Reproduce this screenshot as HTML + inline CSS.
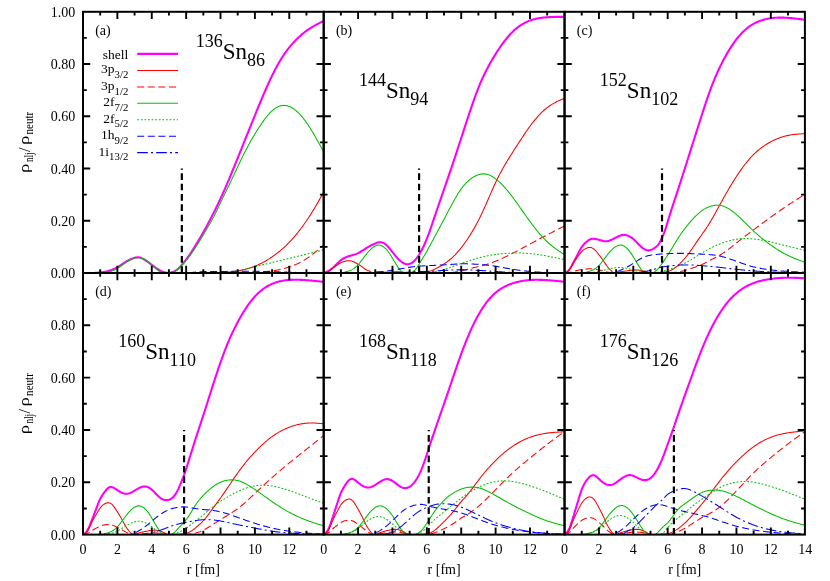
<!DOCTYPE html><html><head><meta charset="utf-8"><title>fig</title><style>html,body{margin:0;padding:0;background:#fff}svg{display:block}text{font-family:"Liberation Serif",serif;fill:#000}</style></head><body>
<svg width="830" height="581" viewBox="0 0 830 581">
<rect width="830" height="581" fill="#fff"/>
<g fill="none" stroke-linejoin="round">
<clipPath id="c0"><rect x="83.00" y="8.80" width="240.70" height="264.20"/></clipPath>
<g clip-path="url(#c0)">
<path d="M83.00 273.00L83.86 273.00L84.72 273.00L85.58 273.00L86.44 273.00L87.30 273.00L88.16 273.00L89.02 273.00L89.88 273.00L90.74 273.00L91.59 273.00L92.45 272.99L93.31 272.98L94.17 272.95L95.03 272.91L95.89 272.87L96.75 272.81L97.61 272.74L98.47 272.66L99.33 272.57L100.19 272.48L101.05 272.37L101.91 272.25L102.77 272.13L103.63 271.99L104.49 271.83L105.35 271.67L106.21 271.48L107.07 271.28L107.93 271.07L108.78 270.83L109.64 270.58L110.50 270.30L111.36 270.01L112.22 269.69L113.08 269.35L113.94 268.98L114.80 268.59L115.66 268.17L116.52 267.73L117.38 267.25L118.24 266.75L119.10 266.23L119.96 265.68L120.82 265.12L121.68 264.56L122.54 263.98L123.40 263.41L124.26 262.85L125.12 262.30L125.97 261.77L126.83 261.26L127.69 260.77L128.55 260.30L129.41 259.87L130.27 259.46L131.13 259.07L131.99 258.72L132.85 258.40L133.71 258.11L134.57 257.85L135.43 257.63L136.29 257.46L137.15 257.35L138.01 257.33L138.87 257.40L139.73 257.55L140.59 257.79L141.45 258.10L142.31 258.47L143.17 258.90L144.02 259.37L144.88 259.89L145.74 260.44L146.60 261.03L147.46 261.64L148.32 262.27L149.18 262.92L150.04 263.58L150.90 264.24L151.76 264.90L152.62 265.56L153.48 266.21L154.34 266.84L155.20 267.46L156.06 268.06L156.92 268.63L157.78 269.18L158.64 269.71L159.50 270.20L160.36 270.65L161.21 271.06L162.07 271.44L162.93 271.77L163.79 272.06L164.65 272.30L165.51 272.50L166.37 272.64L167.23 272.74L168.09 272.78L168.95 272.77L169.81 272.70L170.67 272.57L171.53 272.38L172.39 272.13L173.25 271.81L174.11 271.43L174.97 270.98L175.83 270.47L176.69 269.88L177.55 269.21L178.40 268.47L179.26 267.67L180.12 266.80L180.98 265.87L181.84 264.90L182.70 263.89L183.56 262.85L184.42 261.78L185.28 260.67L186.14 259.55L187.00 258.40L187.86 257.23L188.72 256.03L189.58 254.80L190.44 253.54L191.30 252.23L192.16 250.88L193.02 249.51L193.88 248.11L194.74 246.71L195.59 245.30L196.45 243.90L197.31 242.49L198.17 241.08L199.03 239.65L199.89 238.21L200.75 236.76L201.61 235.28L202.47 233.79L203.33 232.28L204.19 230.75L205.05 229.20L205.91 227.64L206.77 226.06L207.63 224.46L208.49 222.86L209.35 221.23L210.21 219.60L211.07 217.94L211.93 216.27L212.78 214.59L213.64 212.89L214.50 211.17L215.36 209.43L216.22 207.68L217.08 205.91L217.94 204.12L218.80 202.31L219.66 200.48L220.52 198.63L221.38 196.76L222.24 194.87L223.10 192.96L223.96 191.03L224.82 189.08L225.68 187.11L226.54 185.12L227.40 183.11L228.26 181.08L229.12 179.04L229.97 176.99L230.83 174.92L231.69 172.85L232.55 170.76L233.41 168.66L234.27 166.55L235.13 164.44L235.99 162.31L236.85 160.19L237.71 158.06L238.57 155.92L239.43 153.79L240.29 151.65L241.15 149.52L242.01 147.38L242.87 145.24L243.73 143.10L244.59 140.97L245.45 138.83L246.31 136.70L247.16 134.56L248.02 132.43L248.88 130.29L249.74 128.16L250.60 126.03L251.46 123.91L252.32 121.78L253.18 119.66L254.04 117.54L254.90 115.42L255.76 113.31L256.62 111.20L257.48 109.10L258.34 107.01L259.20 104.93L260.06 102.86L260.92 100.80L261.78 98.75L262.64 96.72L263.50 94.70L264.35 92.70L265.21 90.72L266.07 88.76L266.93 86.81L267.79 84.89L268.65 83.00L269.51 81.12L270.37 79.28L271.23 77.46L272.09 75.67L272.95 73.92L273.81 72.20L274.67 70.52L275.53 68.87L276.39 67.26L277.25 65.68L278.11 64.14L278.97 62.64L279.83 61.18L280.69 59.75L281.54 58.37L282.40 57.02L283.26 55.71L284.12 54.43L284.98 53.19L285.84 51.99L286.70 50.81L287.56 49.67L288.42 48.56L289.28 47.47L290.14 46.42L291.00 45.39L291.86 44.38L292.72 43.41L293.58 42.46L294.44 41.53L295.30 40.62L296.16 39.74L297.02 38.88L297.88 38.05L298.73 37.23L299.59 36.44L300.45 35.66L301.31 34.91L302.17 34.17L303.03 33.46L303.89 32.77L304.75 32.09L305.61 31.44L306.47 30.81L307.33 30.19L308.19 29.60L309.05 29.02L309.91 28.46L310.77 27.91L311.63 27.38L312.49 26.87L313.35 26.36L314.21 25.87L315.07 25.39L315.92 24.92L316.78 24.46L317.64 24.00L318.50 23.56L319.36 23.11L320.22 22.68L321.08 22.25L321.94 21.82L322.80 21.39L323.66 20.96" stroke="#ff00ff" stroke-width="2.1"/>
<path d="M83.00 273.00L83.86 273.00L84.72 273.00L85.58 273.00L86.44 273.00L87.30 273.00L88.16 273.00L89.02 273.00L89.88 273.00L90.74 273.00L91.59 273.00L92.45 273.00L93.31 273.00L94.17 273.00L95.03 273.00L95.89 273.00L96.75 273.00L97.61 273.00L98.47 273.00L99.33 273.00L100.19 273.00L101.05 273.00L101.91 273.00L102.77 273.00L103.63 273.00L104.49 273.00L105.35 273.00L106.21 273.00L107.07 273.00L107.93 273.00L108.78 273.00L109.64 273.00L110.50 273.00L111.36 273.00L112.22 273.00L113.08 273.00L113.94 273.00L114.80 273.00L115.66 273.00L116.52 273.00L117.38 273.00L118.24 273.00L119.10 273.00L119.96 273.00L120.82 273.00L121.68 273.00L122.54 273.00L123.40 273.00L124.26 273.00L125.12 273.00L125.97 273.00L126.83 273.00L127.69 273.00L128.55 273.00L129.41 273.00L130.27 273.00L131.13 273.00L131.99 273.00L132.85 273.00L133.71 273.00L134.57 273.00L135.43 273.00L136.29 273.00L137.15 273.00L138.01 273.00L138.87 273.00L139.73 273.00L140.59 273.00L141.45 273.00L142.31 273.00L143.17 273.00L144.02 273.00L144.88 273.00L145.74 273.00L146.60 273.00L147.46 273.00L148.32 273.00L149.18 273.00L150.04 273.00L150.90 273.00L151.76 273.00L152.62 273.00L153.48 273.00L154.34 273.00L155.20 273.00L156.06 273.00L156.92 273.00L157.78 273.00L158.64 273.00L159.50 273.00L160.36 273.00L161.21 273.00L162.07 273.00L162.93 273.00L163.79 273.00L164.65 273.00L165.51 273.00L166.37 273.00L167.23 273.00L168.09 273.00L168.95 273.00L169.81 273.00L170.67 273.00L171.53 273.00L172.39 273.00L173.25 273.00L174.11 273.00L174.97 273.00L175.83 273.00L176.69 273.00L177.55 273.00L178.40 273.00L179.26 273.00L180.12 273.00L180.98 273.00L181.84 273.00L182.70 273.00L183.56 273.00L184.42 273.00L185.28 273.00L186.14 273.00L187.00 273.00L187.86 273.00L188.72 273.00L189.58 273.00L190.44 273.00L191.30 273.00L192.16 273.00L193.02 273.00L193.88 273.00L194.74 273.00L195.59 273.00L196.45 273.00L197.31 273.00L198.17 273.00L199.03 273.00L199.89 273.00L200.75 273.00L201.61 273.00L202.47 273.00L203.33 273.00L204.19 273.00L205.05 273.00L205.91 273.00L206.77 273.00L207.63 273.00L208.49 273.00L209.35 272.99L210.21 272.99L211.07 272.98L211.93 272.98L212.78 272.97L213.64 272.95L214.50 272.94L215.36 272.92L216.22 272.90L217.08 272.88L217.94 272.85L218.80 272.82L219.66 272.78L220.52 272.74L221.38 272.69L222.24 272.65L223.10 272.59L223.96 272.54L224.82 272.47L225.68 272.41L226.54 272.34L227.40 272.26L228.26 272.18L229.12 272.09L229.97 272.00L230.83 271.90L231.69 271.80L232.55 271.69L233.41 271.57L234.27 271.45L235.13 271.32L235.99 271.19L236.85 271.05L237.71 270.90L238.57 270.74L239.43 270.58L240.29 270.41L241.15 270.23L242.01 270.05L242.87 269.86L243.73 269.66L244.59 269.45L245.45 269.23L246.31 269.00L247.16 268.77L248.02 268.52L248.88 268.27L249.74 268.00L250.60 267.72L251.46 267.44L252.32 267.14L253.18 266.83L254.04 266.51L254.90 266.18L255.76 265.83L256.62 265.48L257.48 265.11L258.34 264.73L259.20 264.33L260.06 263.92L260.92 263.50L261.78 263.07L262.64 262.62L263.50 262.16L264.35 261.69L265.21 261.20L266.07 260.71L266.93 260.20L267.79 259.67L268.65 259.14L269.51 258.59L270.37 258.03L271.23 257.46L272.09 256.87L272.95 256.28L273.81 255.67L274.67 255.05L275.53 254.42L276.39 253.78L277.25 253.12L278.11 252.45L278.97 251.77L279.83 251.07L280.69 250.36L281.54 249.63L282.40 248.89L283.26 248.13L284.12 247.36L284.98 246.57L285.84 245.76L286.70 244.94L287.56 244.10L288.42 243.24L289.28 242.36L290.14 241.46L291.00 240.55L291.86 239.61L292.72 238.66L293.58 237.68L294.44 236.69L295.30 235.68L296.16 234.65L297.02 233.59L297.88 232.52L298.73 231.44L299.59 230.33L300.45 229.20L301.31 228.05L302.17 226.89L303.03 225.70L303.89 224.50L304.75 223.28L305.61 222.05L306.47 220.79L307.33 219.52L308.19 218.22L309.05 216.92L309.91 215.59L310.77 214.25L311.63 212.89L312.49 211.51L313.35 210.11L314.21 208.70L315.07 207.27L315.92 205.82L316.78 204.36L317.64 202.88L318.50 201.38L319.36 199.87L320.22 198.34L321.08 196.79L321.94 195.23L322.80 193.65L323.66 192.05" stroke="#ff0000" stroke-width="1.05"/>
<path d="M83.00 273.00L83.86 273.00L84.72 273.00L85.58 273.00L86.44 273.00L87.30 273.00L88.16 273.00L89.02 273.00L89.88 273.00L90.74 273.00L91.59 273.00L92.45 273.00L93.31 273.00L94.17 273.00L95.03 273.00L95.89 273.00L96.75 273.00L97.61 273.00L98.47 273.00L99.33 273.00L100.19 273.00L101.05 273.00L101.91 273.00L102.77 273.00L103.63 273.00L104.49 273.00L105.35 273.00L106.21 273.00L107.07 273.00L107.93 273.00L108.78 273.00L109.64 273.00L110.50 273.00L111.36 273.00L112.22 273.00L113.08 273.00L113.94 273.00L114.80 273.00L115.66 273.00L116.52 273.00L117.38 273.00L118.24 273.00L119.10 273.00L119.96 273.00L120.82 273.00L121.68 273.00L122.54 273.00L123.40 273.00L124.26 273.00L125.12 273.00L125.97 273.00L126.83 273.00L127.69 273.00L128.55 273.00L129.41 273.00L130.27 273.00L131.13 273.00L131.99 273.00L132.85 273.00L133.71 273.00L134.57 273.00L135.43 273.00L136.29 273.00L137.15 273.00L138.01 273.00L138.87 273.00L139.73 273.00L140.59 273.00L141.45 273.00L142.31 273.00L143.17 273.00L144.02 273.00L144.88 273.00L145.74 273.00L146.60 273.00L147.46 273.00L148.32 273.00L149.18 273.00L150.04 273.00L150.90 273.00L151.76 273.00L152.62 273.00L153.48 273.00L154.34 273.00L155.20 273.00L156.06 273.00L156.92 273.00L157.78 273.00L158.64 273.00L159.50 273.00L160.36 273.00L161.21 273.00L162.07 273.00L162.93 273.00L163.79 273.00L164.65 273.00L165.51 273.00L166.37 273.00L167.23 273.00L168.09 273.00L168.95 273.00L169.81 273.00L170.67 273.00L171.53 273.00L172.39 273.00L173.25 273.00L174.11 273.00L174.97 273.00L175.83 273.00L176.69 273.00L177.55 273.00L178.40 273.00L179.26 273.00L180.12 273.00L180.98 273.00L181.84 273.00L182.70 273.00L183.56 273.00L184.42 273.00L185.28 273.00L186.14 273.00L187.00 273.00L187.86 273.00L188.72 273.00L189.58 273.00L190.44 273.00L191.30 273.00L192.16 273.00L193.02 273.00L193.88 273.00L194.74 273.00L195.59 273.00L196.45 273.00L197.31 273.00L198.17 273.00L199.03 273.00L199.89 273.00L200.75 273.00L201.61 273.00L202.47 273.00L203.33 273.00L204.19 273.00L205.05 273.00L205.91 273.00L206.77 273.00L207.63 273.00L208.49 273.00L209.35 273.00L210.21 273.00L211.07 273.00L211.93 273.00L212.78 273.00L213.64 273.00L214.50 273.00L215.36 273.00L216.22 273.00L217.08 273.00L217.94 273.00L218.80 273.00L219.66 273.00L220.52 273.00L221.38 273.00L222.24 273.00L223.10 273.00L223.96 273.00L224.82 273.00L225.68 273.00L226.54 273.00L227.40 272.99L228.26 272.99L229.12 272.99L229.97 272.98L230.83 272.97L231.69 272.96L232.55 272.95L233.41 272.94L234.27 272.93L235.13 272.92L235.99 272.90L236.85 272.88L237.71 272.86L238.57 272.84L239.43 272.82L240.29 272.80L241.15 272.78L242.01 272.75L242.87 272.73L243.73 272.70L244.59 272.67L245.45 272.64L246.31 272.61L247.16 272.58L248.02 272.55L248.88 272.51L249.74 272.48L250.60 272.44L251.46 272.41L252.32 272.37L253.18 272.33L254.04 272.29L254.90 272.24L255.76 272.20L256.62 272.16L257.48 272.11L258.34 272.06L259.20 272.01L260.06 271.96L260.92 271.90L261.78 271.84L262.64 271.78L263.50 271.72L264.35 271.65L265.21 271.58L266.07 271.51L266.93 271.43L267.79 271.35L268.65 271.26L269.51 271.17L270.37 271.08L271.23 270.97L272.09 270.86L272.95 270.75L273.81 270.63L274.67 270.50L275.53 270.36L276.39 270.22L277.25 270.07L278.11 269.91L278.97 269.74L279.83 269.56L280.69 269.38L281.54 269.19L282.40 268.98L283.26 268.77L284.12 268.55L284.98 268.32L285.84 268.08L286.70 267.83L287.56 267.57L288.42 267.30L289.28 267.02L290.14 266.73L291.00 266.43L291.86 266.11L292.72 265.79L293.58 265.45L294.44 265.10L295.30 264.74L296.16 264.37L297.02 263.98L297.88 263.58L298.73 263.16L299.59 262.73L300.45 262.29L301.31 261.83L302.17 261.36L303.03 260.87L303.89 260.36L304.75 259.84L305.61 259.30L306.47 258.75L307.33 258.17L308.19 257.58L309.05 256.97L309.91 256.35L310.77 255.71L311.63 255.06L312.49 254.39L313.35 253.71L314.21 253.02L315.07 252.32L315.92 251.60L316.78 250.88L317.64 250.15L318.50 249.41L319.36 248.66L320.22 247.90L321.08 247.12L321.94 246.34L322.80 245.55L323.66 244.74" stroke="#ff0000" stroke-width="1.05" stroke-dasharray="7 3.6"/>
<path d="M83.00 273.00L83.86 273.00L84.72 273.00L85.58 273.00L86.44 273.00L87.30 273.00L88.16 273.00L89.02 273.00L89.88 273.00L90.74 273.00L91.59 273.00L92.45 273.00L93.31 273.00L94.17 273.00L95.03 273.00L95.89 273.00L96.75 273.00L97.61 273.00L98.47 273.00L99.33 272.98L100.19 272.95L101.05 272.89L101.91 272.81L102.77 272.71L103.63 272.59L104.49 272.47L105.35 272.34L106.21 272.21L107.07 272.06L107.93 271.91L108.78 271.75L109.64 271.56L110.50 271.36L111.36 271.13L112.22 270.87L113.08 270.57L113.94 270.23L114.80 269.84L115.66 269.41L116.52 268.95L117.38 268.44L118.24 267.90L119.10 267.33L119.96 266.74L120.82 266.13L121.68 265.51L122.54 264.88L123.40 264.26L124.26 263.63L125.12 263.02L125.97 262.42L126.83 261.84L127.69 261.29L128.55 260.78L129.41 260.29L130.27 259.83L131.13 259.41L131.99 259.03L132.85 258.68L133.71 258.37L134.57 258.10L135.43 257.89L136.29 257.73L137.15 257.63L138.01 257.59L138.87 257.62L139.73 257.71L140.59 257.87L141.45 258.09L142.31 258.37L143.17 258.70L144.02 259.09L144.88 259.53L145.74 260.03L146.60 260.57L147.46 261.17L148.32 261.81L149.18 262.51L150.04 263.25L150.90 264.02L151.76 264.82L152.62 265.62L153.48 266.42L154.34 267.22L155.20 267.99L156.06 268.74L156.92 269.47L157.78 270.18L158.64 270.87L159.50 271.51L160.36 272.04L161.21 272.42L162.07 272.67L162.93 272.81L163.79 272.90L164.65 272.95L165.51 272.98L166.37 272.99L167.23 273.00L168.09 272.99L168.95 272.95L169.81 272.88L170.67 272.76L171.53 272.59L172.39 272.36L173.25 272.06L174.11 271.68L174.97 271.24L175.83 270.72L176.69 270.13L177.55 269.47L178.40 268.76L179.26 268.00L180.12 267.18L180.98 266.32L181.84 265.43L182.70 264.49L183.56 263.52L184.42 262.53L185.28 261.51L186.14 260.46L187.00 259.40L187.86 258.31L188.72 257.20L189.58 256.06L190.44 254.90L191.30 253.72L192.16 252.50L193.02 251.26L193.88 249.99L194.74 248.71L195.59 247.40L196.45 246.08L197.31 244.74L198.17 243.38L199.03 242.01L199.89 240.61L200.75 239.20L201.61 237.77L202.47 236.32L203.33 234.86L204.19 233.39L205.05 231.91L205.91 230.43L206.77 228.95L207.63 227.48L208.49 226.01L209.35 224.56L210.21 223.10L211.07 221.63L211.93 220.10L212.78 218.52L213.64 216.89L214.50 215.22L215.36 213.50L216.22 211.76L217.08 209.98L217.94 208.19L218.80 206.37L219.66 204.56L220.52 202.74L221.38 200.92L222.24 199.13L223.10 197.35L223.96 195.59L224.82 193.84L225.68 192.10L226.54 190.35L227.40 188.60L228.26 186.82L229.12 185.04L229.97 183.24L230.83 181.43L231.69 179.61L232.55 177.78L233.41 175.95L234.27 174.11L235.13 172.28L235.99 170.44L236.85 168.61L237.71 166.78L238.57 164.96L239.43 163.15L240.29 161.35L241.15 159.56L242.01 157.79L242.87 156.04L243.73 154.32L244.59 152.61L245.45 150.94L246.31 149.28L247.16 147.65L248.02 146.04L248.88 144.46L249.74 142.90L250.60 141.37L251.46 139.85L252.32 138.36L253.18 136.89L254.04 135.45L254.90 134.02L255.76 132.61L256.62 131.23L257.48 129.86L258.34 128.52L259.20 127.19L260.06 125.88L260.92 124.59L261.78 123.32L262.64 122.08L263.50 120.86L264.35 119.67L265.21 118.52L266.07 117.40L266.93 116.32L267.79 115.28L268.65 114.28L269.51 113.33L270.37 112.43L271.23 111.58L272.09 110.78L272.95 110.03L273.81 109.34L274.67 108.71L275.53 108.12L276.39 107.60L277.25 107.13L278.11 106.71L278.97 106.35L279.83 106.05L280.69 105.80L281.54 105.61L282.40 105.48L283.26 105.40L284.12 105.38L284.98 105.42L285.84 105.52L286.70 105.67L287.56 105.87L288.42 106.13L289.28 106.45L290.14 106.81L291.00 107.23L291.86 107.70L292.72 108.21L293.58 108.78L294.44 109.40L295.30 110.06L296.16 110.77L297.02 111.52L297.88 112.32L298.73 113.16L299.59 114.04L300.45 114.97L301.31 115.94L302.17 116.94L303.03 117.99L303.89 119.08L304.75 120.21L305.61 121.37L306.47 122.57L307.33 123.81L308.19 125.08L309.05 126.39L309.91 127.73L310.77 129.10L311.63 130.50L312.49 131.93L313.35 133.39L314.21 134.86L315.07 136.35L315.92 137.86L316.78 139.39L317.64 140.92L318.50 142.46L319.36 144.00L320.22 145.55L321.08 147.09L321.94 148.64L322.80 150.18L323.66 151.71" stroke="#00c000" stroke-width="1.05"/>
<path d="M83.00 273.00L83.86 273.00L84.72 273.00L85.58 273.00L86.44 273.00L87.30 273.00L88.16 273.00L89.02 273.00L89.88 273.00L90.74 273.00L91.59 273.00L92.45 273.00L93.31 273.00L94.17 273.00L95.03 273.00L95.89 273.00L96.75 273.00L97.61 273.00L98.47 273.00L99.33 273.00L100.19 273.00L101.05 273.00L101.91 273.00L102.77 273.00L103.63 273.00L104.49 273.00L105.35 273.00L106.21 273.00L107.07 273.00L107.93 273.00L108.78 273.00L109.64 273.00L110.50 273.00L111.36 273.00L112.22 273.00L113.08 273.00L113.94 273.00L114.80 273.00L115.66 273.00L116.52 273.00L117.38 273.00L118.24 273.00L119.10 273.00L119.96 273.00L120.82 273.00L121.68 273.00L122.54 273.00L123.40 273.00L124.26 273.00L125.12 273.00L125.97 273.00L126.83 273.00L127.69 273.00L128.55 273.00L129.41 273.00L130.27 273.00L131.13 273.00L131.99 273.00L132.85 273.00L133.71 273.00L134.57 273.00L135.43 273.00L136.29 273.00L137.15 273.00L138.01 273.00L138.87 273.00L139.73 273.00L140.59 273.00L141.45 273.00L142.31 273.00L143.17 273.00L144.02 273.00L144.88 273.00L145.74 273.00L146.60 273.00L147.46 273.00L148.32 273.00L149.18 273.00L150.04 273.00L150.90 273.00L151.76 273.00L152.62 273.00L153.48 273.00L154.34 273.00L155.20 273.00L156.06 273.00L156.92 273.00L157.78 273.00L158.64 273.00L159.50 273.00L160.36 273.00L161.21 273.00L162.07 273.00L162.93 273.00L163.79 273.00L164.65 273.00L165.51 273.00L166.37 273.00L167.23 273.00L168.09 273.00L168.95 273.00L169.81 273.00L170.67 273.00L171.53 273.00L172.39 273.00L173.25 273.00L174.11 273.00L174.97 273.00L175.83 273.00L176.69 273.00L177.55 273.00L178.40 273.00L179.26 273.00L180.12 273.00L180.98 273.00L181.84 273.00L182.70 273.00L183.56 273.00L184.42 273.00L185.28 273.00L186.14 273.00L187.00 273.00L187.86 273.00L188.72 273.00L189.58 273.00L190.44 273.00L191.30 273.00L192.16 273.00L193.02 273.00L193.88 273.00L194.74 273.00L195.59 273.00L196.45 273.00L197.31 273.00L198.17 273.00L199.03 273.00L199.89 273.00L200.75 273.00L201.61 273.00L202.47 273.00L203.33 273.00L204.19 273.00L205.05 273.00L205.91 273.00L206.77 273.00L207.63 273.00L208.49 273.00L209.35 272.99L210.21 272.99L211.07 272.98L211.93 272.98L212.78 272.97L213.64 272.96L214.50 272.94L215.36 272.92L216.22 272.90L217.08 272.88L217.94 272.85L218.80 272.82L219.66 272.78L220.52 272.74L221.38 272.69L222.24 272.64L223.10 272.59L223.96 272.53L224.82 272.47L225.68 272.40L226.54 272.33L227.40 272.25L228.26 272.17L229.12 272.08L229.97 271.98L230.83 271.88L231.69 271.78L232.55 271.66L233.41 271.55L234.27 271.42L235.13 271.29L235.99 271.15L236.85 271.01L237.71 270.86L238.57 270.71L239.43 270.54L240.29 270.37L241.15 270.20L242.01 270.02L242.87 269.83L243.73 269.64L244.59 269.45L245.45 269.24L246.31 269.04L247.16 268.83L248.02 268.61L248.88 268.40L249.74 268.18L250.60 267.95L251.46 267.73L252.32 267.50L253.18 267.28L254.04 267.05L254.90 266.82L255.76 266.60L256.62 266.37L257.48 266.15L258.34 265.93L259.20 265.71L260.06 265.49L260.92 265.27L261.78 265.05L262.64 264.84L263.50 264.62L264.35 264.41L265.21 264.19L266.07 263.98L266.93 263.77L267.79 263.56L268.65 263.35L269.51 263.14L270.37 262.93L271.23 262.73L272.09 262.52L272.95 262.31L273.81 262.10L274.67 261.90L275.53 261.69L276.39 261.48L277.25 261.27L278.11 261.07L278.97 260.86L279.83 260.65L280.69 260.44L281.54 260.24L282.40 260.03L283.26 259.82L284.12 259.61L284.98 259.41L285.84 259.20L286.70 258.99L287.56 258.79L288.42 258.58L289.28 258.37L290.14 258.17L291.00 257.96L291.86 257.75L292.72 257.54L293.58 257.34L294.44 257.13L295.30 256.92L296.16 256.71L297.02 256.51L297.88 256.30L298.73 256.09L299.59 255.88L300.45 255.67L301.31 255.46L302.17 255.25L303.03 255.04L303.89 254.83L304.75 254.61L305.61 254.40L306.47 254.19L307.33 253.97L308.19 253.76L309.05 253.54L309.91 253.33L310.77 253.11L311.63 252.89L312.49 252.67L313.35 252.46L314.21 252.24L315.07 252.01L315.92 251.79L316.78 251.57L317.64 251.34L318.50 251.12L319.36 250.89L320.22 250.67L321.08 250.44L321.94 250.21L322.80 249.98L323.66 249.75" stroke="#00c000" stroke-width="1.05" stroke-dasharray="1.8 1.8"/>
<path d="M83.00 273.00L83.86 273.00L84.72 273.00L85.58 273.00L86.44 273.00L87.30 273.00L88.16 273.00L89.02 273.00L89.88 273.00L90.74 273.00L91.59 273.00L92.45 273.00L93.31 273.00L94.17 273.00L95.03 273.00L95.89 273.00L96.75 273.00L97.61 273.00L98.47 273.00L99.33 273.00L100.19 273.00L101.05 273.00L101.91 273.00L102.77 273.00L103.63 273.00L104.49 273.00L105.35 273.00L106.21 273.00L107.07 273.00L107.93 273.00L108.78 273.00L109.64 273.00L110.50 273.00L111.36 273.00L112.22 273.00L113.08 273.00L113.94 273.00L114.80 273.00L115.66 273.00L116.52 273.00L117.38 273.00L118.24 273.00L119.10 273.00L119.96 273.00L120.82 273.00L121.68 273.00L122.54 273.00L123.40 273.00L124.26 273.00L125.12 273.00L125.97 273.00L126.83 273.00L127.69 273.00L128.55 273.00L129.41 273.00L130.27 273.00L131.13 273.00L131.99 273.00L132.85 273.00L133.71 273.00L134.57 273.00L135.43 273.00L136.29 273.00L137.15 273.00L138.01 273.00L138.87 273.00L139.73 273.00L140.59 273.00L141.45 273.00L142.31 273.00L143.17 273.00L144.02 273.00L144.88 273.00L145.74 273.00L146.60 273.00L147.46 273.00L148.32 273.00L149.18 273.00L150.04 273.00L150.90 273.00L151.76 273.00L152.62 273.00L153.48 273.00L154.34 273.00L155.20 273.00L156.06 273.00L156.92 273.00L157.78 273.00L158.64 273.00L159.50 273.00L160.36 273.00L161.21 273.00L162.07 273.00L162.93 273.00L163.79 273.00L164.65 273.00L165.51 273.00L166.37 273.00L167.23 273.00L168.09 273.00L168.95 273.00L169.81 273.00L170.67 273.00L171.53 273.00L172.39 273.00L173.25 273.00L174.11 273.00L174.97 273.00L175.83 273.00L176.69 273.00L177.55 273.00L178.40 273.00L179.26 273.00L180.12 273.00L180.98 273.00L181.84 272.99L182.70 272.98L183.56 272.97L184.42 272.95L185.28 272.93L186.14 272.89L187.00 272.86L187.86 272.81L188.72 272.75L189.58 272.69L190.44 272.62L191.30 272.55L192.16 272.47L193.02 272.39L193.88 272.30L194.74 272.22L195.59 272.13L196.45 272.05L197.31 271.98L198.17 271.91L199.03 271.84L199.89 271.78L200.75 271.72L201.61 271.67L202.47 271.62L203.33 271.58L204.19 271.55L205.05 271.52L205.91 271.49L206.77 271.47L207.63 271.45L208.49 271.43L209.35 271.42L210.21 271.41L211.07 271.41L211.93 271.41L212.78 271.41L213.64 271.41L214.50 271.41L215.36 271.41L216.22 271.42L217.08 271.42L217.94 271.43L218.80 271.43L219.66 271.43L220.52 271.43L221.38 271.43L222.24 271.43L223.10 271.43L223.96 271.42L224.82 271.42L225.68 271.41L226.54 271.40L227.40 271.39L228.26 271.38L229.12 271.37L229.97 271.36L230.83 271.34L231.69 271.33L232.55 271.32L233.41 271.31L234.27 271.29L235.13 271.28L235.99 271.27L236.85 271.25L237.71 271.24L238.57 271.23L239.43 271.22L240.29 271.21L241.15 271.20L242.01 271.19L242.87 271.19L243.73 271.18L244.59 271.18L245.45 271.17L246.31 271.17L247.16 271.17L248.02 271.17L248.88 271.18L249.74 271.19L250.60 271.19L251.46 271.20L252.32 271.21L253.18 271.22L254.04 271.24L254.90 271.25L255.76 271.27L256.62 271.28L257.48 271.30L258.34 271.32L259.20 271.34L260.06 271.36L260.92 271.38L261.78 271.40L262.64 271.42L263.50 271.45L264.35 271.47L265.21 271.50L266.07 271.52L266.93 271.54L267.79 271.57L268.65 271.59L269.51 271.62L270.37 271.64L271.23 271.67L272.09 271.69L272.95 271.72L273.81 271.74L274.67 271.77L275.53 271.79L276.39 271.82L277.25 271.84L278.11 271.87L278.97 271.89L279.83 271.92L280.69 271.94L281.54 271.97L282.40 271.99L283.26 272.02L284.12 272.05L284.98 272.07L285.84 272.10L286.70 272.12L287.56 272.15L288.42 272.18L289.28 272.20L290.14 272.23L291.00 272.26L291.86 272.28L292.72 272.31L293.58 272.34L294.44 272.37L295.30 272.39L296.16 272.42L297.02 272.45L297.88 272.48L298.73 272.51L299.59 272.53L300.45 272.56L301.31 272.59L302.17 272.61L303.03 272.64L303.89 272.67L304.75 272.69L305.61 272.72L306.47 272.74L307.33 272.76L308.19 272.79L309.05 272.81L309.91 272.83L310.77 272.85L311.63 272.87L312.49 272.89L313.35 272.90L314.21 272.92L315.07 272.93L315.92 272.94L316.78 272.96L317.64 272.97L318.50 272.97L319.36 272.98L320.22 272.99L321.08 272.99L321.94 273.00L322.80 273.00L323.66 273.00" stroke="#0000ff" stroke-width="1.05" stroke-dasharray="7 3.6"/>
<path d="M83.00 273.00L83.86 273.00L84.72 273.00L85.58 273.00L86.44 273.00L87.30 273.00L88.16 273.00L89.02 273.00L89.88 273.00L90.74 273.00L91.59 273.00L92.45 273.00L93.31 273.00L94.17 273.00L95.03 273.00L95.89 273.00L96.75 273.00L97.61 273.00L98.47 273.00L99.33 273.00L100.19 273.00L101.05 273.00L101.91 273.00L102.77 273.00L103.63 273.00L104.49 273.00L105.35 273.00L106.21 273.00L107.07 273.00L107.93 273.00L108.78 273.00L109.64 273.00L110.50 273.00L111.36 273.00L112.22 273.00L113.08 273.00L113.94 273.00L114.80 273.00L115.66 273.00L116.52 273.00L117.38 273.00L118.24 273.00L119.10 273.00L119.96 273.00L120.82 273.00L121.68 273.00L122.54 273.00L123.40 273.00L124.26 273.00L125.12 273.00L125.97 273.00L126.83 273.00L127.69 273.00L128.55 273.00L129.41 273.00L130.27 273.00L131.13 273.00L131.99 273.00L132.85 273.00L133.71 273.00L134.57 273.00L135.43 273.00L136.29 273.00L137.15 273.00L138.01 273.00L138.87 273.00L139.73 273.00L140.59 273.00L141.45 273.00L142.31 273.00L143.17 273.00L144.02 273.00L144.88 273.00L145.74 273.00L146.60 273.00L147.46 273.00L148.32 273.00L149.18 273.00L150.04 273.00L150.90 273.00L151.76 273.00L152.62 273.00L153.48 273.00L154.34 273.00L155.20 273.00L156.06 273.00L156.92 273.00L157.78 273.00L158.64 273.00L159.50 273.00L160.36 273.00L161.21 273.00L162.07 273.00L162.93 273.00L163.79 273.00L164.65 273.00L165.51 273.00L166.37 273.00L167.23 273.00L168.09 273.00L168.95 273.00L169.81 273.00L170.67 273.00L171.53 273.00L172.39 273.00L173.25 273.00L174.11 273.00L174.97 273.00L175.83 273.00L176.69 273.00L177.55 273.00L178.40 273.00L179.26 273.00L180.12 273.00L180.98 273.00L181.84 273.00L182.70 273.00L183.56 273.00L184.42 273.00L185.28 273.00L186.14 273.00L187.00 273.00L187.86 273.00L188.72 273.00L189.58 273.00L190.44 273.00L191.30 273.00L192.16 273.00L193.02 273.00L193.88 273.00L194.74 272.99L195.59 272.99L196.45 272.99L197.31 272.98L198.17 272.98L199.03 272.97L199.89 272.96L200.75 272.95L201.61 272.94L202.47 272.93L203.33 272.92L204.19 272.90L205.05 272.89L205.91 272.87L206.77 272.85L207.63 272.83L208.49 272.81L209.35 272.79L210.21 272.77L211.07 272.75L211.93 272.72L212.78 272.70L213.64 272.67L214.50 272.65L215.36 272.62L216.22 272.60L217.08 272.57L217.94 272.55L218.80 272.52L219.66 272.50L220.52 272.48L221.38 272.46L222.24 272.44L223.10 272.42L223.96 272.40L224.82 272.39L225.68 272.37L226.54 272.36L227.40 272.35L228.26 272.34L229.12 272.33L229.97 272.33L230.83 272.32L231.69 272.32L232.55 272.31L233.41 272.31L234.27 272.31L235.13 272.31L235.99 272.31L236.85 272.32L237.71 272.32L238.57 272.32L239.43 272.33L240.29 272.33L241.15 272.34L242.01 272.35L242.87 272.35L243.73 272.36L244.59 272.37L245.45 272.38L246.31 272.39L247.16 272.40L248.02 272.41L248.88 272.42L249.74 272.42L250.60 272.43L251.46 272.44L252.32 272.45L253.18 272.46L254.04 272.47L254.90 272.48L255.76 272.49L256.62 272.49L257.48 272.50L258.34 272.51L259.20 272.51L260.06 272.52L260.92 272.53L261.78 272.53L262.64 272.54L263.50 272.55L264.35 272.55L265.21 272.56L266.07 272.56L266.93 272.57L267.79 272.57L268.65 272.58L269.51 272.59L270.37 272.59L271.23 272.60L272.09 272.60L272.95 272.61L273.81 272.61L274.67 272.62L275.53 272.62L276.39 272.63L277.25 272.64L278.11 272.64L278.97 272.65L279.83 272.66L280.69 272.66L281.54 272.67L282.40 272.68L283.26 272.68L284.12 272.69L284.98 272.70L285.84 272.71L286.70 272.71L287.56 272.72L288.42 272.73L289.28 272.74L290.14 272.75L291.00 272.76L291.86 272.77L292.72 272.77L293.58 272.78L294.44 272.79L295.30 272.80L296.16 272.81L297.02 272.82L297.88 272.83L298.73 272.84L299.59 272.85L300.45 272.86L301.31 272.87L302.17 272.88L303.03 272.88L303.89 272.89L304.75 272.90L305.61 272.91L306.47 272.92L307.33 272.92L308.19 272.93L309.05 272.94L309.91 272.95L310.77 272.95L311.63 272.96L312.49 272.96L313.35 272.97L314.21 272.97L315.07 272.98L315.92 272.98L316.78 272.99L317.64 272.99L318.50 272.99L319.36 272.99L320.22 273.00L321.08 273.00L321.94 273.00L322.80 273.00L323.66 273.00" stroke="#0000ff" stroke-width="1.05" stroke-dasharray="10.6 3.2 2 3.2"/>
<path d="M181.84 273.00V168.52" stroke="#000" stroke-width="2.2" stroke-dasharray="6.7 3.63"/>
</g></g>
<g fill="none" stroke-linejoin="round">
<clipPath id="c1"><rect x="323.70" y="8.80" width="240.85" height="264.20"/></clipPath>
<g clip-path="url(#c1)">
<path d="M323.70 273.00L324.56 272.64L325.42 272.28L326.28 271.90L327.14 271.51L328.00 271.08L328.86 270.62L329.72 270.12L330.58 269.57L331.44 268.97L332.30 268.30L333.15 267.57L334.01 266.78L334.87 265.95L335.73 265.09L336.59 264.23L337.45 263.36L338.31 262.51L339.17 261.69L340.03 260.92L340.89 260.20L341.75 259.56L342.61 258.98L343.47 258.46L344.33 257.99L345.19 257.58L346.05 257.21L346.91 256.87L347.77 256.57L348.63 256.29L349.49 256.02L350.34 255.77L351.20 255.53L352.06 255.28L352.92 255.04L353.78 254.78L354.64 254.50L355.50 254.21L356.36 253.89L357.22 253.54L358.08 253.15L358.94 252.72L359.80 252.25L360.66 251.75L361.52 251.23L362.38 250.69L363.24 250.14L364.10 249.58L364.96 249.02L365.82 248.47L366.68 247.92L367.53 247.40L368.39 246.90L369.25 246.41L370.11 245.94L370.97 245.49L371.83 245.05L372.69 244.64L373.55 244.24L374.41 243.85L375.27 243.48L376.13 243.14L376.99 242.82L377.85 242.55L378.71 242.34L379.57 242.21L380.43 242.18L381.29 242.25L382.15 242.43L383.01 242.72L383.87 243.12L384.72 243.64L385.58 244.27L386.44 245.01L387.30 245.85L388.16 246.78L389.02 247.77L389.88 248.82L390.74 249.90L391.60 251.00L392.46 252.10L393.32 253.20L394.18 254.27L395.04 255.32L395.90 256.34L396.76 257.33L397.62 258.27L398.48 259.16L399.34 260.01L400.20 260.79L401.06 261.51L401.91 262.16L402.77 262.73L403.63 263.21L404.49 263.61L405.35 263.92L406.21 264.12L407.07 264.21L407.93 264.20L408.79 264.08L409.65 263.86L410.51 263.53L411.37 263.09L412.23 262.55L413.09 261.92L413.95 261.18L414.81 260.34L415.67 259.40L416.53 258.37L417.39 257.24L418.25 256.02L419.10 254.71L419.96 253.30L420.82 251.81L421.68 250.22L422.54 248.54L423.40 246.77L424.26 244.91L425.12 242.96L425.98 240.91L426.84 238.78L427.70 236.56L428.56 234.26L429.42 231.90L430.28 229.47L431.14 227.00L432.00 224.49L432.86 221.96L433.72 219.41L434.58 216.86L435.44 214.31L436.29 211.78L437.15 209.27L438.01 206.77L438.87 204.28L439.73 201.79L440.59 199.32L441.45 196.84L442.31 194.37L443.17 191.90L444.03 189.42L444.89 186.93L445.75 184.44L446.61 181.94L447.47 179.44L448.33 176.92L449.19 174.40L450.05 171.87L450.91 169.33L451.77 166.79L452.62 164.23L453.48 161.66L454.34 159.08L455.20 156.50L456.06 153.90L456.92 151.29L457.78 148.67L458.64 146.04L459.50 143.40L460.36 140.77L461.22 138.12L462.08 135.48L462.94 132.83L463.80 130.19L464.66 127.55L465.52 124.92L466.38 122.29L467.24 119.67L468.10 117.07L468.96 114.47L469.81 111.89L470.67 109.33L471.53 106.80L472.39 104.30L473.25 101.82L474.11 99.39L474.97 97.00L475.83 94.65L476.69 92.35L477.55 90.10L478.41 87.91L479.27 85.78L480.13 83.71L480.99 81.71L481.85 79.76L482.71 77.87L483.57 76.03L484.43 74.24L485.29 72.49L486.15 70.78L487.00 69.11L487.86 67.47L488.72 65.87L489.58 64.30L490.44 62.75L491.30 61.24L492.16 59.75L493.02 58.29L493.88 56.86L494.74 55.45L495.60 54.06L496.46 52.70L497.32 51.36L498.18 50.04L499.04 48.74L499.90 47.47L500.76 46.22L501.62 45.00L502.48 43.81L503.34 42.64L504.19 41.50L505.05 40.38L505.91 39.29L506.77 38.24L507.63 37.21L508.49 36.20L509.35 35.23L510.21 34.29L511.07 33.38L511.93 32.50L512.79 31.66L513.65 30.84L514.51 30.05L515.37 29.30L516.23 28.58L517.09 27.88L517.95 27.22L518.81 26.58L519.67 25.97L520.53 25.38L521.38 24.83L522.24 24.30L523.10 23.79L523.96 23.31L524.82 22.85L525.68 22.41L526.54 22.00L527.40 21.61L528.26 21.24L529.12 20.89L529.98 20.57L530.84 20.26L531.70 19.97L532.56 19.71L533.42 19.46L534.28 19.22L535.14 19.01L536.00 18.81L536.86 18.62L537.72 18.45L538.58 18.29L539.43 18.14L540.29 18.00L541.15 17.88L542.01 17.76L542.87 17.66L543.73 17.56L544.59 17.48L545.45 17.40L546.31 17.33L547.17 17.26L548.03 17.20L548.89 17.15L549.75 17.10L550.61 17.06L551.47 17.02L552.33 16.99L553.19 16.96L554.05 16.93L554.91 16.91L555.76 16.89L556.62 16.88L557.48 16.86L558.34 16.85L559.20 16.84L560.06 16.84L560.92 16.83L561.78 16.83L562.64 16.83L563.50 16.82L564.36 16.82" stroke="#ff00ff" stroke-width="2.1"/>
<path d="M323.70 273.00L324.56 272.95L325.42 272.80L326.28 272.56L327.14 272.22L328.00 271.77L328.86 271.23L329.72 270.60L330.58 269.90L331.44 269.18L332.30 268.46L333.15 267.78L334.01 267.15L334.87 266.56L335.73 266.00L336.59 265.44L337.45 264.87L338.31 264.29L339.17 263.73L340.03 263.20L340.89 262.72L341.75 262.31L342.61 261.96L343.47 261.67L344.33 261.43L345.19 261.21L346.05 261.03L346.91 260.88L347.77 260.78L348.63 260.72L349.49 260.73L350.34 260.81L351.20 260.95L352.06 261.17L352.92 261.46L353.78 261.82L354.64 262.24L355.50 262.71L356.36 263.21L357.22 263.72L358.08 264.23L358.94 264.74L359.80 265.25L360.66 265.78L361.52 266.35L362.38 266.95L363.24 267.61L364.10 268.31L364.96 268.98L365.82 269.58L366.68 270.06L367.53 270.40L368.39 270.69L369.25 271.04L370.11 271.54L370.97 272.19L371.83 272.79L372.69 273.00L373.55 272.85L374.41 272.55L375.27 272.23L376.13 271.98L376.99 271.82L377.85 271.77L378.71 271.80L379.57 271.88L380.43 272.00L381.29 272.12L382.15 272.22L383.01 272.28L383.87 272.32L384.72 272.34L385.58 272.33L386.44 272.31L387.30 272.27L388.16 272.22L389.02 272.16L389.88 272.09L390.74 272.01L391.60 271.93L392.46 271.85L393.32 271.78L394.18 271.72L395.04 271.67L395.90 271.65L396.76 271.64L397.62 271.65L398.48 271.67L399.34 271.72L400.20 271.78L401.06 271.86L401.91 271.95L402.77 272.05L403.63 272.17L404.49 272.28L405.35 272.40L406.21 272.52L407.07 272.63L407.93 272.73L408.79 272.81L409.65 272.88L410.51 272.94L411.37 272.97L412.23 272.99L413.09 273.00L413.95 272.99L414.81 272.98L415.67 272.96L416.53 272.93L417.39 272.89L418.25 272.85L419.10 272.80L419.96 272.75L420.82 272.69L421.68 272.63L422.54 272.55L423.40 272.46L424.26 272.36L425.12 272.25L425.98 272.11L426.84 271.96L427.70 271.77L428.56 271.55L429.42 271.31L430.28 271.03L431.14 270.73L432.00 270.40L432.86 270.04L433.72 269.65L434.58 269.24L435.44 268.82L436.29 268.38L437.15 267.94L438.01 267.48L438.87 267.01L439.73 266.53L440.59 266.03L441.45 265.52L442.31 265.00L443.17 264.47L444.03 263.92L444.89 263.35L445.75 262.76L446.61 262.16L447.47 261.53L448.33 260.89L449.19 260.22L450.05 259.53L450.91 258.81L451.77 258.06L452.62 257.29L453.48 256.48L454.34 255.64L455.20 254.77L456.06 253.86L456.92 252.93L457.78 251.96L458.64 250.96L459.50 249.93L460.36 248.88L461.22 247.79L462.08 246.68L462.94 245.54L463.80 244.38L464.66 243.19L465.52 241.98L466.38 240.74L467.24 239.48L468.10 238.19L468.96 236.87L469.81 235.52L470.67 234.15L471.53 232.75L472.39 231.33L473.25 229.87L474.11 228.39L474.97 226.87L475.83 225.32L476.69 223.74L477.55 222.12L478.41 220.46L479.27 218.77L480.13 217.03L480.99 215.26L481.85 213.45L482.71 211.60L483.57 209.73L484.43 207.83L485.29 205.91L486.15 203.96L487.00 202.01L487.86 200.04L488.72 198.06L489.58 196.09L490.44 194.11L491.30 192.14L492.16 190.18L493.02 188.24L493.88 186.33L494.74 184.44L495.60 182.58L496.46 180.76L497.32 178.99L498.18 177.24L499.04 175.54L499.90 173.87L500.76 172.24L501.62 170.64L502.48 169.08L503.34 167.54L504.19 166.04L505.05 164.56L505.91 163.11L506.77 161.68L507.63 160.27L508.49 158.88L509.35 157.51L510.21 156.14L511.07 154.79L511.93 153.44L512.79 152.09L513.65 150.74L514.51 149.40L515.37 148.06L516.23 146.72L517.09 145.39L517.95 144.06L518.81 142.73L519.67 141.41L520.53 140.09L521.38 138.78L522.24 137.47L523.10 136.17L523.96 134.87L524.82 133.59L525.68 132.32L526.54 131.06L527.40 129.81L528.26 128.59L529.12 127.38L529.98 126.19L530.84 125.03L531.70 123.89L532.56 122.77L533.42 121.67L534.28 120.60L535.14 119.56L536.00 118.54L536.86 117.54L537.72 116.57L538.58 115.62L539.43 114.70L540.29 113.81L541.15 112.95L542.01 112.11L542.87 111.29L543.73 110.51L544.59 109.75L545.45 109.02L546.31 108.32L547.17 107.64L548.03 107.00L548.89 106.38L549.75 105.78L550.61 105.21L551.47 104.67L552.33 104.14L553.19 103.64L554.05 103.16L554.91 102.69L555.76 102.24L556.62 101.80L557.48 101.37L558.34 100.96L559.20 100.56L560.06 100.17L560.92 99.78L561.78 99.40L562.64 99.02L563.50 98.65L564.36 98.27" stroke="#ff0000" stroke-width="1.05"/>
<path d="M323.70 273.00L324.56 273.00L325.42 273.00L326.28 273.00L327.14 273.00L328.00 273.00L328.86 273.00L329.72 273.00L330.58 273.00L331.44 273.00L332.30 273.00L333.15 273.00L334.01 273.00L334.87 273.00L335.73 273.00L336.59 273.00L337.45 273.00L338.31 273.00L339.17 273.00L340.03 273.00L340.89 273.00L341.75 273.00L342.61 273.00L343.47 273.00L344.33 273.00L345.19 273.00L346.05 273.00L346.91 273.00L347.77 273.00L348.63 273.00L349.49 273.00L350.34 273.00L351.20 273.00L352.06 273.00L352.92 273.00L353.78 273.00L354.64 273.00L355.50 273.00L356.36 273.00L357.22 273.00L358.08 273.00L358.94 273.00L359.80 273.00L360.66 273.00L361.52 273.00L362.38 273.00L363.24 273.00L364.10 273.00L364.96 273.00L365.82 273.00L366.68 273.00L367.53 273.00L368.39 273.00L369.25 273.00L370.11 273.00L370.97 273.00L371.83 273.00L372.69 273.00L373.55 273.00L374.41 273.00L375.27 273.00L376.13 273.00L376.99 273.00L377.85 273.00L378.71 273.00L379.57 273.00L380.43 273.00L381.29 273.00L382.15 273.00L383.01 273.00L383.87 273.00L384.72 273.00L385.58 273.00L386.44 273.00L387.30 273.00L388.16 273.00L389.02 273.00L389.88 273.00L390.74 273.00L391.60 273.00L392.46 273.00L393.32 273.00L394.18 273.00L395.04 273.00L395.90 273.00L396.76 273.00L397.62 273.00L398.48 273.00L399.34 273.00L400.20 273.00L401.06 273.00L401.91 273.00L402.77 273.00L403.63 273.00L404.49 273.00L405.35 273.00L406.21 273.00L407.07 273.00L407.93 273.00L408.79 273.00L409.65 273.00L410.51 273.00L411.37 273.00L412.23 273.00L413.09 273.00L413.95 273.00L414.81 273.00L415.67 273.00L416.53 273.00L417.39 273.00L418.25 273.00L419.10 273.00L419.96 273.00L420.82 273.00L421.68 273.00L422.54 273.00L423.40 273.00L424.26 273.00L425.12 273.00L425.98 273.00L426.84 273.00L427.70 273.00L428.56 273.00L429.42 273.00L430.28 273.00L431.14 273.00L432.00 273.00L432.86 273.00L433.72 273.00L434.58 273.00L435.44 273.00L436.29 273.00L437.15 273.00L438.01 273.00L438.87 273.00L439.73 273.00L440.59 273.00L441.45 273.00L442.31 273.00L443.17 273.00L444.03 273.00L444.89 273.00L445.75 273.00L446.61 272.99L447.47 272.97L448.33 272.94L449.19 272.89L450.05 272.82L450.91 272.73L451.77 272.61L452.62 272.48L453.48 272.33L454.34 272.17L455.20 272.00L456.06 271.82L456.92 271.64L457.78 271.45L458.64 271.25L459.50 271.06L460.36 270.85L461.22 270.65L462.08 270.44L462.94 270.23L463.80 270.02L464.66 269.81L465.52 269.60L466.38 269.39L467.24 269.18L468.10 268.98L468.96 268.77L469.81 268.58L470.67 268.38L471.53 268.18L472.39 267.99L473.25 267.79L474.11 267.60L474.97 267.41L475.83 267.21L476.69 267.01L477.55 266.81L478.41 266.60L479.27 266.39L480.13 266.18L480.99 265.95L481.85 265.72L482.71 265.49L483.57 265.25L484.43 265.00L485.29 264.75L486.15 264.49L487.00 264.23L487.86 263.95L488.72 263.68L489.58 263.39L490.44 263.10L491.30 262.80L492.16 262.50L493.02 262.18L493.88 261.86L494.74 261.54L495.60 261.20L496.46 260.86L497.32 260.51L498.18 260.15L499.04 259.79L499.90 259.42L500.76 259.04L501.62 258.66L502.48 258.27L503.34 257.87L504.19 257.47L505.05 257.06L505.91 256.65L506.77 256.23L507.63 255.81L508.49 255.38L509.35 254.95L510.21 254.52L511.07 254.08L511.93 253.64L512.79 253.20L513.65 252.75L514.51 252.30L515.37 251.85L516.23 251.40L517.09 250.95L517.95 250.49L518.81 250.03L519.67 249.57L520.53 249.12L521.38 248.65L522.24 248.19L523.10 247.73L523.96 247.27L524.82 246.80L525.68 246.34L526.54 245.88L527.40 245.41L528.26 244.95L529.12 244.48L529.98 244.02L530.84 243.56L531.70 243.09L532.56 242.63L533.42 242.17L534.28 241.71L535.14 241.25L536.00 240.79L536.86 240.33L537.72 239.87L538.58 239.41L539.43 238.96L540.29 238.50L541.15 238.04L542.01 237.59L542.87 237.14L543.73 236.68L544.59 236.23L545.45 235.78L546.31 235.33L547.17 234.89L548.03 234.44L548.89 233.99L549.75 233.55L550.61 233.10L551.47 232.66L552.33 232.21L553.19 231.77L554.05 231.33L554.91 230.88L555.76 230.44L556.62 230.00L557.48 229.55L558.34 229.10L559.20 228.66L560.06 228.21L560.92 227.76L561.78 227.31L562.64 226.86L563.50 226.41L564.36 225.95" stroke="#ff0000" stroke-width="1.05" stroke-dasharray="7 3.6"/>
<path d="M323.70 273.00L324.56 273.00L325.42 273.00L326.28 273.00L327.14 273.00L328.00 273.00L328.86 273.00L329.72 273.00L330.58 273.00L331.44 273.00L332.30 273.00L333.15 273.00L334.01 273.00L334.87 273.00L335.73 273.00L336.59 273.00L337.45 273.00L338.31 273.00L339.17 272.99L340.03 272.96L340.89 272.90L341.75 272.80L342.61 272.65L343.47 272.47L344.33 272.26L345.19 272.04L346.05 271.81L346.91 271.56L347.77 271.30L348.63 271.02L349.49 270.72L350.34 270.40L351.20 270.03L352.06 269.62L352.92 269.14L353.78 268.60L354.64 267.97L355.50 267.27L356.36 266.50L357.22 265.65L358.08 264.73L358.94 263.75L359.80 262.72L360.66 261.65L361.52 260.54L362.38 259.42L363.24 258.28L364.10 257.14L364.96 256.01L365.82 254.90L366.68 253.81L367.53 252.77L368.39 251.77L369.25 250.83L370.11 249.95L370.97 249.12L371.83 248.36L372.69 247.66L373.55 247.02L374.41 246.46L375.27 245.98L376.13 245.59L376.99 245.30L377.85 245.12L378.71 245.05L379.57 245.10L380.43 245.27L381.29 245.56L382.15 245.96L383.01 246.46L383.87 247.07L384.72 247.78L385.58 248.58L386.44 249.47L387.30 250.46L388.16 251.54L389.02 252.71L389.88 253.97L390.74 255.32L391.60 256.72L392.46 258.16L393.32 259.62L394.18 261.08L395.04 262.51L395.90 263.91L396.76 265.27L397.62 266.60L398.48 267.89L399.34 269.14L400.20 270.30L401.06 271.26L401.91 271.96L402.77 272.40L403.63 272.65L404.49 272.80L405.35 272.89L406.21 272.95L407.07 272.99L407.93 273.00L408.79 272.98L409.65 272.90L410.51 272.73L411.37 272.46L412.23 272.06L413.09 271.54L413.95 270.88L414.81 270.10L415.67 269.18L416.53 268.11L417.39 266.90L418.25 265.57L419.10 264.17L419.96 262.74L420.82 261.32L421.68 259.91L422.54 258.50L423.40 257.09L424.26 255.66L425.12 254.19L425.98 252.70L426.84 251.18L427.70 249.64L428.56 248.08L429.42 246.51L430.28 244.93L431.14 243.34L432.00 241.75L432.86 240.15L433.72 238.55L434.58 236.94L435.44 235.34L436.29 233.74L437.15 232.13L438.01 230.53L438.87 228.93L439.73 227.33L440.59 225.72L441.45 224.12L442.31 222.51L443.17 220.89L444.03 219.26L444.89 217.63L445.75 215.99L446.61 214.35L447.47 212.71L448.33 211.07L449.19 209.43L450.05 207.81L450.91 206.20L451.77 204.60L452.62 203.02L453.48 201.46L454.34 199.92L455.20 198.41L456.06 196.93L456.92 195.49L457.78 194.08L458.64 192.72L459.50 191.39L460.36 190.12L461.22 188.89L462.08 187.72L462.94 186.61L463.80 185.54L464.66 184.53L465.52 183.57L466.38 182.66L467.24 181.81L468.10 181.00L468.96 180.24L469.81 179.53L470.67 178.87L471.53 178.25L472.39 177.68L473.25 177.15L474.11 176.66L474.97 176.21L475.83 175.80L476.69 175.43L477.55 175.09L478.41 174.79L479.27 174.52L480.13 174.29L480.99 174.11L481.85 173.97L482.71 173.89L483.57 173.86L484.43 173.89L485.29 173.98L486.15 174.13L487.00 174.33L487.86 174.57L488.72 174.87L489.58 175.22L490.44 175.61L491.30 176.05L492.16 176.53L493.02 177.05L493.88 177.61L494.74 178.21L495.60 178.84L496.46 179.50L497.32 180.20L498.18 180.93L499.04 181.69L499.90 182.48L500.76 183.30L501.62 184.14L502.48 185.02L503.34 185.92L504.19 186.85L505.05 187.80L505.91 188.78L506.77 189.78L507.63 190.80L508.49 191.85L509.35 192.92L510.21 194.00L511.07 195.11L511.93 196.23L512.79 197.37L513.65 198.53L514.51 199.70L515.37 200.89L516.23 202.08L517.09 203.29L517.95 204.50L518.81 205.72L519.67 206.95L520.53 208.18L521.38 209.41L522.24 210.64L523.10 211.87L523.96 213.10L524.82 214.32L525.68 215.55L526.54 216.76L527.40 217.97L528.26 219.17L529.12 220.36L529.98 221.54L530.84 222.70L531.70 223.86L532.56 225.00L533.42 226.13L534.28 227.24L535.14 228.34L536.00 229.42L536.86 230.48L537.72 231.53L538.58 232.55L539.43 233.56L540.29 234.55L541.15 235.52L542.01 236.47L542.87 237.40L543.73 238.30L544.59 239.19L545.45 240.05L546.31 240.89L547.17 241.71L548.03 242.50L548.89 243.28L549.75 244.03L550.61 244.77L551.47 245.48L552.33 246.18L553.19 246.86L554.05 247.53L554.91 248.17L555.76 248.81L556.62 249.43L557.48 250.04L558.34 250.64L559.20 251.22L560.06 251.80L560.92 252.36L561.78 252.92L562.64 253.46L563.50 254.00L564.36 254.53" stroke="#00c000" stroke-width="1.05"/>
<path d="M323.70 273.00L324.56 273.00L325.42 273.00L326.28 273.00L327.14 273.00L328.00 273.00L328.86 273.00L329.72 273.00L330.58 273.00L331.44 273.00L332.30 273.00L333.15 273.00L334.01 273.00L334.87 273.00L335.73 273.00L336.59 273.00L337.45 273.00L338.31 273.00L339.17 273.00L340.03 273.00L340.89 273.00L341.75 272.99L342.61 272.99L343.47 272.99L344.33 272.98L345.19 272.97L346.05 272.97L346.91 272.96L347.77 272.95L348.63 272.94L349.49 272.94L350.34 272.93L351.20 272.92L352.06 272.91L352.92 272.89L353.78 272.88L354.64 272.86L355.50 272.84L356.36 272.82L357.22 272.79L358.08 272.77L358.94 272.74L359.80 272.71L360.66 272.68L361.52 272.65L362.38 272.62L363.24 272.59L364.10 272.56L364.96 272.52L365.82 272.49L366.68 272.46L367.53 272.43L368.39 272.40L369.25 272.38L370.11 272.35L370.97 272.33L371.83 272.31L372.69 272.29L373.55 272.27L374.41 272.26L375.27 272.24L376.13 272.23L376.99 272.22L377.85 272.22L378.71 272.22L379.57 272.22L380.43 272.22L381.29 272.23L382.15 272.24L383.01 272.26L383.87 272.27L384.72 272.29L385.58 272.32L386.44 272.34L387.30 272.37L388.16 272.40L389.02 272.43L389.88 272.47L390.74 272.50L391.60 272.54L392.46 272.58L393.32 272.62L394.18 272.67L395.04 272.71L395.90 272.75L396.76 272.78L397.62 272.82L398.48 272.86L399.34 272.89L400.20 272.92L401.06 272.95L401.91 272.97L402.77 272.98L403.63 272.99L404.49 273.00L405.35 273.00L406.21 273.00L407.07 273.00L407.93 273.00L408.79 273.00L409.65 273.00L410.51 273.00L411.37 272.99L412.23 272.99L413.09 272.98L413.95 272.98L414.81 272.97L415.67 272.95L416.53 272.94L417.39 272.92L418.25 272.90L419.10 272.88L419.96 272.85L420.82 272.82L421.68 272.79L422.54 272.75L423.40 272.70L424.26 272.66L425.12 272.60L425.98 272.54L426.84 272.48L427.70 272.41L428.56 272.33L429.42 272.25L430.28 272.16L431.14 272.06L432.00 271.96L432.86 271.85L433.72 271.73L434.58 271.60L435.44 271.47L436.29 271.32L437.15 271.17L438.01 271.01L438.87 270.84L439.73 270.66L440.59 270.47L441.45 270.27L442.31 270.06L443.17 269.84L444.03 269.60L444.89 269.36L445.75 269.09L446.61 268.82L447.47 268.53L448.33 268.24L449.19 267.94L450.05 267.62L450.91 267.31L451.77 266.99L452.62 266.66L453.48 266.34L454.34 266.02L455.20 265.70L456.06 265.38L456.92 265.07L457.78 264.75L458.64 264.44L459.50 264.13L460.36 263.83L461.22 263.52L462.08 263.22L462.94 262.92L463.80 262.62L464.66 262.33L465.52 262.04L466.38 261.75L467.24 261.46L468.10 261.17L468.96 260.89L469.81 260.61L470.67 260.34L471.53 260.07L472.39 259.80L473.25 259.53L474.11 259.27L474.97 259.01L475.83 258.75L476.69 258.50L477.55 258.25L478.41 258.01L479.27 257.77L480.13 257.54L480.99 257.31L481.85 257.09L482.71 256.88L483.57 256.67L484.43 256.47L485.29 256.27L486.15 256.09L487.00 255.90L487.86 255.73L488.72 255.56L489.58 255.40L490.44 255.25L491.30 255.10L492.16 254.96L493.02 254.82L493.88 254.69L494.74 254.56L495.60 254.44L496.46 254.33L497.32 254.22L498.18 254.12L499.04 254.02L499.90 253.93L500.76 253.84L501.62 253.75L502.48 253.68L503.34 253.60L504.19 253.53L505.05 253.47L505.91 253.41L506.77 253.36L507.63 253.30L508.49 253.26L509.35 253.22L510.21 253.18L511.07 253.15L511.93 253.12L512.79 253.09L513.65 253.07L514.51 253.05L515.37 253.04L516.23 253.03L517.09 253.03L517.95 253.03L518.81 253.03L519.67 253.05L520.53 253.06L521.38 253.09L522.24 253.12L523.10 253.15L523.96 253.20L524.82 253.24L525.68 253.30L526.54 253.36L527.40 253.42L528.26 253.49L529.12 253.56L529.98 253.64L530.84 253.72L531.70 253.81L532.56 253.90L533.42 253.99L534.28 254.09L535.14 254.19L536.00 254.30L536.86 254.41L537.72 254.53L538.58 254.65L539.43 254.77L540.29 254.90L541.15 255.03L542.01 255.17L542.87 255.31L543.73 255.45L544.59 255.60L545.45 255.75L546.31 255.90L547.17 256.06L548.03 256.22L548.89 256.39L549.75 256.56L550.61 256.73L551.47 256.90L552.33 257.08L553.19 257.26L554.05 257.44L554.91 257.62L555.76 257.80L556.62 257.99L557.48 258.17L558.34 258.36L559.20 258.54L560.06 258.73L560.92 258.91L561.78 259.10L562.64 259.28L563.50 259.46L564.36 259.65" stroke="#00c000" stroke-width="1.05" stroke-dasharray="1.8 1.8"/>
<path d="M323.70 273.00L324.56 273.00L325.42 273.00L326.28 273.00L327.14 273.00L328.00 273.00L328.86 273.00L329.72 273.00L330.58 273.00L331.44 273.00L332.30 273.00L333.15 273.00L334.01 273.00L334.87 273.00L335.73 273.00L336.59 273.00L337.45 273.00L338.31 273.00L339.17 273.00L340.03 273.00L340.89 273.00L341.75 273.00L342.61 273.00L343.47 273.00L344.33 273.00L345.19 273.00L346.05 273.00L346.91 273.00L347.77 273.00L348.63 273.00L349.49 273.00L350.34 273.00L351.20 273.00L352.06 273.00L352.92 273.00L353.78 273.00L354.64 273.00L355.50 273.00L356.36 273.00L357.22 273.00L358.08 273.00L358.94 273.00L359.80 273.00L360.66 273.00L361.52 273.00L362.38 273.00L363.24 273.00L364.10 273.00L364.96 273.00L365.82 273.00L366.68 273.00L367.53 273.00L368.39 273.00L369.25 272.99L370.11 272.97L370.97 272.93L371.83 272.88L372.69 272.80L373.55 272.71L374.41 272.60L375.27 272.48L376.13 272.36L376.99 272.24L377.85 272.13L378.71 272.02L379.57 271.92L380.43 271.82L381.29 271.72L382.15 271.63L383.01 271.53L383.87 271.43L384.72 271.33L385.58 271.21L386.44 271.09L387.30 270.96L388.16 270.83L389.02 270.69L389.88 270.56L390.74 270.41L391.60 270.27L392.46 270.13L393.32 269.98L394.18 269.84L395.04 269.70L395.90 269.56L396.76 269.43L397.62 269.29L398.48 269.15L399.34 269.01L400.20 268.87L401.06 268.73L401.91 268.59L402.77 268.45L403.63 268.30L404.49 268.15L405.35 268.00L406.21 267.84L407.07 267.69L407.93 267.54L408.79 267.39L409.65 267.25L410.51 267.12L411.37 266.99L412.23 266.87L413.09 266.76L413.95 266.65L414.81 266.55L415.67 266.45L416.53 266.37L417.39 266.28L418.25 266.21L419.10 266.14L419.96 266.07L420.82 266.01L421.68 265.96L422.54 265.90L423.40 265.86L424.26 265.81L425.12 265.77L425.98 265.73L426.84 265.69L427.70 265.65L428.56 265.61L429.42 265.58L430.28 265.54L431.14 265.50L432.00 265.47L432.86 265.43L433.72 265.40L434.58 265.36L435.44 265.33L436.29 265.29L437.15 265.26L438.01 265.22L438.87 265.18L439.73 265.14L440.59 265.09L441.45 265.05L442.31 265.00L443.17 264.95L444.03 264.90L444.89 264.85L445.75 264.79L446.61 264.73L447.47 264.67L448.33 264.61L449.19 264.55L450.05 264.49L450.91 264.43L451.77 264.37L452.62 264.31L453.48 264.25L454.34 264.19L455.20 264.13L456.06 264.08L456.92 264.03L457.78 263.99L458.64 263.95L459.50 263.91L460.36 263.88L461.22 263.86L462.08 263.84L462.94 263.83L463.80 263.82L464.66 263.82L465.52 263.82L466.38 263.83L467.24 263.84L468.10 263.86L468.96 263.89L469.81 263.91L470.67 263.95L471.53 263.98L472.39 264.02L473.25 264.06L474.11 264.11L474.97 264.16L475.83 264.21L476.69 264.27L477.55 264.33L478.41 264.39L479.27 264.45L480.13 264.52L480.99 264.59L481.85 264.66L482.71 264.73L483.57 264.81L484.43 264.88L485.29 264.97L486.15 265.05L487.00 265.14L487.86 265.24L488.72 265.34L489.58 265.44L490.44 265.55L491.30 265.66L492.16 265.77L493.02 265.89L493.88 266.02L494.74 266.15L495.60 266.28L496.46 266.42L497.32 266.56L498.18 266.71L499.04 266.86L499.90 267.01L500.76 267.17L501.62 267.32L502.48 267.48L503.34 267.64L504.19 267.80L505.05 267.95L505.91 268.11L506.77 268.27L507.63 268.42L508.49 268.58L509.35 268.73L510.21 268.88L511.07 269.02L511.93 269.17L512.79 269.31L513.65 269.44L514.51 269.58L515.37 269.71L516.23 269.84L517.09 269.96L517.95 270.08L518.81 270.20L519.67 270.31L520.53 270.42L521.38 270.53L522.24 270.63L523.10 270.74L523.96 270.83L524.82 270.93L525.68 271.02L526.54 271.11L527.40 271.20L528.26 271.28L529.12 271.36L529.98 271.44L530.84 271.52L531.70 271.59L532.56 271.66L533.42 271.73L534.28 271.80L535.14 271.86L536.00 271.92L536.86 271.97L537.72 272.03L538.58 272.08L539.43 272.13L540.29 272.17L541.15 272.22L542.01 272.26L542.87 272.30L543.73 272.33L544.59 272.37L545.45 272.40L546.31 272.43L547.17 272.46L548.03 272.48L548.89 272.51L549.75 272.53L550.61 272.55L551.47 272.57L552.33 272.59L553.19 272.60L554.05 272.62L554.91 272.63L555.76 272.65L556.62 272.66L557.48 272.67L558.34 272.68L559.20 272.69L560.06 272.70L560.92 272.71L561.78 272.72L562.64 272.73L563.50 272.74L564.36 272.75" stroke="#0000ff" stroke-width="1.05" stroke-dasharray="7 3.6"/>
<path d="M323.70 273.00L324.56 273.00L325.42 273.00L326.28 273.00L327.14 273.00L328.00 273.00L328.86 273.00L329.72 273.00L330.58 273.00L331.44 273.00L332.30 273.00L333.15 273.00L334.01 273.00L334.87 273.00L335.73 273.00L336.59 273.00L337.45 273.00L338.31 273.00L339.17 273.00L340.03 273.00L340.89 273.00L341.75 273.00L342.61 273.00L343.47 273.00L344.33 273.00L345.19 273.00L346.05 273.00L346.91 273.00L347.77 273.00L348.63 273.00L349.49 273.00L350.34 273.00L351.20 273.00L352.06 273.00L352.92 273.00L353.78 273.00L354.64 273.00L355.50 273.00L356.36 273.00L357.22 273.00L358.08 273.00L358.94 273.00L359.80 273.00L360.66 273.00L361.52 273.00L362.38 273.00L363.24 273.00L364.10 273.00L364.96 273.00L365.82 273.00L366.68 273.00L367.53 273.00L368.39 273.00L369.25 273.00L370.11 273.00L370.97 273.00L371.83 273.00L372.69 273.00L373.55 273.00L374.41 273.00L375.27 273.00L376.13 273.00L376.99 273.00L377.85 273.00L378.71 273.00L379.57 273.00L380.43 273.00L381.29 273.00L382.15 273.00L383.01 273.00L383.87 273.00L384.72 273.00L385.58 273.00L386.44 273.00L387.30 273.00L388.16 273.00L389.02 273.00L389.88 273.00L390.74 273.00L391.60 273.00L392.46 273.00L393.32 273.00L394.18 273.00L395.04 273.00L395.90 272.99L396.76 272.99L397.62 272.97L398.48 272.95L399.34 272.93L400.20 272.89L401.06 272.84L401.91 272.78L402.77 272.72L403.63 272.64L404.49 272.55L405.35 272.46L406.21 272.36L407.07 272.26L407.93 272.15L408.79 272.05L409.65 271.96L410.51 271.87L411.37 271.79L412.23 271.72L413.09 271.66L413.95 271.61L414.81 271.57L415.67 271.53L416.53 271.51L417.39 271.49L418.25 271.48L419.10 271.47L419.96 271.46L420.82 271.46L421.68 271.46L422.54 271.46L423.40 271.46L424.26 271.46L425.12 271.45L425.98 271.45L426.84 271.43L427.70 271.41L428.56 271.39L429.42 271.36L430.28 271.32L431.14 271.28L432.00 271.24L432.86 271.19L433.72 271.14L434.58 271.09L435.44 271.03L436.29 270.97L437.15 270.90L438.01 270.84L438.87 270.77L439.73 270.71L440.59 270.64L441.45 270.58L442.31 270.51L443.17 270.45L444.03 270.39L444.89 270.33L445.75 270.28L446.61 270.23L447.47 270.18L448.33 270.13L449.19 270.09L450.05 270.06L450.91 270.02L451.77 269.99L452.62 269.96L453.48 269.94L454.34 269.92L455.20 269.90L456.06 269.89L456.92 269.88L457.78 269.87L458.64 269.86L459.50 269.86L460.36 269.86L461.22 269.87L462.08 269.87L462.94 269.88L463.80 269.89L464.66 269.91L465.52 269.92L466.38 269.94L467.24 269.96L468.10 269.99L468.96 270.01L469.81 270.04L470.67 270.07L471.53 270.10L472.39 270.13L473.25 270.17L474.11 270.20L474.97 270.24L475.83 270.28L476.69 270.32L477.55 270.36L478.41 270.41L479.27 270.45L480.13 270.50L480.99 270.54L481.85 270.59L482.71 270.64L483.57 270.69L484.43 270.74L485.29 270.79L486.15 270.84L487.00 270.89L487.86 270.95L488.72 271.00L489.58 271.06L490.44 271.11L491.30 271.17L492.16 271.23L493.02 271.29L493.88 271.35L494.74 271.41L495.60 271.47L496.46 271.53L497.32 271.59L498.18 271.65L499.04 271.70L499.90 271.76L500.76 271.82L501.62 271.88L502.48 271.93L503.34 271.99L504.19 272.04L505.05 272.09L505.91 272.14L506.77 272.18L507.63 272.23L508.49 272.27L509.35 272.31L510.21 272.35L511.07 272.38L511.93 272.41L512.79 272.44L513.65 272.47L514.51 272.50L515.37 272.52L516.23 272.54L517.09 272.56L517.95 272.58L518.81 272.60L519.67 272.61L520.53 272.63L521.38 272.64L522.24 272.65L523.10 272.67L523.96 272.68L524.82 272.69L525.68 272.70L526.54 272.71L527.40 272.72L528.26 272.73L529.12 272.74L529.98 272.75L530.84 272.76L531.70 272.77L532.56 272.78L533.42 272.79L534.28 272.80L535.14 272.81L536.00 272.82L536.86 272.83L537.72 272.84L538.58 272.85L539.43 272.86L540.29 272.86L541.15 272.87L542.01 272.88L542.87 272.89L543.73 272.90L544.59 272.91L545.45 272.91L546.31 272.92L547.17 272.93L548.03 272.93L548.89 272.94L549.75 272.95L550.61 272.95L551.47 272.96L552.33 272.96L553.19 272.97L554.05 272.97L554.91 272.98L555.76 272.98L556.62 272.98L557.48 272.99L558.34 272.99L559.20 272.99L560.06 273.00L560.92 273.00L561.78 273.00L562.64 273.00L563.50 273.00L564.36 273.00" stroke="#0000ff" stroke-width="1.05" stroke-dasharray="10.6 3.2 2 3.2"/>
<path d="M419.10 273.00V168.52" stroke="#000" stroke-width="2.2" stroke-dasharray="6.7 3.63"/>
</g></g>
<g fill="none" stroke-linejoin="round">
<clipPath id="c2"><rect x="564.55" y="8.80" width="240.35" height="264.20"/></clipPath>
<g clip-path="url(#c2)">
<path d="M564.55 273.00L565.41 272.62L566.27 272.20L567.13 271.67L567.99 271.00L568.85 270.13L569.71 269.02L570.57 267.71L571.43 266.25L572.29 264.69L573.14 263.08L574.00 261.45L574.86 259.82L575.72 258.18L576.58 256.53L577.44 254.86L578.30 253.19L579.16 251.53L580.02 249.94L580.88 248.43L581.74 247.06L582.60 245.85L583.46 244.79L584.32 243.84L585.18 242.99L586.04 242.20L586.90 241.47L587.76 240.80L588.62 240.20L589.48 239.70L590.33 239.31L591.19 239.03L592.05 238.86L592.91 238.79L593.77 238.79L594.63 238.86L595.49 238.98L596.35 239.15L597.21 239.35L598.07 239.58L598.93 239.83L599.79 240.08L600.65 240.33L601.51 240.56L602.37 240.77L603.23 240.96L604.09 241.10L604.95 241.19L605.81 241.22L606.67 241.19L607.52 241.07L608.38 240.89L609.24 240.65L610.10 240.36L610.96 240.02L611.82 239.64L612.68 239.23L613.54 238.80L614.40 238.36L615.26 237.92L616.12 237.48L616.98 237.05L617.84 236.64L618.70 236.25L619.56 235.90L620.42 235.59L621.28 235.33L622.14 235.13L623.00 234.99L623.86 234.92L624.71 234.93L625.57 235.02L626.43 235.18L627.29 235.42L628.15 235.73L629.01 236.11L629.87 236.57L630.73 237.09L631.59 237.68L632.45 238.33L633.31 239.04L634.17 239.82L635.03 240.64L635.89 241.50L636.75 242.38L637.61 243.27L638.47 244.15L639.33 245.02L640.19 245.86L641.05 246.66L641.90 247.40L642.76 248.08L643.62 248.68L644.48 249.20L645.34 249.63L646.20 249.97L647.06 250.20L647.92 250.33L648.78 250.35L649.64 250.25L650.50 250.04L651.36 249.74L652.22 249.36L653.08 248.90L653.94 248.37L654.80 247.78L655.66 247.14L656.52 246.45L657.38 245.66L658.24 244.69L659.09 243.48L659.95 242.00L660.81 240.30L661.67 238.48L662.53 236.62L663.39 234.69L664.25 232.58L665.11 230.18L665.97 227.46L666.83 224.58L667.69 221.70L668.55 218.88L669.41 216.11L670.27 213.38L671.13 210.69L671.99 208.02L672.85 205.39L673.71 202.77L674.57 200.16L675.43 197.56L676.28 194.96L677.14 192.36L678.00 189.74L678.86 187.12L679.72 184.47L680.58 181.82L681.44 179.15L682.30 176.48L683.16 173.79L684.02 171.10L684.88 168.40L685.74 165.69L686.60 162.98L687.46 160.27L688.32 157.55L689.18 154.83L690.04 152.11L690.90 149.40L691.76 146.68L692.62 143.96L693.47 141.25L694.33 138.54L695.19 135.83L696.05 133.12L696.91 130.41L697.77 127.71L698.63 125.02L699.49 122.32L700.35 119.63L701.21 116.95L702.07 114.27L702.93 111.61L703.79 108.96L704.65 106.34L705.51 103.74L706.37 101.17L707.23 98.63L708.09 96.13L708.95 93.68L709.81 91.27L710.66 88.91L711.52 86.62L712.38 84.38L713.24 82.20L714.10 80.08L714.96 78.02L715.82 76.01L716.68 74.05L717.54 72.13L718.40 70.26L719.26 68.43L720.12 66.64L720.98 64.88L721.84 63.16L722.70 61.48L723.56 59.84L724.42 58.23L725.28 56.66L726.14 55.12L727.00 53.61L727.86 52.14L728.71 50.71L729.57 49.30L730.43 47.94L731.29 46.60L732.15 45.30L733.01 44.04L733.87 42.80L734.73 41.61L735.59 40.45L736.45 39.32L737.31 38.23L738.17 37.17L739.03 36.15L739.89 35.17L740.75 34.21L741.61 33.30L742.47 32.41L743.33 31.56L744.19 30.74L745.04 29.96L745.90 29.21L746.76 28.49L747.62 27.80L748.48 27.14L749.34 26.52L750.20 25.92L751.06 25.35L751.92 24.80L752.78 24.29L753.64 23.79L754.50 23.33L755.36 22.89L756.22 22.47L757.08 22.07L757.94 21.69L758.80 21.34L759.66 21.01L760.52 20.70L761.38 20.40L762.23 20.13L763.09 19.87L763.95 19.63L764.81 19.40L765.67 19.19L766.53 19.00L767.39 18.82L768.25 18.66L769.11 18.51L769.97 18.37L770.83 18.24L771.69 18.13L772.55 18.03L773.41 17.93L774.27 17.85L775.13 17.79L775.99 17.73L776.85 17.68L777.71 17.64L778.57 17.61L779.42 17.60L780.28 17.59L781.14 17.59L782.00 17.60L782.86 17.62L783.72 17.64L784.58 17.68L785.44 17.72L786.30 17.76L787.16 17.82L788.02 17.88L788.88 17.94L789.74 18.01L790.60 18.08L791.46 18.16L792.32 18.25L793.18 18.33L794.04 18.43L794.90 18.52L795.76 18.62L796.62 18.72L797.47 18.82L798.33 18.93L799.19 19.04L800.05 19.15L800.91 19.26L801.77 19.37L802.63 19.49L803.49 19.60L804.35 19.72L805.21 19.83" stroke="#ff00ff" stroke-width="2.1"/>
<path d="M564.55 273.00L565.41 272.90L566.27 272.59L567.13 272.08L567.99 271.37L568.85 270.44L569.71 269.31L570.57 267.99L571.43 266.54L572.29 265.03L573.14 263.53L574.00 262.12L574.86 260.80L575.72 259.57L576.58 258.40L577.44 257.23L578.30 256.04L579.16 254.85L580.02 253.68L580.88 252.57L581.74 251.57L582.60 250.72L583.46 249.99L584.32 249.38L585.18 248.87L586.04 248.43L586.90 248.04L587.76 247.73L588.62 247.51L589.48 247.40L590.33 247.42L591.19 247.58L592.05 247.89L592.91 248.35L593.77 248.95L594.63 249.68L595.49 250.54L596.35 251.50L597.21 252.54L598.07 253.62L598.93 254.72L599.79 255.83L600.65 256.95L601.51 258.09L602.37 259.27L603.23 260.49L604.09 261.76L604.95 263.07L605.81 264.36L606.67 265.60L607.52 266.76L608.38 267.80L609.24 268.75L610.10 269.64L610.96 270.50L611.82 271.31L612.68 272.04L613.54 272.58L614.40 272.90L615.26 273.00L616.12 272.93L616.98 272.76L617.84 272.53L618.70 272.30L619.56 272.08L620.42 271.87L621.28 271.70L622.14 271.55L623.00 271.42L623.86 271.31L624.71 271.20L625.57 271.09L626.43 270.97L627.29 270.85L628.15 270.73L629.01 270.61L629.87 270.49L630.73 270.38L631.59 270.28L632.45 270.19L633.31 270.11L634.17 270.05L635.03 270.01L635.89 270.00L636.75 270.00L637.61 270.04L638.47 270.10L639.33 270.19L640.19 270.31L641.05 270.47L641.90 270.65L642.76 270.86L643.62 271.09L644.48 271.35L645.34 271.62L646.20 271.88L647.06 272.14L647.92 272.37L648.78 272.57L649.64 272.73L650.50 272.86L651.36 272.94L652.22 272.99L653.08 273.00L653.94 272.99L654.80 272.96L655.66 272.91L656.52 272.86L657.38 272.80L658.24 272.73L659.09 272.66L659.95 272.59L660.81 272.51L661.67 272.42L662.53 272.33L663.39 272.23L664.25 272.11L665.11 271.98L665.97 271.82L666.83 271.64L667.69 271.43L668.55 271.18L669.41 270.89L670.27 270.56L671.13 270.18L671.99 269.75L672.85 269.27L673.71 268.75L674.57 268.17L675.43 267.55L676.28 266.88L677.14 266.18L678.00 265.43L678.86 264.65L679.72 263.84L680.58 262.99L681.44 262.11L682.30 261.20L683.16 260.26L684.02 259.29L684.88 258.28L685.74 257.24L686.60 256.18L687.46 255.08L688.32 253.96L689.18 252.81L690.04 251.63L690.90 250.43L691.76 249.20L692.62 247.96L693.47 246.70L694.33 245.43L695.19 244.17L696.05 242.90L696.91 241.64L697.77 240.39L698.63 239.15L699.49 237.92L700.35 236.70L701.21 235.49L702.07 234.27L702.93 233.05L703.79 231.83L704.65 230.59L705.51 229.33L706.37 228.05L707.23 226.75L708.09 225.41L708.95 224.03L709.81 222.63L710.66 221.20L711.52 219.74L712.38 218.25L713.24 216.75L714.10 215.22L714.96 213.68L715.82 212.13L716.68 210.57L717.54 209.00L718.40 207.42L719.26 205.85L720.12 204.28L720.98 202.72L721.84 201.16L722.70 199.62L723.56 198.07L724.42 196.54L725.28 195.02L726.14 193.51L727.00 192.00L727.86 190.52L728.71 189.04L729.57 187.58L730.43 186.13L731.29 184.69L732.15 183.27L733.01 181.87L733.87 180.49L734.73 179.12L735.59 177.77L736.45 176.44L737.31 175.13L738.17 173.84L739.03 172.57L739.89 171.33L740.75 170.10L741.61 168.89L742.47 167.71L743.33 166.55L744.19 165.42L745.04 164.30L745.90 163.21L746.76 162.14L747.62 161.10L748.48 160.08L749.34 159.09L750.20 158.12L751.06 157.17L751.92 156.25L752.78 155.36L753.64 154.49L754.50 153.65L755.36 152.83L756.22 152.03L757.08 151.26L757.94 150.52L758.80 149.79L759.66 149.09L760.52 148.41L761.38 147.76L762.23 147.12L763.09 146.50L763.95 145.91L764.81 145.33L765.67 144.77L766.53 144.23L767.39 143.71L768.25 143.20L769.11 142.71L769.97 142.23L770.83 141.77L771.69 141.32L772.55 140.89L773.41 140.47L774.27 140.06L775.13 139.67L775.99 139.29L776.85 138.93L777.71 138.58L778.57 138.24L779.42 137.92L780.28 137.61L781.14 137.31L782.00 137.03L782.86 136.76L783.72 136.51L784.58 136.27L785.44 136.04L786.30 135.83L787.16 135.63L788.02 135.44L788.88 135.27L789.74 135.11L790.60 134.96L791.46 134.83L792.32 134.70L793.18 134.59L794.04 134.48L794.90 134.39L795.76 134.30L796.62 134.22L797.47 134.14L798.33 134.08L799.19 134.01L800.05 133.96L800.91 133.90L801.77 133.85L802.63 133.80L803.49 133.76L804.35 133.71L805.21 133.67" stroke="#ff0000" stroke-width="1.05"/>
<path d="M564.55 273.00L565.41 272.98L566.27 272.93L567.13 272.85L567.99 272.73L568.85 272.58L569.71 272.40L570.57 272.18L571.43 271.95L572.29 271.70L573.14 271.45L574.00 271.22L574.86 271.01L575.72 270.81L576.58 270.62L577.44 270.43L578.30 270.23L579.16 270.04L580.02 269.85L580.88 269.66L581.74 269.50L582.60 269.36L583.46 269.24L584.32 269.14L585.18 269.06L586.04 268.99L586.90 268.93L587.76 268.87L588.62 268.84L589.48 268.82L590.33 268.82L591.19 268.85L592.05 268.90L592.91 268.98L593.77 269.07L594.63 269.19L595.49 269.33L596.35 269.49L597.21 269.66L598.07 269.84L598.93 270.02L599.79 270.20L600.65 270.38L601.51 270.57L602.37 270.76L603.23 270.96L604.09 271.17L604.95 271.38L605.81 271.59L606.67 271.79L607.52 271.98L608.38 272.15L609.24 272.31L610.10 272.45L610.96 272.59L611.82 272.72L612.68 272.84L613.54 272.93L614.40 272.98L615.26 273.00L616.12 272.99L616.98 272.96L617.84 272.92L618.70 272.88L619.56 272.84L620.42 272.81L621.28 272.78L622.14 272.75L623.00 272.73L623.86 272.71L624.71 272.69L625.57 272.67L626.43 272.64L627.29 272.62L628.15 272.60L629.01 272.58L629.87 272.56L630.73 272.54L631.59 272.52L632.45 272.51L633.31 272.50L634.17 272.49L635.03 272.48L635.89 272.48L636.75 272.48L637.61 272.49L638.47 272.50L639.33 272.51L640.19 272.53L641.05 272.56L641.90 272.59L642.76 272.63L643.62 272.67L644.48 272.71L645.34 272.76L646.20 272.80L647.06 272.85L647.92 272.89L648.78 272.92L649.64 272.95L650.50 272.97L651.36 272.99L652.22 273.00L653.08 273.00L653.94 273.00L654.80 272.99L655.66 272.98L656.52 272.97L657.38 272.96L658.24 272.95L659.09 272.93L659.95 272.92L660.81 272.90L661.67 272.89L662.53 272.87L663.39 272.85L664.25 272.83L665.11 272.81L665.97 272.79L666.83 272.77L667.69 272.74L668.55 272.71L669.41 272.67L670.27 272.64L671.13 272.59L671.99 272.54L672.85 272.49L673.71 272.42L674.57 272.35L675.43 272.27L676.28 272.18L677.14 272.07L678.00 271.96L678.86 271.82L679.72 271.67L680.58 271.51L681.44 271.33L682.30 271.13L683.16 270.92L684.02 270.69L684.88 270.45L685.74 270.20L686.60 269.94L687.46 269.67L688.32 269.40L689.18 269.12L690.04 268.84L690.90 268.56L691.76 268.28L692.62 268.01L693.47 267.73L694.33 267.44L695.19 267.16L696.05 266.87L696.91 266.56L697.77 266.25L698.63 265.93L699.49 265.59L700.35 265.24L701.21 264.86L702.07 264.47L702.93 264.06L703.79 263.63L704.65 263.19L705.51 262.74L706.37 262.28L707.23 261.82L708.09 261.36L708.95 260.90L709.81 260.44L710.66 260.00L711.52 259.55L712.38 259.11L713.24 258.68L714.10 258.24L714.96 257.80L715.82 257.35L716.68 256.90L717.54 256.44L718.40 255.97L719.26 255.48L720.12 254.98L720.98 254.46L721.84 253.92L722.70 253.37L723.56 252.80L724.42 252.21L725.28 251.61L726.14 251.00L727.00 250.37L727.86 249.73L728.71 249.08L729.57 248.42L730.43 247.75L731.29 247.08L732.15 246.39L733.01 245.71L733.87 245.02L734.73 244.33L735.59 243.64L736.45 242.96L737.31 242.27L738.17 241.59L739.03 240.91L739.89 240.24L740.75 239.57L741.61 238.91L742.47 238.24L743.33 237.58L744.19 236.93L745.04 236.27L745.90 235.62L746.76 234.97L747.62 234.32L748.48 233.68L749.34 233.04L750.20 232.39L751.06 231.75L751.92 231.11L752.78 230.47L753.64 229.83L754.50 229.19L755.36 228.55L756.22 227.91L757.08 227.27L757.94 226.63L758.80 225.99L759.66 225.35L760.52 224.71L761.38 224.07L762.23 223.43L763.09 222.79L763.95 222.15L764.81 221.52L765.67 220.88L766.53 220.25L767.39 219.62L768.25 218.99L769.11 218.36L769.97 217.73L770.83 217.11L771.69 216.49L772.55 215.86L773.41 215.25L774.27 214.63L775.13 214.02L775.99 213.40L776.85 212.80L777.71 212.19L778.57 211.59L779.42 210.98L780.28 210.39L781.14 209.79L782.00 209.20L782.86 208.61L783.72 208.02L784.58 207.44L785.44 206.85L786.30 206.28L787.16 205.70L788.02 205.13L788.88 204.56L789.74 204.00L790.60 203.43L791.46 202.87L792.32 202.32L793.18 201.76L794.04 201.21L794.90 200.66L795.76 200.11L796.62 199.56L797.47 199.01L798.33 198.46L799.19 197.91L800.05 197.37L800.91 196.82L801.77 196.27L802.63 195.72L803.49 195.17L804.35 194.62L805.21 194.07" stroke="#ff0000" stroke-width="1.05" stroke-dasharray="7 3.6"/>
<path d="M564.55 273.00L565.41 273.00L566.27 273.00L567.13 273.00L567.99 273.00L568.85 273.00L569.71 273.00L570.57 273.00L571.43 273.00L572.29 273.00L573.14 273.00L574.00 273.00L574.86 273.00L575.72 273.00L576.58 273.00L577.44 273.00L578.30 273.00L579.16 273.00L580.02 273.00L580.88 272.99L581.74 272.96L582.60 272.89L583.46 272.78L584.32 272.62L585.18 272.43L586.04 272.22L586.90 271.99L587.76 271.76L588.62 271.51L589.48 271.25L590.33 270.97L591.19 270.66L592.05 270.33L592.91 269.95L593.77 269.53L594.63 269.04L595.49 268.48L596.35 267.84L597.21 267.12L598.07 266.33L598.93 265.47L599.79 264.54L600.65 263.55L601.51 262.51L602.37 261.43L603.23 260.32L604.09 259.19L604.95 258.05L605.81 256.91L606.67 255.79L607.52 254.68L608.38 253.60L609.24 252.56L610.10 251.58L610.96 250.65L611.82 249.78L612.68 248.96L613.54 248.21L614.40 247.52L615.26 246.90L616.12 246.36L616.98 245.90L617.84 245.53L618.70 245.26L619.56 245.10L620.42 245.05L621.28 245.12L622.14 245.32L623.00 245.62L623.86 246.03L624.71 246.56L625.57 247.18L626.43 247.90L627.29 248.71L628.15 249.61L629.01 250.60L629.87 251.69L630.73 252.87L631.59 254.14L632.45 255.48L633.31 256.88L634.17 258.31L635.03 259.76L635.89 261.21L636.75 262.64L637.61 264.02L638.47 265.37L639.33 266.69L640.19 267.97L641.05 269.21L641.90 270.36L642.76 271.30L643.62 271.98L644.48 272.41L645.34 272.66L646.20 272.81L647.06 272.89L647.92 272.95L648.78 272.99L649.64 273.00L650.50 272.98L651.36 272.90L652.22 272.74L653.08 272.48L653.94 272.11L654.80 271.62L655.66 271.00L656.52 270.26L657.38 269.42L658.24 268.48L659.09 267.48L659.95 266.40L660.81 265.27L661.67 264.10L662.53 262.89L663.39 261.65L664.25 260.39L665.11 259.10L665.97 257.80L666.83 256.47L667.69 255.13L668.55 253.78L669.41 252.40L670.27 251.01L671.13 249.60L671.99 248.19L672.85 246.77L673.71 245.35L674.57 243.93L675.43 242.52L676.28 241.12L677.14 239.74L678.00 238.37L678.86 237.02L679.72 235.71L680.58 234.43L681.44 233.18L682.30 231.97L683.16 230.80L684.02 229.65L684.88 228.52L685.74 227.42L686.60 226.34L687.46 225.27L688.32 224.21L689.18 223.18L690.04 222.16L690.90 221.16L691.76 220.19L692.62 219.24L693.47 218.31L694.33 217.40L695.19 216.53L696.05 215.68L696.91 214.85L697.77 214.06L698.63 213.30L699.49 212.57L700.35 211.87L701.21 211.20L702.07 210.57L702.93 209.98L703.79 209.42L704.65 208.89L705.51 208.40L706.37 207.95L707.23 207.53L708.09 207.15L708.95 206.80L709.81 206.49L710.66 206.21L711.52 205.96L712.38 205.75L713.24 205.57L714.10 205.43L714.96 205.31L715.82 205.23L716.68 205.19L717.54 205.18L718.40 205.20L719.26 205.27L720.12 205.39L720.98 205.55L721.84 205.75L722.70 206.00L723.56 206.28L724.42 206.61L725.28 206.97L726.14 207.37L727.00 207.81L727.86 208.28L728.71 208.78L729.57 209.32L730.43 209.89L731.29 210.48L732.15 211.10L733.01 211.75L733.87 212.42L734.73 213.11L735.59 213.83L736.45 214.57L737.31 215.32L738.17 216.09L739.03 216.88L739.89 217.68L740.75 218.49L741.61 219.31L742.47 220.14L743.33 220.98L744.19 221.82L745.04 222.67L745.90 223.52L746.76 224.36L747.62 225.21L748.48 226.06L749.34 226.90L750.20 227.74L751.06 228.57L751.92 229.40L752.78 230.21L753.64 231.02L754.50 231.82L755.36 232.60L756.22 233.38L757.08 234.15L757.94 234.90L758.80 235.65L759.66 236.38L760.52 237.11L761.38 237.83L762.23 238.53L763.09 239.23L763.95 239.92L764.81 240.60L765.67 241.26L766.53 241.92L767.39 242.57L768.25 243.22L769.11 243.85L769.97 244.47L770.83 245.09L771.69 245.69L772.55 246.29L773.41 246.88L774.27 247.46L775.13 248.03L775.99 248.59L776.85 249.14L777.71 249.69L778.57 250.22L779.42 250.74L780.28 251.26L781.14 251.76L782.00 252.25L782.86 252.74L783.72 253.21L784.58 253.68L785.44 254.13L786.30 254.57L787.16 255.01L788.02 255.43L788.88 255.85L789.74 256.25L790.60 256.65L791.46 257.04L792.32 257.42L793.18 257.79L794.04 258.15L794.90 258.51L795.76 258.86L796.62 259.20L797.47 259.54L798.33 259.87L799.19 260.19L800.05 260.51L800.91 260.82L801.77 261.13L802.63 261.44L803.49 261.74L804.35 262.03L805.21 262.32" stroke="#00c000" stroke-width="1.05"/>
<path d="M564.55 273.00L565.41 273.00L566.27 273.00L567.13 273.00L567.99 273.00L568.85 273.00L569.71 273.00L570.57 273.00L571.43 273.00L572.29 273.00L573.14 273.00L574.00 273.00L574.86 273.00L575.72 273.00L576.58 273.00L577.44 273.00L578.30 273.00L579.16 273.00L580.02 273.00L580.88 272.99L581.74 272.98L582.60 272.96L583.46 272.93L584.32 272.90L585.18 272.86L586.04 272.81L586.90 272.77L587.76 272.72L588.62 272.67L589.48 272.61L590.33 272.55L591.19 272.49L592.05 272.42L592.91 272.34L593.77 272.24L594.63 272.14L595.49 272.01L596.35 271.88L597.21 271.72L598.07 271.56L598.93 271.38L599.79 271.19L600.65 270.98L601.51 270.77L602.37 270.56L603.23 270.33L604.09 270.11L604.95 269.89L605.81 269.67L606.67 269.45L607.52 269.23L608.38 269.03L609.24 268.83L610.10 268.65L610.96 268.48L611.82 268.31L612.68 268.16L613.54 268.03L614.40 267.90L615.26 267.79L616.12 267.70L616.98 267.62L617.84 267.57L618.70 267.53L619.56 267.51L620.42 267.52L621.28 267.55L622.14 267.61L623.00 267.68L623.86 267.77L624.71 267.89L625.57 268.02L626.43 268.17L627.29 268.34L628.15 268.52L629.01 268.72L629.87 268.94L630.73 269.17L631.59 269.42L632.45 269.69L633.31 269.96L634.17 270.23L635.03 270.51L635.89 270.79L636.75 271.06L637.61 271.32L638.47 271.58L639.33 271.83L640.19 272.08L641.05 272.31L641.90 272.52L642.76 272.69L643.62 272.82L644.48 272.89L645.34 272.94L646.20 272.96L647.06 272.98L647.92 272.99L648.78 273.00L649.64 273.00L650.50 273.00L651.36 272.98L652.22 272.95L653.08 272.90L653.94 272.83L654.80 272.74L655.66 272.62L656.52 272.48L657.38 272.32L658.24 272.14L659.09 271.96L659.95 271.76L660.81 271.57L661.67 271.37L662.53 271.17L663.39 270.97L664.25 270.77L665.11 270.55L665.97 270.34L666.83 270.11L667.69 269.87L668.55 269.61L669.41 269.33L670.27 269.05L671.13 268.74L671.99 268.43L672.85 268.10L673.71 267.77L674.57 267.43L675.43 267.08L676.28 266.73L677.14 266.38L678.00 266.03L678.86 265.68L679.72 265.33L680.58 264.97L681.44 264.61L682.30 264.24L683.16 263.87L684.02 263.48L684.88 263.07L685.74 262.66L686.60 262.23L687.46 261.78L688.32 261.32L689.18 260.84L690.04 260.36L690.90 259.86L691.76 259.35L692.62 258.84L693.47 258.31L694.33 257.78L695.19 257.24L696.05 256.70L696.91 256.15L697.77 255.60L698.63 255.05L699.49 254.50L700.35 253.96L701.21 253.42L702.07 252.89L702.93 252.36L703.79 251.85L704.65 251.34L705.51 250.84L706.37 250.35L707.23 249.87L708.09 249.41L708.95 248.95L709.81 248.50L710.66 248.05L711.52 247.62L712.38 247.20L713.24 246.79L714.10 246.39L714.96 245.99L715.82 245.61L716.68 245.23L717.54 244.87L718.40 244.51L719.26 244.16L720.12 243.82L720.98 243.49L721.84 243.17L722.70 242.85L723.56 242.55L724.42 242.25L725.28 241.97L726.14 241.69L727.00 241.43L727.86 241.17L728.71 240.93L729.57 240.70L730.43 240.48L731.29 240.27L732.15 240.07L733.01 239.88L733.87 239.71L734.73 239.55L735.59 239.40L736.45 239.27L737.31 239.14L738.17 239.03L739.03 238.93L739.89 238.85L740.75 238.78L741.61 238.72L742.47 238.67L743.33 238.63L744.19 238.60L745.04 238.59L745.90 238.59L746.76 238.59L747.62 238.61L748.48 238.64L749.34 238.68L750.20 238.72L751.06 238.78L751.92 238.85L752.78 238.92L753.64 239.00L754.50 239.09L755.36 239.18L756.22 239.28L757.08 239.39L757.94 239.51L758.80 239.63L759.66 239.76L760.52 239.90L761.38 240.04L762.23 240.18L763.09 240.34L763.95 240.50L764.81 240.66L765.67 240.83L766.53 241.00L767.39 241.18L768.25 241.37L769.11 241.56L769.97 241.75L770.83 241.95L771.69 242.15L772.55 242.35L773.41 242.56L774.27 242.77L775.13 242.99L775.99 243.20L776.85 243.42L777.71 243.64L778.57 243.86L779.42 244.09L780.28 244.31L781.14 244.53L782.00 244.76L782.86 244.98L783.72 245.20L784.58 245.43L785.44 245.65L786.30 245.87L787.16 246.09L788.02 246.30L788.88 246.52L789.74 246.73L790.60 246.94L791.46 247.15L792.32 247.36L793.18 247.56L794.04 247.76L794.90 247.97L795.76 248.17L796.62 248.36L797.47 248.56L798.33 248.76L799.19 248.95L800.05 249.15L800.91 249.34L801.77 249.53L802.63 249.72L803.49 249.91L804.35 250.10L805.21 250.28" stroke="#00c000" stroke-width="1.05" stroke-dasharray="1.8 1.8"/>
<path d="M564.55 273.00L565.41 273.00L566.27 273.00L567.13 273.00L567.99 273.00L568.85 273.00L569.71 273.00L570.57 273.00L571.43 273.00L572.29 273.00L573.14 273.00L574.00 273.00L574.86 273.00L575.72 273.00L576.58 273.00L577.44 273.00L578.30 273.00L579.16 273.00L580.02 273.00L580.88 273.00L581.74 273.00L582.60 273.00L583.46 273.00L584.32 273.00L585.18 273.00L586.04 273.00L586.90 273.00L587.76 273.00L588.62 273.00L589.48 273.00L590.33 273.00L591.19 273.00L592.05 273.00L592.91 273.00L593.77 273.00L594.63 273.00L595.49 273.00L596.35 273.00L597.21 273.00L598.07 273.00L598.93 273.00L599.79 273.00L600.65 273.00L601.51 273.00L602.37 273.00L603.23 273.00L604.09 273.00L604.95 273.00L605.81 273.00L606.67 273.00L607.52 273.00L608.38 273.00L609.24 273.00L610.10 272.98L610.96 272.95L611.82 272.89L612.68 272.78L613.54 272.64L614.40 272.45L615.26 272.22L616.12 271.96L616.98 271.66L617.84 271.35L618.70 271.02L619.56 270.67L620.42 270.30L621.28 269.93L622.14 269.54L623.00 269.14L623.86 268.73L624.71 268.30L625.57 267.86L626.43 267.40L627.29 266.93L628.15 266.45L629.01 265.96L629.87 265.45L630.73 264.94L631.59 264.41L632.45 263.88L633.31 263.34L634.17 262.79L635.03 262.23L635.89 261.68L636.75 261.13L637.61 260.59L638.47 260.05L639.33 259.53L640.19 259.04L641.05 258.56L641.90 258.11L642.76 257.70L643.62 257.31L644.48 256.96L645.34 256.64L646.20 256.34L647.06 256.07L647.92 255.83L648.78 255.61L649.64 255.42L650.50 255.24L651.36 255.08L652.22 254.93L653.08 254.81L653.94 254.69L654.80 254.59L655.66 254.49L656.52 254.41L657.38 254.33L658.24 254.26L659.09 254.19L659.95 254.13L660.81 254.07L661.67 254.01L662.53 253.95L663.39 253.90L664.25 253.85L665.11 253.80L665.97 253.76L666.83 253.71L667.69 253.67L668.55 253.63L669.41 253.60L670.27 253.56L671.13 253.53L671.99 253.50L672.85 253.47L673.71 253.45L674.57 253.43L675.43 253.41L676.28 253.39L677.14 253.38L678.00 253.37L678.86 253.36L679.72 253.36L680.58 253.36L681.44 253.36L682.30 253.37L683.16 253.38L684.02 253.39L684.88 253.41L685.74 253.43L686.60 253.45L687.46 253.48L688.32 253.51L689.18 253.54L690.04 253.58L690.90 253.61L691.76 253.65L692.62 253.69L693.47 253.74L694.33 253.78L695.19 253.83L696.05 253.87L696.91 253.92L697.77 253.96L698.63 254.01L699.49 254.06L700.35 254.10L701.21 254.15L702.07 254.19L702.93 254.24L703.79 254.28L704.65 254.33L705.51 254.37L706.37 254.42L707.23 254.47L708.09 254.53L708.95 254.59L709.81 254.65L710.66 254.72L711.52 254.80L712.38 254.89L713.24 254.98L714.10 255.09L714.96 255.20L715.82 255.32L716.68 255.46L717.54 255.60L718.40 255.76L719.26 255.93L720.12 256.12L720.98 256.31L721.84 256.52L722.70 256.74L723.56 256.97L724.42 257.22L725.28 257.47L726.14 257.73L727.00 257.99L727.86 258.27L728.71 258.55L729.57 258.84L730.43 259.13L731.29 259.43L732.15 259.74L733.01 260.04L733.87 260.35L734.73 260.66L735.59 260.98L736.45 261.29L737.31 261.61L738.17 261.92L739.03 262.24L739.89 262.55L740.75 262.86L741.61 263.17L742.47 263.48L743.33 263.78L744.19 264.07L745.04 264.36L745.90 264.65L746.76 264.93L747.62 265.20L748.48 265.47L749.34 265.72L750.20 265.98L751.06 266.22L751.92 266.45L752.78 266.68L753.64 266.90L754.50 267.11L755.36 267.31L756.22 267.50L757.08 267.69L757.94 267.87L758.80 268.04L759.66 268.20L760.52 268.36L761.38 268.51L762.23 268.66L763.09 268.80L763.95 268.94L764.81 269.07L765.67 269.20L766.53 269.32L767.39 269.44L768.25 269.56L769.11 269.67L769.97 269.78L770.83 269.88L771.69 269.99L772.55 270.09L773.41 270.18L774.27 270.28L775.13 270.37L775.99 270.45L776.85 270.54L777.71 270.62L778.57 270.70L779.42 270.78L780.28 270.85L781.14 270.93L782.00 271.00L782.86 271.06L783.72 271.13L784.58 271.19L785.44 271.25L786.30 271.31L787.16 271.37L788.02 271.42L788.88 271.48L789.74 271.53L790.60 271.58L791.46 271.62L792.32 271.67L793.18 271.72L794.04 271.76L794.90 271.80L795.76 271.84L796.62 271.88L797.47 271.92L798.33 271.96L799.19 271.99L800.05 272.03L800.91 272.06L801.77 272.10L802.63 272.13L803.49 272.16L804.35 272.19L805.21 272.22" stroke="#0000ff" stroke-width="1.05" stroke-dasharray="7 3.6"/>
<path d="M564.55 273.00L565.41 273.00L566.27 273.00L567.13 273.00L567.99 273.00L568.85 273.00L569.71 273.00L570.57 273.00L571.43 273.00L572.29 273.00L573.14 273.00L574.00 273.00L574.86 273.00L575.72 273.00L576.58 273.00L577.44 273.00L578.30 273.00L579.16 273.00L580.02 273.00L580.88 273.00L581.74 273.00L582.60 273.00L583.46 273.00L584.32 273.00L585.18 273.00L586.04 273.00L586.90 273.00L587.76 273.00L588.62 273.00L589.48 273.00L590.33 273.00L591.19 273.00L592.05 273.00L592.91 273.00L593.77 273.00L594.63 273.00L595.49 273.00L596.35 273.00L597.21 273.00L598.07 273.00L598.93 273.00L599.79 273.00L600.65 273.00L601.51 273.00L602.37 273.00L603.23 273.00L604.09 273.00L604.95 273.00L605.81 273.00L606.67 273.00L607.52 273.00L608.38 273.00L609.24 273.00L610.10 273.00L610.96 273.00L611.82 273.00L612.68 273.00L613.54 273.00L614.40 273.00L615.26 273.00L616.12 273.00L616.98 273.00L617.84 273.00L618.70 273.00L619.56 273.00L620.42 273.00L621.28 273.00L622.14 273.00L623.00 273.00L623.86 273.00L624.71 273.00L625.57 273.00L626.43 273.00L627.29 273.00L628.15 272.99L629.01 272.97L629.87 272.95L630.73 272.91L631.59 272.86L632.45 272.80L633.31 272.74L634.17 272.67L635.03 272.59L635.89 272.51L636.75 272.43L637.61 272.34L638.47 272.25L639.33 272.16L640.19 272.06L641.05 271.96L641.90 271.86L642.76 271.75L643.62 271.64L644.48 271.52L645.34 271.39L646.20 271.25L647.06 271.11L647.92 270.95L648.78 270.78L649.64 270.59L650.50 270.39L651.36 270.17L652.22 269.93L653.08 269.67L653.94 269.41L654.80 269.13L655.66 268.85L656.52 268.57L657.38 268.29L658.24 268.03L659.09 267.78L659.95 267.55L660.81 267.34L661.67 267.14L662.53 266.97L663.39 266.82L664.25 266.68L665.11 266.55L665.97 266.43L666.83 266.32L667.69 266.21L668.55 266.11L669.41 266.00L670.27 265.91L671.13 265.81L671.99 265.72L672.85 265.63L673.71 265.55L674.57 265.47L675.43 265.39L676.28 265.32L677.14 265.25L678.00 265.19L678.86 265.13L679.72 265.08L680.58 265.04L681.44 265.00L682.30 264.96L683.16 264.94L684.02 264.92L684.88 264.90L685.74 264.90L686.60 264.90L687.46 264.90L688.32 264.91L689.18 264.93L690.04 264.96L690.90 264.98L691.76 265.02L692.62 265.06L693.47 265.10L694.33 265.14L695.19 265.19L696.05 265.25L696.91 265.30L697.77 265.36L698.63 265.42L699.49 265.49L700.35 265.55L701.21 265.62L702.07 265.69L702.93 265.75L703.79 265.82L704.65 265.90L705.51 265.97L706.37 266.04L707.23 266.11L708.09 266.19L708.95 266.27L709.81 266.34L710.66 266.42L711.52 266.50L712.38 266.59L713.24 266.67L714.10 266.75L714.96 266.84L715.82 266.93L716.68 267.02L717.54 267.11L718.40 267.21L719.26 267.30L720.12 267.40L720.98 267.50L721.84 267.60L722.70 267.70L723.56 267.80L724.42 267.90L725.28 268.01L726.14 268.11L727.00 268.21L727.86 268.32L728.71 268.42L729.57 268.53L730.43 268.63L731.29 268.73L732.15 268.83L733.01 268.93L733.87 269.03L734.73 269.13L735.59 269.23L736.45 269.32L737.31 269.42L738.17 269.51L739.03 269.60L739.89 269.69L740.75 269.78L741.61 269.86L742.47 269.95L743.33 270.03L744.19 270.11L745.04 270.19L745.90 270.27L746.76 270.35L747.62 270.42L748.48 270.50L749.34 270.57L750.20 270.64L751.06 270.71L751.92 270.78L752.78 270.85L753.64 270.92L754.50 270.98L755.36 271.05L756.22 271.11L757.08 271.17L757.94 271.23L758.80 271.29L759.66 271.34L760.52 271.40L761.38 271.45L762.23 271.50L763.09 271.56L763.95 271.60L764.81 271.65L765.67 271.70L766.53 271.74L767.39 271.79L768.25 271.83L769.11 271.87L769.97 271.91L770.83 271.95L771.69 271.99L772.55 272.02L773.41 272.06L774.27 272.09L775.13 272.12L775.99 272.15L776.85 272.18L777.71 272.21L778.57 272.23L779.42 272.26L780.28 272.29L781.14 272.31L782.00 272.33L782.86 272.36L783.72 272.38L784.58 272.40L785.44 272.42L786.30 272.44L787.16 272.46L788.02 272.48L788.88 272.49L789.74 272.51L790.60 272.53L791.46 272.54L792.32 272.56L793.18 272.57L794.04 272.59L794.90 272.60L795.76 272.61L796.62 272.63L797.47 272.64L798.33 272.65L799.19 272.66L800.05 272.68L800.91 272.69L801.77 272.70L802.63 272.71L803.49 272.72L804.35 272.73L805.21 272.74" stroke="#0000ff" stroke-width="1.05" stroke-dasharray="10.6 3.2 2 3.2"/>
<path d="M662.02 273.00V168.52" stroke="#000" stroke-width="2.2" stroke-dasharray="6.7 3.63"/>
</g></g>
<g fill="none" stroke-linejoin="round">
<clipPath id="c3"><rect x="83.00" y="270.00" width="240.70" height="264.60"/></clipPath>
<g clip-path="url(#c3)">
<path d="M83.00 534.60L83.86 534.08L84.72 533.50L85.58 532.78L86.44 531.85L87.30 530.64L88.16 529.12L89.02 527.32L89.88 525.31L90.74 523.16L91.59 520.94L92.45 518.71L93.31 516.47L94.17 514.21L95.03 511.94L95.89 509.64L96.75 507.33L97.61 505.04L98.47 502.84L99.33 500.77L100.19 498.91L101.05 497.27L101.91 495.84L102.77 494.56L103.63 493.37L104.49 492.22L105.35 491.08L106.21 489.99L107.07 488.99L107.93 488.15L108.78 487.51L109.64 487.12L110.50 486.96L111.36 486.99L112.22 487.17L113.08 487.49L113.94 487.91L114.80 488.40L115.66 488.96L116.52 489.54L117.38 490.13L118.24 490.70L119.10 491.24L119.96 491.75L120.82 492.22L121.68 492.64L122.54 493.01L123.40 493.31L124.26 493.55L125.12 493.71L125.97 493.80L126.83 493.79L127.69 493.69L128.55 493.51L129.41 493.25L130.27 492.92L131.13 492.54L131.99 492.11L132.85 491.65L133.71 491.16L134.57 490.65L135.43 490.14L136.29 489.62L137.15 489.12L138.01 488.63L138.87 488.17L139.73 487.75L140.59 487.37L141.45 487.05L142.31 486.79L143.17 486.60L144.02 486.49L144.88 486.47L145.74 486.54L146.60 486.71L147.46 486.97L148.32 487.32L149.18 487.77L150.04 488.30L150.90 488.91L151.76 489.60L152.62 490.38L153.48 491.22L154.34 492.10L155.20 493.00L156.06 493.92L156.92 494.82L157.78 495.70L158.64 496.53L159.50 497.29L160.36 497.98L161.21 498.56L162.07 499.05L162.93 499.44L163.79 499.74L164.65 499.95L165.51 500.07L166.37 500.11L167.23 500.07L168.09 499.94L168.95 499.73L169.81 499.42L170.67 499.00L171.53 498.47L172.39 497.81L173.25 497.01L174.11 496.07L174.97 494.97L175.83 493.71L176.69 492.27L177.55 490.65L178.40 488.85L179.26 486.91L180.12 484.90L180.98 482.85L181.84 480.75L182.70 478.59L183.56 476.35L184.42 474.00L185.28 471.54L186.14 468.98L187.00 466.34L187.86 463.63L188.72 460.88L189.58 458.09L190.44 455.29L191.30 452.49L192.16 449.71L193.02 446.96L193.88 444.24L194.74 441.55L195.59 438.88L196.45 436.23L197.31 433.59L198.17 430.96L199.03 428.35L199.89 425.73L200.75 423.12L201.61 420.50L202.47 417.87L203.33 415.23L204.19 412.58L205.05 409.91L205.91 407.22L206.77 404.53L207.63 401.83L208.49 399.13L209.35 396.43L210.21 393.72L211.07 391.03L211.93 388.34L212.78 385.66L213.64 382.99L214.50 380.34L215.36 377.70L216.22 375.09L217.08 372.50L217.94 369.94L218.80 367.41L219.66 364.90L220.52 362.43L221.38 360.00L222.24 357.60L223.10 355.25L223.96 352.93L224.82 350.66L225.68 348.44L226.54 346.27L227.40 344.15L228.26 342.08L229.12 340.05L229.97 338.08L230.83 336.15L231.69 334.27L232.55 332.43L233.41 330.62L234.27 328.86L235.13 327.13L235.99 325.44L236.85 323.79L237.71 322.16L238.57 320.57L239.43 319.00L240.29 317.47L241.15 315.97L242.01 314.50L242.87 313.06L243.73 311.66L244.59 310.29L245.45 308.95L246.31 307.64L247.16 306.38L248.02 305.14L248.88 303.94L249.74 302.78L250.60 301.65L251.46 300.55L252.32 299.49L253.18 298.47L254.04 297.47L254.90 296.52L255.76 295.60L256.62 294.71L257.48 293.85L258.34 293.03L259.20 292.24L260.06 291.49L260.92 290.76L261.78 290.07L262.64 289.40L263.50 288.77L264.35 288.17L265.21 287.59L266.07 287.04L266.93 286.52L267.79 286.02L268.65 285.55L269.51 285.10L270.37 284.68L271.23 284.28L272.09 283.90L272.95 283.54L273.81 283.20L274.67 282.88L275.53 282.58L276.39 282.30L277.25 282.04L278.11 281.79L278.97 281.56L279.83 281.35L280.69 281.16L281.54 280.98L282.40 280.82L283.26 280.67L284.12 280.53L284.98 280.41L285.84 280.30L286.70 280.21L287.56 280.12L288.42 280.05L289.28 279.98L290.14 279.92L291.00 279.88L291.86 279.84L292.72 279.81L293.58 279.79L294.44 279.77L295.30 279.76L296.16 279.76L297.02 279.77L297.88 279.78L298.73 279.80L299.59 279.82L300.45 279.85L301.31 279.88L302.17 279.92L303.03 279.96L303.89 280.01L304.75 280.06L305.61 280.12L306.47 280.18L307.33 280.24L308.19 280.31L309.05 280.37L309.91 280.45L310.77 280.52L311.63 280.60L312.49 280.68L313.35 280.76L314.21 280.84L315.07 280.93L315.92 281.02L316.78 281.11L317.64 281.20L318.50 281.29L319.36 281.38L320.22 281.47L321.08 281.57L321.94 281.66L322.80 281.76L323.66 281.85" stroke="#ff00ff" stroke-width="2.1"/>
<path d="M83.00 534.60L83.86 534.47L84.72 534.09L85.58 533.46L86.44 532.57L87.30 531.41L88.16 530.00L89.02 528.37L89.88 526.56L90.74 524.68L91.59 522.81L92.45 521.05L93.31 519.42L94.17 517.89L95.03 516.42L95.89 514.97L96.75 513.49L97.61 512.00L98.47 510.55L99.33 509.17L100.19 507.93L101.05 506.86L101.91 505.96L102.77 505.20L103.63 504.56L104.49 504.01L105.35 503.53L106.21 503.15L107.07 502.87L107.93 502.73L108.78 502.76L109.64 502.96L110.50 503.35L111.36 503.92L112.22 504.66L113.08 505.57L113.94 506.64L114.80 507.84L115.66 509.13L116.52 510.48L117.38 511.85L118.24 513.23L119.10 514.62L119.96 516.04L120.82 517.51L121.68 519.03L122.54 520.61L123.40 522.23L124.26 523.85L125.12 525.39L125.97 526.83L126.83 528.13L127.69 529.31L128.55 530.43L129.41 531.49L130.27 532.50L131.13 533.40L131.99 534.08L132.85 534.48L133.71 534.60L134.57 534.51L135.43 534.28L136.29 533.98L137.15 533.66L138.01 533.34L138.87 533.04L139.73 532.77L140.59 532.53L141.45 532.31L142.31 532.12L143.17 531.93L144.02 531.74L144.88 531.56L145.74 531.37L146.60 531.18L147.46 531.00L148.32 530.83L149.18 530.67L150.04 530.53L150.90 530.41L151.76 530.30L152.62 530.22L153.48 530.17L154.34 530.15L155.20 530.17L156.06 530.22L156.92 530.31L157.78 530.44L158.64 530.62L159.50 530.84L160.36 531.11L161.21 531.42L162.07 531.77L162.93 532.15L163.79 532.56L164.65 532.96L165.51 533.34L166.37 533.69L167.23 533.99L168.09 534.22L168.95 534.40L169.81 534.52L170.67 534.58L171.53 534.60L172.39 534.59L173.25 534.55L174.11 534.50L174.97 534.45L175.83 534.39L176.69 534.33L177.55 534.27L178.40 534.21L179.26 534.16L180.12 534.09L180.98 534.03L181.84 533.95L182.70 533.87L183.56 533.76L184.42 533.64L185.28 533.48L186.14 533.29L187.00 533.05L187.86 532.76L188.72 532.42L189.58 532.02L190.44 531.56L191.30 531.06L192.16 530.50L193.02 529.89L193.88 529.25L194.74 528.58L195.59 527.90L196.45 527.19L197.31 526.47L198.17 525.73L199.03 524.97L199.89 524.18L200.75 523.37L201.61 522.53L202.47 521.65L203.33 520.74L204.19 519.77L205.05 518.77L205.91 517.73L206.77 516.64L207.63 515.53L208.49 514.39L209.35 513.23L210.21 512.05L211.07 510.87L211.93 509.68L212.78 508.49L213.64 507.31L214.50 506.14L215.36 504.98L216.22 503.82L217.08 502.66L217.94 501.50L218.80 500.33L219.66 499.16L220.52 497.98L221.38 496.78L222.24 495.57L223.10 494.34L223.96 493.10L224.82 491.86L225.68 490.60L226.54 489.34L227.40 488.07L228.26 486.80L229.12 485.52L229.97 484.24L230.83 482.96L231.69 481.69L232.55 480.41L233.41 479.15L234.27 477.89L235.13 476.64L235.99 475.40L236.85 474.17L237.71 472.96L238.57 471.76L239.43 470.58L240.29 469.42L241.15 468.27L242.01 467.14L242.87 466.03L243.73 464.93L244.59 463.85L245.45 462.78L246.31 461.74L247.16 460.70L248.02 459.68L248.88 458.68L249.74 457.69L250.60 456.72L251.46 455.76L252.32 454.81L253.18 453.87L254.04 452.95L254.90 452.04L255.76 451.14L256.62 450.25L257.48 449.38L258.34 448.51L259.20 447.66L260.06 446.82L260.92 445.99L261.78 445.18L262.64 444.38L263.50 443.59L264.35 442.82L265.21 442.07L266.07 441.33L266.93 440.60L267.79 439.89L268.65 439.19L269.51 438.51L270.37 437.85L271.23 437.20L272.09 436.57L272.95 435.96L273.81 435.37L274.67 434.79L275.53 434.23L276.39 433.68L277.25 433.15L278.11 432.64L278.97 432.14L279.83 431.66L280.69 431.19L281.54 430.73L282.40 430.30L283.26 429.87L284.12 429.46L284.98 429.06L285.84 428.68L286.70 428.31L287.56 427.95L288.42 427.61L289.28 427.27L290.14 426.95L291.00 426.64L291.86 426.35L292.72 426.06L293.58 425.79L294.44 425.53L295.30 425.28L296.16 425.04L297.02 424.82L297.88 424.61L298.73 424.41L299.59 424.22L300.45 424.05L301.31 423.89L302.17 423.74L303.03 423.61L303.89 423.49L304.75 423.38L305.61 423.29L306.47 423.21L307.33 423.14L308.19 423.08L309.05 423.04L309.91 423.01L310.77 423.00L311.63 422.99L312.49 423.00L313.35 423.02L314.21 423.05L315.07 423.09L315.92 423.14L316.78 423.19L317.64 423.25L318.50 423.32L319.36 423.40L320.22 423.47L321.08 423.55L321.94 423.64L322.80 423.72L323.66 423.81" stroke="#ff0000" stroke-width="1.05"/>
<path d="M83.00 534.60L83.86 534.56L84.72 534.44L85.58 534.24L86.44 533.95L87.30 533.59L88.16 533.14L89.02 532.62L89.88 532.05L90.74 531.45L91.59 530.85L92.45 530.30L93.31 529.78L94.17 529.29L95.03 528.82L95.89 528.36L96.75 527.89L97.61 527.42L98.47 526.96L99.33 526.52L100.19 526.13L101.05 525.79L101.91 525.50L102.77 525.26L103.63 525.06L104.49 524.88L105.35 524.73L106.21 524.61L107.07 524.52L107.93 524.47L108.78 524.48L109.64 524.55L110.50 524.67L111.36 524.85L112.22 525.09L113.08 525.38L113.94 525.72L114.80 526.10L115.66 526.51L116.52 526.94L117.38 527.37L118.24 527.81L119.10 528.25L119.96 528.70L120.82 529.17L121.68 529.65L122.54 530.16L123.40 530.67L124.26 531.18L125.12 531.67L125.97 532.13L126.83 532.54L127.69 532.92L128.55 533.27L129.41 533.61L130.27 533.93L131.13 534.22L131.99 534.43L132.85 534.56L133.71 534.60L134.57 534.57L135.43 534.50L136.29 534.40L137.15 534.29L138.01 534.18L138.87 534.07L139.73 533.97L140.59 533.88L141.45 533.80L142.31 533.73L143.17 533.66L144.02 533.59L144.88 533.52L145.74 533.45L146.60 533.38L147.46 533.32L148.32 533.26L149.18 533.20L150.04 533.16L150.90 533.11L151.76 533.08L152.62 533.05L153.48 533.04L154.34 533.03L155.20 533.04L156.06 533.05L156.92 533.09L157.78 533.13L158.64 533.19L159.50 533.27L160.36 533.37L161.21 533.48L162.07 533.60L162.93 533.74L163.79 533.88L164.65 534.02L165.51 534.16L166.37 534.28L167.23 534.39L168.09 534.47L168.95 534.53L169.81 534.57L170.67 534.59L171.53 534.60L172.39 534.60L173.25 534.58L174.11 534.57L174.97 534.55L175.83 534.54L176.69 534.52L177.55 534.51L178.40 534.49L179.26 534.48L180.12 534.47L180.98 534.46L181.84 534.45L182.70 534.43L183.56 534.42L184.42 534.40L185.28 534.37L186.14 534.34L187.00 534.30L187.86 534.25L188.72 534.18L189.58 534.10L190.44 534.01L191.30 533.91L192.16 533.78L193.02 533.64L193.88 533.48L194.74 533.29L195.59 533.09L196.45 532.86L197.31 532.60L198.17 532.33L199.03 532.02L199.89 531.70L200.75 531.35L201.61 530.98L202.47 530.58L203.33 530.17L204.19 529.73L205.05 529.28L205.91 528.81L206.77 528.32L207.63 527.83L208.49 527.32L209.35 526.80L210.21 526.26L211.07 525.72L211.93 525.17L212.78 524.62L213.64 524.06L214.50 523.50L215.36 522.93L216.22 522.37L217.08 521.80L217.94 521.24L218.80 520.68L219.66 520.13L220.52 519.59L221.38 519.06L222.24 518.53L223.10 518.00L223.96 517.48L224.82 516.97L225.68 516.45L226.54 515.93L227.40 515.41L228.26 514.89L229.12 514.36L229.97 513.83L230.83 513.29L231.69 512.74L232.55 512.18L233.41 511.62L234.27 511.04L235.13 510.46L235.99 509.86L236.85 509.24L237.71 508.61L238.57 507.97L239.43 507.31L240.29 506.63L241.15 505.94L242.01 505.23L242.87 504.51L243.73 503.78L244.59 503.03L245.45 502.27L246.31 501.51L247.16 500.73L248.02 499.94L248.88 499.15L249.74 498.35L250.60 497.54L251.46 496.73L252.32 495.92L253.18 495.10L254.04 494.28L254.90 493.46L255.76 492.64L256.62 491.83L257.48 491.02L258.34 490.20L259.20 489.39L260.06 488.59L260.92 487.78L261.78 486.98L262.64 486.18L263.50 485.38L264.35 484.59L265.21 483.79L266.07 483.01L266.93 482.22L267.79 481.44L268.65 480.66L269.51 479.88L270.37 479.11L271.23 478.34L272.09 477.57L272.95 476.81L273.81 476.05L274.67 475.29L275.53 474.53L276.39 473.78L277.25 473.04L278.11 472.30L278.97 471.56L279.83 470.82L280.69 470.09L281.54 469.36L282.40 468.63L283.26 467.91L284.12 467.19L284.98 466.47L285.84 465.76L286.70 465.05L287.56 464.34L288.42 463.64L289.28 462.93L290.14 462.24L291.00 461.54L291.86 460.85L292.72 460.16L293.58 459.47L294.44 458.78L295.30 458.10L296.16 457.42L297.02 456.74L297.88 456.06L298.73 455.38L299.59 454.70L300.45 454.02L301.31 453.35L302.17 452.67L303.03 452.00L303.89 451.32L304.75 450.64L305.61 449.97L306.47 449.29L307.33 448.61L308.19 447.93L309.05 447.25L309.91 446.57L310.77 445.89L311.63 445.20L312.49 444.52L313.35 443.83L314.21 443.14L315.07 442.45L315.92 441.76L316.78 441.06L317.64 440.37L318.50 439.67L319.36 438.97L320.22 438.27L321.08 437.57L321.94 436.86L322.80 436.15L323.66 435.44" stroke="#ff0000" stroke-width="1.05" stroke-dasharray="7 3.6"/>
<path d="M83.00 534.60L83.86 534.60L84.72 534.60L85.58 534.60L86.44 534.60L87.30 534.60L88.16 534.60L89.02 534.60L89.88 534.60L90.74 534.60L91.59 534.60L92.45 534.60L93.31 534.60L94.17 534.60L95.03 534.60L95.89 534.60L96.75 534.60L97.61 534.60L98.47 534.60L99.33 534.59L100.19 534.55L101.05 534.48L101.91 534.37L102.77 534.21L103.63 534.01L104.49 533.80L105.35 533.56L106.21 533.32L107.07 533.07L107.93 532.79L108.78 532.51L109.64 532.19L110.50 531.85L111.36 531.46L112.22 531.02L113.08 530.52L113.94 529.94L114.80 529.29L115.66 528.55L116.52 527.74L117.38 526.85L118.24 525.89L119.10 524.87L119.96 523.80L120.82 522.69L121.68 521.54L122.54 520.38L123.40 519.21L124.26 518.04L125.12 516.88L125.97 515.73L126.83 514.62L127.69 513.56L128.55 512.54L129.41 511.59L130.27 510.69L131.13 509.85L131.99 509.08L132.85 508.37L133.71 507.73L134.57 507.17L135.43 506.69L136.29 506.31L137.15 506.04L138.01 505.87L138.87 505.82L139.73 505.90L140.59 506.10L141.45 506.41L142.31 506.84L143.17 507.37L144.02 508.01L144.88 508.75L145.74 509.59L146.60 510.52L147.46 511.54L148.32 512.66L149.18 513.87L150.04 515.18L150.90 516.56L151.76 518.00L152.62 519.48L153.48 520.97L154.34 522.46L155.20 523.93L156.06 525.36L156.92 526.75L157.78 528.10L158.64 529.43L159.50 530.70L160.36 531.88L161.21 532.85L162.07 533.55L162.93 533.99L163.79 534.25L164.65 534.40L165.51 534.49L166.37 534.55L167.23 534.59L168.09 534.60L168.95 534.58L169.81 534.50L170.67 534.33L171.53 534.06L172.39 533.68L173.25 533.17L174.11 532.54L174.97 531.80L175.83 530.96L176.69 530.05L177.55 529.11L178.40 528.16L179.26 527.22L180.12 526.30L180.98 525.39L181.84 524.48L182.70 523.58L183.56 522.66L184.42 521.72L185.28 520.74L186.14 519.69L187.00 518.56L187.86 517.36L188.72 516.09L189.58 514.77L190.44 513.39L191.30 511.98L192.16 510.56L193.02 509.13L193.88 507.72L194.74 506.35L195.59 505.03L196.45 503.76L197.31 502.55L198.17 501.39L199.03 500.28L199.89 499.22L200.75 498.21L201.61 497.23L202.47 496.28L203.33 495.36L204.19 494.46L205.05 493.59L205.91 492.74L206.77 491.91L207.63 491.11L208.49 490.33L209.35 489.58L210.21 488.85L211.07 488.15L211.93 487.48L212.78 486.83L213.64 486.21L214.50 485.62L215.36 485.06L216.22 484.52L217.08 484.02L217.94 483.54L218.80 483.09L219.66 482.67L220.52 482.28L221.38 481.92L222.24 481.58L223.10 481.28L223.96 481.01L224.82 480.76L225.68 480.54L226.54 480.36L227.40 480.20L228.26 480.07L229.12 479.97L229.97 479.90L230.83 479.86L231.69 479.85L232.55 479.86L233.41 479.91L234.27 479.99L235.13 480.09L235.99 480.23L236.85 480.40L237.71 480.60L238.57 480.83L239.43 481.10L240.29 481.39L241.15 481.71L242.01 482.06L242.87 482.43L243.73 482.82L244.59 483.24L245.45 483.68L246.31 484.14L247.16 484.61L248.02 485.11L248.88 485.62L249.74 486.14L250.60 486.68L251.46 487.23L252.32 487.79L253.18 488.36L254.04 488.93L254.90 489.51L255.76 490.10L256.62 490.70L257.48 491.29L258.34 491.90L259.20 492.50L260.06 493.11L260.92 493.72L261.78 494.33L262.64 494.94L263.50 495.56L264.35 496.17L265.21 496.78L266.07 497.39L266.93 498.01L267.79 498.62L268.65 499.22L269.51 499.83L270.37 500.43L271.23 501.03L272.09 501.62L272.95 502.21L273.81 502.80L274.67 503.38L275.53 503.96L276.39 504.53L277.25 505.09L278.11 505.65L278.97 506.21L279.83 506.75L280.69 507.30L281.54 507.83L282.40 508.36L283.26 508.88L284.12 509.40L284.98 509.91L285.84 510.41L286.70 510.90L287.56 511.38L288.42 511.86L289.28 512.33L290.14 512.79L291.00 513.25L291.86 513.70L292.72 514.13L293.58 514.57L294.44 514.99L295.30 515.41L296.16 515.82L297.02 516.22L297.88 516.61L298.73 517.00L299.59 517.38L300.45 517.76L301.31 518.12L302.17 518.48L303.03 518.84L303.89 519.19L304.75 519.53L305.61 519.86L306.47 520.19L307.33 520.52L308.19 520.83L309.05 521.14L309.91 521.45L310.77 521.75L311.63 522.05L312.49 522.34L313.35 522.62L314.21 522.90L315.07 523.18L315.92 523.45L316.78 523.72L317.64 523.98L318.50 524.24L319.36 524.50L320.22 524.75L321.08 525.00L321.94 525.24L322.80 525.48L323.66 525.72" stroke="#00c000" stroke-width="1.05"/>
<path d="M83.00 534.60L83.86 534.60L84.72 534.60L85.58 534.60L86.44 534.60L87.30 534.60L88.16 534.60L89.02 534.60L89.88 534.60L90.74 534.60L91.59 534.60L92.45 534.60L93.31 534.60L94.17 534.60L95.03 534.60L95.89 534.60L96.75 534.60L97.61 534.60L98.47 534.60L99.33 534.59L100.19 534.58L101.05 534.55L101.91 534.49L102.77 534.42L103.63 534.33L104.49 534.23L105.35 534.12L106.21 534.01L107.07 533.89L107.93 533.76L108.78 533.63L109.64 533.48L110.50 533.32L111.36 533.15L112.22 532.94L113.08 532.71L113.94 532.44L114.80 532.14L115.66 531.80L116.52 531.42L117.38 531.01L118.24 530.56L119.10 530.09L119.96 529.59L120.82 529.08L121.68 528.55L122.54 528.01L123.40 527.47L124.26 526.92L125.12 526.38L125.97 525.85L126.83 525.34L127.69 524.84L128.55 524.37L129.41 523.93L130.27 523.51L131.13 523.13L131.99 522.77L132.85 522.44L133.71 522.14L134.57 521.88L135.43 521.66L136.29 521.49L137.15 521.36L138.01 521.28L138.87 521.26L139.73 521.29L140.59 521.38L141.45 521.53L142.31 521.73L143.17 521.98L144.02 522.27L144.88 522.62L145.74 523.00L146.60 523.43L147.46 523.91L148.32 524.43L149.18 524.99L150.04 525.59L150.90 526.24L151.76 526.90L152.62 527.59L153.48 528.28L154.34 528.97L155.20 529.65L156.06 530.32L156.92 530.96L157.78 531.59L158.64 532.20L159.50 532.79L160.36 533.34L161.21 533.79L162.07 534.11L162.93 534.32L163.79 534.44L164.65 534.51L165.51 534.55L166.37 534.58L167.23 534.59L168.09 534.60L168.95 534.59L169.81 534.57L170.67 534.51L171.53 534.43L172.39 534.30L173.25 534.14L174.11 533.94L174.97 533.70L175.83 533.42L176.69 533.11L177.55 532.77L178.40 532.41L179.26 532.04L180.12 531.64L180.98 531.24L181.84 530.81L182.70 530.37L183.56 529.90L184.42 529.40L185.28 528.88L186.14 528.32L187.00 527.72L187.86 527.09L188.72 526.42L189.58 525.73L190.44 525.02L191.30 524.31L192.16 523.60L193.02 522.90L193.88 522.22L194.74 521.56L195.59 520.92L196.45 520.28L197.31 519.65L198.17 519.02L199.03 518.38L199.89 517.73L200.75 517.05L201.61 516.35L202.47 515.64L203.33 514.90L204.19 514.16L205.05 513.41L205.91 512.65L206.77 511.90L207.63 511.15L208.49 510.41L209.35 509.69L210.21 508.97L211.07 508.26L211.93 507.57L212.78 506.89L213.64 506.22L214.50 505.56L215.36 504.91L216.22 504.28L217.08 503.66L217.94 503.05L218.80 502.45L219.66 501.87L220.52 501.30L221.38 500.74L222.24 500.19L223.10 499.65L223.96 499.13L224.82 498.61L225.68 498.10L226.54 497.60L227.40 497.10L228.26 496.61L229.12 496.12L229.97 495.63L230.83 495.15L231.69 494.67L232.55 494.19L233.41 493.72L234.27 493.25L235.13 492.80L235.99 492.35L236.85 491.92L237.71 491.50L238.57 491.09L239.43 490.69L240.29 490.31L241.15 489.94L242.01 489.59L242.87 489.25L243.73 488.92L244.59 488.60L245.45 488.30L246.31 488.02L247.16 487.75L248.02 487.49L248.88 487.24L249.74 487.01L250.60 486.80L251.46 486.59L252.32 486.41L253.18 486.23L254.04 486.07L254.90 485.92L255.76 485.79L256.62 485.66L257.48 485.56L258.34 485.47L259.20 485.39L260.06 485.32L260.92 485.27L261.78 485.24L262.64 485.22L263.50 485.22L264.35 485.23L265.21 485.25L266.07 485.29L266.93 485.35L267.79 485.42L268.65 485.50L269.51 485.60L270.37 485.71L271.23 485.83L272.09 485.96L272.95 486.11L273.81 486.27L274.67 486.44L275.53 486.62L276.39 486.81L277.25 487.01L278.11 487.22L278.97 487.44L279.83 487.67L280.69 487.91L281.54 488.15L282.40 488.40L283.26 488.66L284.12 488.92L284.98 489.19L285.84 489.47L286.70 489.75L287.56 490.03L288.42 490.32L289.28 490.62L290.14 490.91L291.00 491.21L291.86 491.52L292.72 491.82L293.58 492.13L294.44 492.44L295.30 492.75L296.16 493.06L297.02 493.38L297.88 493.70L298.73 494.02L299.59 494.34L300.45 494.66L301.31 494.98L302.17 495.30L303.03 495.62L303.89 495.95L304.75 496.27L305.61 496.59L306.47 496.91L307.33 497.24L308.19 497.56L309.05 497.88L309.91 498.20L310.77 498.52L311.63 498.84L312.49 499.16L313.35 499.47L314.21 499.79L315.07 500.11L315.92 500.42L316.78 500.73L317.64 501.05L318.50 501.36L319.36 501.67L320.22 501.98L321.08 502.29L321.94 502.59L322.80 502.90L323.66 503.20" stroke="#00c000" stroke-width="1.05" stroke-dasharray="1.8 1.8"/>
<path d="M83.00 534.60L83.86 534.60L84.72 534.60L85.58 534.60L86.44 534.60L87.30 534.60L88.16 534.60L89.02 534.60L89.88 534.60L90.74 534.60L91.59 534.60L92.45 534.60L93.31 534.60L94.17 534.60L95.03 534.60L95.89 534.60L96.75 534.60L97.61 534.60L98.47 534.60L99.33 534.60L100.19 534.60L101.05 534.60L101.91 534.60L102.77 534.60L103.63 534.60L104.49 534.60L105.35 534.60L106.21 534.60L107.07 534.60L107.93 534.60L108.78 534.60L109.64 534.60L110.50 534.60L111.36 534.60L112.22 534.60L113.08 534.60L113.94 534.60L114.80 534.60L115.66 534.60L116.52 534.60L117.38 534.60L118.24 534.60L119.10 534.60L119.96 534.60L120.82 534.60L121.68 534.60L122.54 534.60L123.40 534.60L124.26 534.60L125.12 534.60L125.97 534.60L126.83 534.60L127.69 534.59L128.55 534.57L129.41 534.52L130.27 534.42L131.13 534.27L131.99 534.05L132.85 533.77L133.71 533.42L134.57 533.03L135.43 532.61L136.29 532.16L137.15 531.70L138.01 531.22L138.87 530.73L139.73 530.23L140.59 529.71L141.45 529.18L142.31 528.63L143.17 528.06L144.02 527.46L144.88 526.84L145.74 526.20L146.60 525.53L147.46 524.85L148.32 524.15L149.18 523.43L150.04 522.71L150.90 521.99L151.76 521.26L152.62 520.53L153.48 519.81L154.34 519.09L155.20 518.39L156.06 517.69L156.92 517.01L157.78 516.34L158.64 515.69L159.50 515.06L160.36 514.46L161.21 513.87L162.07 513.31L162.93 512.78L163.79 512.27L164.65 511.79L165.51 511.33L166.37 510.89L167.23 510.49L168.09 510.10L168.95 509.75L169.81 509.42L170.67 509.11L171.53 508.82L172.39 508.56L173.25 508.32L174.11 508.10L174.97 507.90L175.83 507.71L176.69 507.55L177.55 507.39L178.40 507.26L179.26 507.14L180.12 507.03L180.98 506.95L181.84 506.89L182.70 506.86L183.56 506.85L184.42 506.87L185.28 506.92L186.14 506.99L187.00 507.09L187.86 507.21L188.72 507.35L189.58 507.49L190.44 507.65L191.30 507.81L192.16 507.97L193.02 508.13L193.88 508.29L194.74 508.44L195.59 508.58L196.45 508.71L197.31 508.83L198.17 508.94L199.03 509.04L199.89 509.14L200.75 509.23L201.61 509.32L202.47 509.40L203.33 509.49L204.19 509.57L205.05 509.65L205.91 509.73L206.77 509.81L207.63 509.89L208.49 509.98L209.35 510.07L210.21 510.16L211.07 510.26L211.93 510.36L212.78 510.47L213.64 510.59L214.50 510.71L215.36 510.84L216.22 510.98L217.08 511.13L217.94 511.29L218.80 511.46L219.66 511.65L220.52 511.84L221.38 512.05L222.24 512.27L223.10 512.50L223.96 512.74L224.82 512.99L225.68 513.25L226.54 513.51L227.40 513.79L228.26 514.07L229.12 514.36L229.97 514.65L230.83 514.95L231.69 515.25L232.55 515.55L233.41 515.86L234.27 516.17L235.13 516.48L235.99 516.79L236.85 517.11L237.71 517.42L238.57 517.73L239.43 518.04L240.29 518.35L241.15 518.66L242.01 518.96L242.87 519.27L243.73 519.57L244.59 519.87L245.45 520.17L246.31 520.47L247.16 520.77L248.02 521.06L248.88 521.35L249.74 521.64L250.60 521.93L251.46 522.22L252.32 522.50L253.18 522.78L254.04 523.05L254.90 523.33L255.76 523.60L256.62 523.86L257.48 524.13L258.34 524.39L259.20 524.65L260.06 524.90L260.92 525.15L261.78 525.40L262.64 525.64L263.50 525.88L264.35 526.12L265.21 526.35L266.07 526.58L266.93 526.80L267.79 527.02L268.65 527.24L269.51 527.45L270.37 527.66L271.23 527.86L272.09 528.06L272.95 528.25L273.81 528.44L274.67 528.63L275.53 528.81L276.39 528.99L277.25 529.16L278.11 529.33L278.97 529.50L279.83 529.66L280.69 529.82L281.54 529.97L282.40 530.12L283.26 530.27L284.12 530.41L284.98 530.55L285.84 530.68L286.70 530.82L287.56 530.94L288.42 531.07L289.28 531.19L290.14 531.31L291.00 531.42L291.86 531.54L292.72 531.64L293.58 531.75L294.44 531.85L295.30 531.95L296.16 532.05L297.02 532.14L297.88 532.24L298.73 532.33L299.59 532.41L300.45 532.50L301.31 532.58L302.17 532.66L303.03 532.74L303.89 532.82L304.75 532.89L305.61 532.96L306.47 533.03L307.33 533.10L308.19 533.17L309.05 533.23L309.91 533.29L310.77 533.35L311.63 533.41L312.49 533.47L313.35 533.53L314.21 533.58L315.07 533.63L315.92 533.68L316.78 533.73L317.64 533.78L318.50 533.83L319.36 533.87L320.22 533.92L321.08 533.96L321.94 534.00L322.80 534.04L323.66 534.08" stroke="#0000ff" stroke-width="1.05" stroke-dasharray="7 3.6"/>
<path d="M83.00 534.60L83.86 534.60L84.72 534.60L85.58 534.60L86.44 534.60L87.30 534.60L88.16 534.60L89.02 534.60L89.88 534.60L90.74 534.60L91.59 534.60L92.45 534.60L93.31 534.60L94.17 534.60L95.03 534.60L95.89 534.60L96.75 534.60L97.61 534.60L98.47 534.60L99.33 534.60L100.19 534.60L101.05 534.60L101.91 534.60L102.77 534.60L103.63 534.60L104.49 534.60L105.35 534.60L106.21 534.60L107.07 534.60L107.93 534.60L108.78 534.60L109.64 534.60L110.50 534.60L111.36 534.60L112.22 534.60L113.08 534.60L113.94 534.60L114.80 534.60L115.66 534.60L116.52 534.60L117.38 534.60L118.24 534.60L119.10 534.60L119.96 534.60L120.82 534.60L121.68 534.60L122.54 534.60L123.40 534.60L124.26 534.60L125.12 534.60L125.97 534.60L126.83 534.60L127.69 534.60L128.55 534.60L129.41 534.60L130.27 534.60L131.13 534.60L131.99 534.60L132.85 534.60L133.71 534.60L134.57 534.60L135.43 534.60L136.29 534.60L137.15 534.60L138.01 534.60L138.87 534.60L139.73 534.60L140.59 534.60L141.45 534.60L142.31 534.60L143.17 534.60L144.02 534.60L144.88 534.59L145.74 534.57L146.60 534.51L147.46 534.40L148.32 534.23L149.18 534.00L150.04 533.72L150.90 533.39L151.76 533.03L152.62 532.68L153.48 532.34L154.34 532.01L155.20 531.71L156.06 531.43L156.92 531.16L157.78 530.90L158.64 530.66L159.50 530.41L160.36 530.15L161.21 529.88L162.07 529.60L162.93 529.30L163.79 528.99L164.65 528.68L165.51 528.35L166.37 528.02L167.23 527.68L168.09 527.35L168.95 527.01L169.81 526.69L170.67 526.36L171.53 526.05L172.39 525.75L173.25 525.45L174.11 525.16L174.97 524.89L175.83 524.62L176.69 524.37L177.55 524.14L178.40 523.91L179.26 523.70L180.12 523.50L180.98 523.31L181.84 523.13L182.70 522.96L183.56 522.79L184.42 522.63L185.28 522.47L186.14 522.30L187.00 522.14L187.86 521.98L188.72 521.82L189.58 521.66L190.44 521.50L191.30 521.34L192.16 521.18L193.02 521.03L193.88 520.88L194.74 520.74L195.59 520.59L196.45 520.46L197.31 520.33L198.17 520.21L199.03 520.10L199.89 519.99L200.75 519.90L201.61 519.82L202.47 519.75L203.33 519.69L204.19 519.65L205.05 519.62L205.91 519.60L206.77 519.60L207.63 519.61L208.49 519.63L209.35 519.66L210.21 519.71L211.07 519.76L211.93 519.83L212.78 519.91L213.64 519.99L214.50 520.09L215.36 520.20L216.22 520.31L217.08 520.43L217.94 520.56L218.80 520.70L219.66 520.85L220.52 521.00L221.38 521.15L222.24 521.32L223.10 521.48L223.96 521.65L224.82 521.83L225.68 522.01L226.54 522.19L227.40 522.38L228.26 522.56L229.12 522.75L229.97 522.94L230.83 523.14L231.69 523.33L232.55 523.52L233.41 523.71L234.27 523.90L235.13 524.09L235.99 524.28L236.85 524.47L237.71 524.65L238.57 524.84L239.43 525.02L240.29 525.20L241.15 525.38L242.01 525.55L242.87 525.73L243.73 525.90L244.59 526.07L245.45 526.24L246.31 526.41L247.16 526.58L248.02 526.75L248.88 526.92L249.74 527.09L250.60 527.26L251.46 527.43L252.32 527.60L253.18 527.76L254.04 527.93L254.90 528.10L255.76 528.27L256.62 528.44L257.48 528.61L258.34 528.78L259.20 528.94L260.06 529.11L260.92 529.27L261.78 529.44L262.64 529.60L263.50 529.76L264.35 529.91L265.21 530.07L266.07 530.22L266.93 530.37L267.79 530.51L268.65 530.65L269.51 530.79L270.37 530.93L271.23 531.06L272.09 531.19L272.95 531.31L273.81 531.43L274.67 531.55L275.53 531.66L276.39 531.77L277.25 531.88L278.11 531.98L278.97 532.08L279.83 532.17L280.69 532.27L281.54 532.35L282.40 532.44L283.26 532.52L284.12 532.60L284.98 532.68L285.84 532.75L286.70 532.82L287.56 532.88L288.42 532.95L289.28 533.01L290.14 533.07L291.00 533.12L291.86 533.17L292.72 533.22L293.58 533.27L294.44 533.32L295.30 533.36L296.16 533.40L297.02 533.45L297.88 533.49L298.73 533.52L299.59 533.56L300.45 533.60L301.31 533.63L302.17 533.67L303.03 533.70L303.89 533.73L304.75 533.77L305.61 533.80L306.47 533.83L307.33 533.86L308.19 533.89L309.05 533.92L309.91 533.95L310.77 533.98L311.63 534.01L312.49 534.03L313.35 534.06L314.21 534.09L315.07 534.11L315.92 534.14L316.78 534.16L317.64 534.19L318.50 534.21L319.36 534.23L320.22 534.26L321.08 534.28L321.94 534.30L322.80 534.32L323.66 534.34" stroke="#0000ff" stroke-width="1.05" stroke-dasharray="10.6 3.2 2 3.2"/>
<path d="M184.08 534.60V429.96" stroke="#000" stroke-width="2.2" stroke-dasharray="6.7 3.63"/>
</g></g>
<g fill="none" stroke-linejoin="round">
<clipPath id="c4"><rect x="323.70" y="270.00" width="240.85" height="264.60"/></clipPath>
<g clip-path="url(#c4)">
<path d="M323.70 534.60L324.56 534.00L325.42 533.32L326.28 532.47L327.14 531.39L328.00 529.99L328.86 528.21L329.72 526.11L330.58 523.76L331.44 521.26L332.30 518.67L333.15 516.06L334.01 513.45L334.87 510.82L335.73 508.16L336.59 505.48L337.45 502.78L338.31 500.12L339.17 497.55L340.03 495.14L340.89 492.96L341.75 491.05L342.61 489.38L343.47 487.87L344.33 486.49L345.19 485.16L346.05 483.84L346.91 482.58L347.77 481.42L348.63 480.43L349.49 479.66L350.34 479.16L351.20 478.91L352.06 478.88L352.92 479.05L353.78 479.40L354.64 479.88L355.50 480.47L356.36 481.13L357.22 481.83L358.08 482.54L358.94 483.23L359.80 483.90L360.66 484.52L361.52 485.11L362.38 485.64L363.24 486.12L364.10 486.54L364.96 486.90L365.82 487.18L366.68 487.38L367.53 487.49L368.39 487.51L369.25 487.44L370.11 487.27L370.97 487.03L371.83 486.71L372.69 486.33L373.55 485.89L374.41 485.41L375.27 484.90L376.13 484.35L376.99 483.79L377.85 483.21L378.71 482.64L379.57 482.08L380.43 481.54L381.29 481.04L382.15 480.57L383.01 480.15L383.87 479.79L384.72 479.50L385.58 479.29L386.44 479.16L387.30 479.14L388.16 479.22L389.02 479.40L389.88 479.68L390.74 480.04L391.60 480.47L392.46 480.97L393.32 481.53L394.18 482.14L395.04 482.78L395.90 483.44L396.76 484.10L397.62 484.75L398.48 485.38L399.34 485.97L400.20 486.51L401.06 486.99L401.91 487.38L402.77 487.70L403.63 487.92L404.49 488.06L405.35 488.10L406.21 488.04L407.07 487.87L407.93 487.61L408.79 487.24L409.65 486.76L410.51 486.19L411.37 485.50L412.23 484.72L413.09 483.83L413.95 482.83L414.81 481.73L415.67 480.52L416.53 479.21L417.39 477.79L418.25 476.26L419.10 474.63L419.96 472.87L420.82 470.98L421.68 468.95L422.54 466.76L423.40 464.46L424.26 462.04L425.12 459.54L425.98 456.97L426.84 454.36L427.70 451.72L428.56 449.07L429.42 446.44L430.28 443.82L431.14 441.23L432.00 438.67L432.86 436.12L433.72 433.58L434.58 431.06L435.44 428.56L436.29 426.06L437.15 423.58L438.01 421.10L438.87 418.63L439.73 416.17L440.59 413.70L441.45 411.24L442.31 408.77L443.17 406.31L444.03 403.83L444.89 401.35L445.75 398.87L446.61 396.37L447.47 393.86L448.33 391.34L449.19 388.80L450.05 386.27L450.91 383.73L451.77 381.19L452.62 378.65L453.48 376.12L454.34 373.59L455.20 371.07L456.06 368.57L456.92 366.08L457.78 363.61L458.64 361.16L459.50 358.74L460.36 356.34L461.22 353.97L462.08 351.63L462.94 349.32L463.80 347.05L464.66 344.82L465.52 342.63L466.38 340.49L467.24 338.38L468.10 336.32L468.96 334.30L469.81 332.32L470.67 330.39L471.53 328.50L472.39 326.65L473.25 324.85L474.11 323.08L474.97 321.37L475.83 319.69L476.69 318.06L477.55 316.48L478.41 314.93L479.27 313.43L480.13 311.98L480.99 310.57L481.85 309.20L482.71 307.87L483.57 306.58L484.43 305.34L485.29 304.14L486.15 302.98L487.00 301.85L487.86 300.77L488.72 299.73L489.58 298.73L490.44 297.77L491.30 296.84L492.16 295.95L493.02 295.10L493.88 294.28L494.74 293.50L495.60 292.75L496.46 292.03L497.32 291.35L498.18 290.70L499.04 290.08L499.90 289.48L500.76 288.92L501.62 288.38L502.48 287.87L503.34 287.38L504.19 286.91L505.05 286.47L505.91 286.05L506.77 285.64L507.63 285.26L508.49 284.89L509.35 284.54L510.21 284.21L511.07 283.90L511.93 283.60L512.79 283.31L513.65 283.03L514.51 282.77L515.37 282.53L516.23 282.29L517.09 282.07L517.95 281.86L518.81 281.66L519.67 281.47L520.53 281.29L521.38 281.13L522.24 280.98L523.10 280.83L523.96 280.70L524.82 280.58L525.68 280.47L526.54 280.37L527.40 280.27L528.26 280.19L529.12 280.12L529.98 280.05L530.84 279.99L531.70 279.94L532.56 279.90L533.42 279.87L534.28 279.84L535.14 279.82L536.00 279.81L536.86 279.80L537.72 279.81L538.58 279.81L539.43 279.83L540.29 279.84L541.15 279.87L542.01 279.90L542.87 279.93L543.73 279.97L544.59 280.01L545.45 280.06L546.31 280.11L547.17 280.17L548.03 280.22L548.89 280.29L549.75 280.35L550.61 280.42L551.47 280.49L552.33 280.56L553.19 280.63L554.05 280.71L554.91 280.78L555.76 280.86L556.62 280.95L557.48 281.03L558.34 281.11L559.20 281.20L560.06 281.28L560.92 281.37L561.78 281.46L562.64 281.55L563.50 281.64L564.36 281.72" stroke="#ff00ff" stroke-width="2.1"/>
<path d="M323.70 534.60L324.56 534.46L325.42 534.03L326.28 533.33L327.14 532.33L328.00 531.04L328.86 529.47L329.72 527.64L330.58 525.63L331.44 523.52L332.30 521.44L333.15 519.47L334.01 517.65L334.87 515.94L335.73 514.30L336.59 512.68L337.45 511.03L338.31 509.37L339.17 507.74L340.03 506.21L340.89 504.82L341.75 503.63L342.61 502.62L343.47 501.77L344.33 501.06L345.19 500.45L346.05 499.91L346.91 499.48L347.77 499.17L348.63 499.02L349.49 499.04L350.34 499.27L351.20 499.71L352.06 500.34L352.92 501.17L353.78 502.19L354.64 503.38L355.50 504.72L356.36 506.16L357.22 507.67L358.08 509.20L358.94 510.73L359.80 512.29L360.66 513.88L361.52 515.52L362.38 517.22L363.24 518.98L364.10 520.79L364.96 522.59L365.82 524.32L366.68 525.92L367.53 527.38L368.39 528.70L369.25 529.94L370.11 531.13L370.97 532.25L371.83 533.26L372.69 534.02L373.55 534.46L374.41 534.60L375.27 534.50L376.13 534.24L376.99 533.90L377.85 533.52L378.71 533.15L379.57 532.80L380.43 532.47L381.29 532.18L382.15 531.92L383.01 531.69L383.87 531.46L384.72 531.23L385.58 531.01L386.44 530.78L387.30 530.56L388.16 530.35L389.02 530.15L389.88 529.97L390.74 529.80L391.60 529.66L392.46 529.54L393.32 529.45L394.18 529.39L395.04 529.37L395.90 529.38L396.76 529.44L397.62 529.54L398.48 529.69L399.34 529.90L400.20 530.16L401.06 530.48L401.91 530.85L402.77 531.27L403.63 531.72L404.49 532.21L405.35 532.69L406.21 533.14L407.07 533.55L407.93 533.90L408.79 534.18L409.65 534.38L410.51 534.51L411.37 534.58L412.23 534.60L413.09 534.59L413.95 534.55L414.81 534.51L415.67 534.47L416.53 534.42L417.39 534.38L418.25 534.35L419.10 534.32L419.96 534.29L420.82 534.27L421.68 534.24L422.54 534.21L423.40 534.17L424.26 534.11L425.12 534.04L425.98 533.94L426.84 533.82L427.70 533.64L428.56 533.42L429.42 533.15L430.28 532.82L431.14 532.44L432.00 531.99L432.86 531.49L433.72 530.94L434.58 530.34L435.44 529.69L436.29 529.00L437.15 528.27L438.01 527.51L438.87 526.72L439.73 525.91L440.59 525.07L441.45 524.22L442.31 523.36L443.17 522.50L444.03 521.63L444.89 520.76L445.75 519.88L446.61 518.99L447.47 518.09L448.33 517.18L449.19 516.25L450.05 515.31L450.91 514.35L451.77 513.36L452.62 512.34L453.48 511.29L454.34 510.22L455.20 509.13L456.06 508.03L456.92 506.93L457.78 505.83L458.64 504.74L459.50 503.68L460.36 502.65L461.22 501.64L462.08 500.66L462.94 499.70L463.80 498.75L464.66 497.80L465.52 496.84L466.38 495.87L467.24 494.87L468.10 493.84L468.96 492.79L469.81 491.72L470.67 490.62L471.53 489.50L472.39 488.37L473.25 487.23L474.11 486.08L474.97 484.92L475.83 483.76L476.69 482.60L477.55 481.45L478.41 480.31L479.27 479.18L480.13 478.07L480.99 476.97L481.85 475.88L482.71 474.81L483.57 473.76L484.43 472.72L485.29 471.70L486.15 470.69L487.00 469.69L487.86 468.71L488.72 467.75L489.58 466.80L490.44 465.86L491.30 464.94L492.16 464.03L493.02 463.14L493.88 462.26L494.74 461.39L495.60 460.53L496.46 459.69L497.32 458.86L498.18 458.04L499.04 457.23L499.90 456.44L500.76 455.66L501.62 454.90L502.48 454.14L503.34 453.40L504.19 452.68L505.05 451.96L505.91 451.27L506.77 450.58L507.63 449.91L508.49 449.25L509.35 448.61L510.21 447.98L511.07 447.36L511.93 446.76L512.79 446.18L513.65 445.60L514.51 445.04L515.37 444.50L516.23 443.97L517.09 443.45L517.95 442.95L518.81 442.46L519.67 441.98L520.53 441.52L521.38 441.07L522.24 440.63L523.10 440.21L523.96 439.80L524.82 439.41L525.68 439.02L526.54 438.65L527.40 438.30L528.26 437.95L529.12 437.62L529.98 437.30L530.84 436.99L531.70 436.69L532.56 436.41L533.42 436.13L534.28 435.87L535.14 435.62L536.00 435.38L536.86 435.14L537.72 434.92L538.58 434.71L539.43 434.51L540.29 434.32L541.15 434.14L542.01 433.97L542.87 433.81L543.73 433.65L544.59 433.51L545.45 433.37L546.31 433.24L547.17 433.12L548.03 433.00L548.89 432.89L549.75 432.79L550.61 432.70L551.47 432.61L552.33 432.52L553.19 432.44L554.05 432.37L554.91 432.30L555.76 432.24L556.62 432.18L557.48 432.12L558.34 432.06L559.20 432.01L560.06 431.96L560.92 431.91L561.78 431.87L562.64 431.82L563.50 431.78L564.36 431.73" stroke="#ff0000" stroke-width="1.05"/>
<path d="M323.70 534.60L324.56 534.54L325.42 534.37L326.28 534.08L327.14 533.68L328.00 533.16L328.86 532.52L329.72 531.78L330.58 530.97L331.44 530.12L332.30 529.28L333.15 528.48L334.01 527.74L334.87 527.05L335.73 526.39L336.59 525.74L337.45 525.07L338.31 524.40L339.17 523.74L340.03 523.12L340.89 522.56L341.75 522.07L342.61 521.67L343.47 521.32L344.33 521.04L345.19 520.79L346.05 520.57L346.91 520.40L347.77 520.27L348.63 520.21L349.49 520.22L350.34 520.31L351.20 520.49L352.06 520.74L352.92 521.08L353.78 521.49L354.64 521.98L355.50 522.52L356.36 523.10L357.22 523.71L358.08 524.33L358.94 524.95L359.80 525.58L360.66 526.22L361.52 526.88L362.38 527.57L363.24 528.28L364.10 529.02L364.96 529.74L365.82 530.44L366.68 531.09L367.53 531.68L368.39 532.22L369.25 532.72L370.11 533.20L370.97 533.65L371.83 534.05L372.69 534.36L373.55 534.54L374.41 534.60L375.27 534.56L376.13 534.44L376.99 534.29L377.85 534.12L378.71 533.94L379.57 533.76L380.43 533.60L381.29 533.44L382.15 533.30L383.01 533.16L383.87 533.03L384.72 532.90L385.58 532.78L386.44 532.66L387.30 532.55L388.16 532.44L389.02 532.34L389.88 532.25L390.74 532.17L391.60 532.11L392.46 532.05L393.32 532.02L394.18 531.99L395.04 531.98L395.90 531.99L396.76 532.02L397.62 532.07L398.48 532.15L399.34 532.25L400.20 532.38L401.06 532.54L401.91 532.72L402.77 532.93L403.63 533.16L404.49 533.40L405.35 533.65L406.21 533.88L407.07 534.08L407.93 534.26L408.79 534.39L409.65 534.49L410.51 534.56L411.37 534.59L412.23 534.60L413.09 534.59L413.95 534.58L414.81 534.56L415.67 534.54L416.53 534.53L417.39 534.52L418.25 534.51L419.10 534.50L419.96 534.50L420.82 534.49L421.68 534.48L422.54 534.48L423.40 534.47L424.26 534.45L425.12 534.42L425.98 534.39L426.84 534.34L427.70 534.27L428.56 534.17L429.42 534.05L430.28 533.91L431.14 533.73L432.00 533.52L432.86 533.29L433.72 533.03L434.58 532.75L435.44 532.45L436.29 532.13L437.15 531.80L438.01 531.45L438.87 531.08L439.73 530.71L440.59 530.32L441.45 529.93L442.31 529.53L443.17 529.13L444.03 528.72L444.89 528.30L445.75 527.88L446.61 527.45L447.47 527.01L448.33 526.55L449.19 526.08L450.05 525.60L450.91 525.10L451.77 524.57L452.62 524.02L453.48 523.45L454.34 522.86L455.20 522.25L456.06 521.63L456.92 521.00L457.78 520.38L458.64 519.77L459.50 519.18L460.36 518.61L461.22 518.06L462.08 517.54L462.94 517.03L463.80 516.53L464.66 516.04L465.52 515.54L466.38 515.04L467.24 514.53L468.10 513.99L468.96 513.44L469.81 512.88L470.67 512.29L471.53 511.69L472.39 511.07L473.25 510.44L474.11 509.79L474.97 509.12L475.83 508.44L476.69 507.75L477.55 507.03L478.41 506.31L479.27 505.57L480.13 504.82L480.99 504.06L481.85 503.28L482.71 502.50L483.57 501.70L484.43 500.89L485.29 500.07L486.15 499.25L487.00 498.41L487.86 497.57L488.72 496.71L489.58 495.86L490.44 494.99L491.30 494.12L492.16 493.25L493.02 492.37L493.88 491.49L494.74 490.61L495.60 489.73L496.46 488.85L497.32 487.97L498.18 487.09L499.04 486.21L499.90 485.34L500.76 484.46L501.62 483.59L502.48 482.72L503.34 481.86L504.19 481.00L505.05 480.14L505.91 479.29L506.77 478.44L507.63 477.60L508.49 476.77L509.35 475.94L510.21 475.12L511.07 474.31L511.93 473.50L512.79 472.71L513.65 471.92L514.51 471.14L515.37 470.37L516.23 469.60L517.09 468.85L517.95 468.10L518.81 467.35L519.67 466.62L520.53 465.88L521.38 465.16L522.24 464.44L523.10 463.72L523.96 463.01L524.82 462.30L525.68 461.59L526.54 460.89L527.40 460.19L528.26 459.49L529.12 458.79L529.98 458.09L530.84 457.39L531.70 456.68L532.56 455.98L533.42 455.28L534.28 454.58L535.14 453.88L536.00 453.19L536.86 452.49L537.72 451.79L538.58 451.10L539.43 450.41L540.29 449.72L541.15 449.03L542.01 448.34L542.87 447.66L543.73 446.98L544.59 446.31L545.45 445.64L546.31 444.97L547.17 444.30L548.03 443.65L548.89 442.99L549.75 442.34L550.61 441.69L551.47 441.05L552.33 440.41L553.19 439.77L554.05 439.14L554.91 438.51L555.76 437.88L556.62 437.25L557.48 436.62L558.34 435.99L559.20 435.37L560.06 434.74L560.92 434.11L561.78 433.49L562.64 432.86L563.50 432.23L564.36 431.60" stroke="#ff0000" stroke-width="1.05" stroke-dasharray="7 3.6"/>
<path d="M323.70 534.60L324.56 534.60L325.42 534.60L326.28 534.60L327.14 534.60L328.00 534.60L328.86 534.60L329.72 534.60L330.58 534.60L331.44 534.60L332.30 534.60L333.15 534.60L334.01 534.60L334.87 534.60L335.73 534.60L336.59 534.60L337.45 534.60L338.31 534.60L339.17 534.60L340.03 534.60L340.89 534.58L341.75 534.53L342.61 534.44L343.47 534.31L344.33 534.13L345.19 533.93L346.05 533.71L346.91 533.47L347.77 533.22L348.63 532.96L349.49 532.68L350.34 532.38L351.20 532.06L352.06 531.70L352.92 531.29L353.78 530.83L354.64 530.30L355.50 529.69L356.36 529.00L357.22 528.23L358.08 527.39L358.94 526.47L359.80 525.49L360.66 524.45L361.52 523.36L362.38 522.23L363.24 521.08L364.10 519.92L364.96 518.74L365.82 517.57L366.68 516.42L367.53 515.29L368.39 514.19L369.25 513.14L370.11 512.15L370.97 511.22L371.83 510.34L372.69 509.53L373.55 508.79L374.41 508.11L375.27 507.51L376.13 506.98L376.99 506.55L377.85 506.21L378.71 505.97L379.57 505.84L380.43 505.83L381.29 505.93L382.15 506.13L383.01 506.45L383.87 506.87L384.72 507.38L385.58 507.99L386.44 508.68L387.30 509.45L388.16 510.30L389.02 511.23L389.88 512.25L390.74 513.35L391.60 514.53L392.46 515.78L393.32 517.09L394.18 518.45L395.04 519.84L395.90 521.24L396.76 522.63L397.62 524.00L398.48 525.34L399.34 526.64L400.20 527.91L401.06 529.15L401.91 530.35L402.77 531.49L403.63 532.48L404.49 533.25L405.35 533.78L406.21 534.11L407.07 534.32L407.93 534.44L408.79 534.51L409.65 534.56L410.51 534.59L411.37 534.60L412.23 534.59L413.09 534.53L413.95 534.43L414.81 534.27L415.67 534.04L416.53 533.73L417.39 533.35L418.25 532.90L419.10 532.36L419.96 531.76L420.82 531.06L421.68 530.25L422.54 529.31L423.40 528.25L424.26 527.08L425.12 525.82L425.98 524.53L426.84 523.23L427.70 521.93L428.56 520.61L429.42 519.28L430.28 517.94L431.14 516.59L432.00 515.25L432.86 513.93L433.72 512.65L434.58 511.40L435.44 510.20L436.29 509.05L437.15 507.97L438.01 506.94L438.87 505.95L439.73 504.98L440.59 504.02L441.45 503.05L442.31 502.10L443.17 501.17L444.03 500.26L444.89 499.40L445.75 498.59L446.61 497.83L447.47 497.12L448.33 496.44L449.19 495.79L450.05 495.17L450.91 494.57L451.77 493.99L452.62 493.43L453.48 492.89L454.34 492.37L455.20 491.88L456.06 491.41L456.92 490.96L457.78 490.54L458.64 490.14L459.50 489.76L460.36 489.41L461.22 489.08L462.08 488.78L462.94 488.50L463.80 488.25L464.66 488.02L465.52 487.82L466.38 487.64L467.24 487.49L468.10 487.36L468.96 487.26L469.81 487.19L470.67 487.13L471.53 487.11L472.39 487.10L473.25 487.13L474.11 487.17L474.97 487.25L475.83 487.35L476.69 487.48L477.55 487.63L478.41 487.81L479.27 488.02L480.13 488.26L480.99 488.52L481.85 488.80L482.71 489.11L483.57 489.44L484.43 489.79L485.29 490.15L486.15 490.54L487.00 490.94L487.86 491.35L488.72 491.78L489.58 492.21L490.44 492.66L491.30 493.12L492.16 493.59L493.02 494.06L493.88 494.54L494.74 495.03L495.60 495.51L496.46 496.00L497.32 496.50L498.18 496.99L499.04 497.48L499.90 497.98L500.76 498.47L501.62 498.97L502.48 499.46L503.34 499.95L504.19 500.45L505.05 500.94L505.91 501.43L506.77 501.91L507.63 502.40L508.49 502.88L509.35 503.35L510.21 503.83L511.07 504.30L511.93 504.77L512.79 505.23L513.65 505.69L514.51 506.14L515.37 506.59L516.23 507.04L517.09 507.48L517.95 507.92L518.81 508.35L519.67 508.79L520.53 509.21L521.38 509.64L522.24 510.06L523.10 510.48L523.96 510.90L524.82 511.31L525.68 511.73L526.54 512.14L527.40 512.54L528.26 512.95L529.12 513.35L529.98 513.75L530.84 514.15L531.70 514.55L532.56 514.94L533.42 515.34L534.28 515.72L535.14 516.11L536.00 516.49L536.86 516.86L537.72 517.23L538.58 517.60L539.43 517.96L540.29 518.31L541.15 518.66L542.01 519.00L542.87 519.34L543.73 519.67L544.59 519.99L545.45 520.31L546.31 520.61L547.17 520.91L548.03 521.21L548.89 521.49L549.75 521.77L550.61 522.04L551.47 522.31L552.33 522.57L553.19 522.82L554.05 523.07L554.91 523.31L555.76 523.55L556.62 523.79L557.48 524.02L558.34 524.24L559.20 524.47L560.06 524.69L560.92 524.90L561.78 525.11L562.64 525.32L563.50 525.53L564.36 525.73" stroke="#00c000" stroke-width="1.05"/>
<path d="M323.70 534.60L324.56 534.60L325.42 534.60L326.28 534.60L327.14 534.60L328.00 534.60L328.86 534.60L329.72 534.60L330.58 534.60L331.44 534.60L332.30 534.60L333.15 534.60L334.01 534.60L334.87 534.60L335.73 534.60L336.59 534.60L337.45 534.60L338.31 534.59L339.17 534.58L340.03 534.54L340.89 534.47L341.75 534.38L342.61 534.26L343.47 534.12L344.33 533.98L345.19 533.83L346.05 533.67L346.91 533.50L347.77 533.32L348.63 533.13L349.49 532.92L350.34 532.68L351.20 532.42L352.06 532.11L352.92 531.76L353.78 531.35L354.64 530.90L355.50 530.40L356.36 529.85L357.22 529.26L358.08 528.63L358.94 527.96L359.80 527.27L360.66 526.56L361.52 525.83L362.38 525.10L363.24 524.36L364.10 523.63L364.96 522.91L365.82 522.21L366.68 521.53L367.53 520.89L368.39 520.28L369.25 519.71L370.11 519.17L370.97 518.68L371.83 518.23L372.69 517.83L373.55 517.47L374.41 517.17L375.27 516.92L376.13 516.73L376.99 516.61L377.85 516.55L378.71 516.56L379.57 516.63L380.43 516.77L381.29 516.97L382.15 517.22L383.01 517.53L383.87 517.89L384.72 518.30L385.58 518.75L386.44 519.24L387.30 519.78L388.16 520.36L389.02 520.99L389.88 521.66L390.74 522.38L391.60 523.13L392.46 523.92L393.32 524.72L394.18 525.54L395.04 526.37L395.90 527.19L396.76 527.99L397.62 528.78L398.48 529.54L399.34 530.29L400.20 531.03L401.06 531.74L401.91 532.43L402.77 533.05L403.63 533.56L404.49 533.94L405.35 534.19L406.21 534.35L407.07 534.45L407.93 534.51L408.79 534.55L409.65 534.58L410.51 534.59L411.37 534.60L412.23 534.59L413.09 534.56L413.95 534.50L414.81 534.40L415.67 534.25L416.53 534.06L417.39 533.83L418.25 533.54L419.10 533.20L419.96 532.82L420.82 532.38L421.68 531.87L422.54 531.28L423.40 530.62L424.26 529.89L425.12 529.09L425.98 528.24L426.84 527.36L427.70 526.45L428.56 525.54L429.42 524.65L430.28 523.77L431.14 522.92L432.00 522.08L432.86 521.26L433.72 520.45L434.58 519.66L435.44 518.88L436.29 518.13L437.15 517.42L438.01 516.72L438.87 516.04L439.73 515.36L440.59 514.67L441.45 513.97L442.31 513.26L443.17 512.54L444.03 511.82L444.89 511.09L445.75 510.37L446.61 509.64L447.47 508.93L448.33 508.22L449.19 507.51L450.05 506.81L450.91 506.12L451.77 505.43L452.62 504.75L453.48 504.07L454.34 503.40L455.20 502.73L456.06 502.06L456.92 501.39L457.78 500.73L458.64 500.07L459.50 499.41L460.36 498.76L461.22 498.12L462.08 497.48L462.94 496.85L463.80 496.22L464.66 495.61L465.52 495.01L466.38 494.41L467.24 493.83L468.10 493.26L468.96 492.69L469.81 492.14L470.67 491.60L471.53 491.07L472.39 490.56L473.25 490.05L474.11 489.56L474.97 489.08L475.83 488.61L476.69 488.15L477.55 487.71L478.41 487.28L479.27 486.86L480.13 486.46L480.99 486.07L481.85 485.70L482.71 485.33L483.57 484.99L484.43 484.65L485.29 484.33L486.15 484.02L487.00 483.73L487.86 483.45L488.72 483.19L489.58 482.94L490.44 482.70L491.30 482.48L492.16 482.27L493.02 482.07L493.88 481.89L494.74 481.72L495.60 481.57L496.46 481.43L497.32 481.31L498.18 481.19L499.04 481.10L499.90 481.02L500.76 480.95L501.62 480.90L502.48 480.86L503.34 480.84L504.19 480.84L505.05 480.85L505.91 480.88L506.77 480.92L507.63 480.97L508.49 481.05L509.35 481.13L510.21 481.23L511.07 481.33L511.93 481.45L512.79 481.58L513.65 481.73L514.51 481.88L515.37 482.04L516.23 482.21L517.09 482.38L517.95 482.57L518.81 482.77L519.67 482.97L520.53 483.18L521.38 483.40L522.24 483.62L523.10 483.85L523.96 484.09L524.82 484.33L525.68 484.58L526.54 484.83L527.40 485.09L528.26 485.35L529.12 485.61L529.98 485.88L530.84 486.16L531.70 486.43L532.56 486.71L533.42 486.99L534.28 487.28L535.14 487.57L536.00 487.86L536.86 488.16L537.72 488.46L538.58 488.77L539.43 489.07L540.29 489.38L541.15 489.70L542.01 490.02L542.87 490.34L543.73 490.67L544.59 491.00L545.45 491.33L546.31 491.67L547.17 492.01L548.03 492.36L548.89 492.71L549.75 493.06L550.61 493.41L551.47 493.77L552.33 494.13L553.19 494.49L554.05 494.86L554.91 495.22L555.76 495.59L556.62 495.96L557.48 496.32L558.34 496.69L559.20 497.06L560.06 497.42L560.92 497.79L561.78 498.16L562.64 498.52L563.50 498.88L564.36 499.25" stroke="#00c000" stroke-width="1.05" stroke-dasharray="1.8 1.8"/>
<path d="M323.70 534.60L324.56 534.60L325.42 534.60L326.28 534.60L327.14 534.60L328.00 534.60L328.86 534.60L329.72 534.60L330.58 534.60L331.44 534.60L332.30 534.60L333.15 534.60L334.01 534.60L334.87 534.60L335.73 534.60L336.59 534.60L337.45 534.60L338.31 534.60L339.17 534.60L340.03 534.60L340.89 534.60L341.75 534.60L342.61 534.60L343.47 534.60L344.33 534.60L345.19 534.60L346.05 534.60L346.91 534.60L347.77 534.60L348.63 534.60L349.49 534.60L350.34 534.60L351.20 534.60L352.06 534.60L352.92 534.60L353.78 534.60L354.64 534.60L355.50 534.60L356.36 534.60L357.22 534.60L358.08 534.60L358.94 534.60L359.80 534.60L360.66 534.60L361.52 534.60L362.38 534.60L363.24 534.60L364.10 534.60L364.96 534.60L365.82 534.60L366.68 534.60L367.53 534.60L368.39 534.59L369.25 534.58L370.11 534.53L370.97 534.44L371.83 534.30L372.69 534.11L373.55 533.85L374.41 533.53L375.27 533.16L376.13 532.76L376.99 532.32L377.85 531.86L378.71 531.38L379.57 530.88L380.43 530.35L381.29 529.81L382.15 529.25L383.01 528.67L383.87 528.06L384.72 527.43L385.58 526.77L386.44 526.09L387.30 525.39L388.16 524.67L389.02 523.92L389.88 523.15L390.74 522.37L391.60 521.56L392.46 520.74L393.32 519.89L394.18 519.04L395.04 518.18L395.90 517.31L396.76 516.44L397.62 515.59L398.48 514.74L399.34 513.92L400.20 513.13L401.06 512.36L401.91 511.64L402.77 510.96L403.63 510.32L404.49 509.71L405.35 509.15L406.21 508.62L407.07 508.14L407.93 507.68L408.79 507.26L409.65 506.87L410.51 506.51L411.37 506.18L412.23 505.88L413.09 505.60L413.95 505.36L414.81 505.14L415.67 504.95L416.53 504.78L417.39 504.64L418.25 504.52L419.10 504.42L419.96 504.36L420.82 504.35L421.68 504.39L422.54 504.49L423.40 504.65L424.26 504.84L425.12 505.07L425.98 505.31L426.84 505.56L427.70 505.80L428.56 506.04L429.42 506.26L430.28 506.48L431.14 506.69L432.00 506.90L432.86 507.10L433.72 507.29L434.58 507.48L435.44 507.66L436.29 507.83L437.15 508.00L438.01 508.16L438.87 508.32L439.73 508.48L440.59 508.63L441.45 508.78L442.31 508.93L443.17 509.08L444.03 509.22L444.89 509.37L445.75 509.52L446.61 509.66L447.47 509.81L448.33 509.96L449.19 510.12L450.05 510.27L450.91 510.43L451.77 510.60L452.62 510.77L453.48 510.95L454.34 511.13L455.20 511.32L456.06 511.52L456.92 511.72L457.78 511.94L458.64 512.16L459.50 512.39L460.36 512.63L461.22 512.89L462.08 513.15L462.94 513.42L463.80 513.71L464.66 514.00L465.52 514.30L466.38 514.60L467.24 514.92L468.10 515.23L468.96 515.56L469.81 515.89L470.67 516.22L471.53 516.55L472.39 516.89L473.25 517.23L474.11 517.56L474.97 517.90L475.83 518.24L476.69 518.58L477.55 518.92L478.41 519.25L479.27 519.59L480.13 519.92L480.99 520.25L481.85 520.57L482.71 520.89L483.57 521.21L484.43 521.53L485.29 521.84L486.15 522.15L487.00 522.45L487.86 522.75L488.72 523.04L489.58 523.34L490.44 523.62L491.30 523.90L492.16 524.18L493.02 524.45L493.88 524.72L494.74 524.98L495.60 525.24L496.46 525.49L497.32 525.73L498.18 525.97L499.04 526.21L499.90 526.44L500.76 526.67L501.62 526.89L502.48 527.11L503.34 527.32L504.19 527.53L505.05 527.73L505.91 527.93L506.77 528.12L507.63 528.31L508.49 528.50L509.35 528.68L510.21 528.86L511.07 529.03L511.93 529.20L512.79 529.37L513.65 529.53L514.51 529.69L515.37 529.85L516.23 530.00L517.09 530.15L517.95 530.29L518.81 530.43L519.67 530.57L520.53 530.71L521.38 530.84L522.24 530.97L523.10 531.09L523.96 531.22L524.82 531.34L525.68 531.46L526.54 531.57L527.40 531.68L528.26 531.80L529.12 531.90L529.98 532.01L530.84 532.11L531.70 532.21L532.56 532.31L533.42 532.40L534.28 532.50L535.14 532.59L536.00 532.67L536.86 532.76L537.72 532.84L538.58 532.92L539.43 532.99L540.29 533.06L541.15 533.13L542.01 533.20L542.87 533.26L543.73 533.32L544.59 533.37L545.45 533.43L546.31 533.48L547.17 533.52L548.03 533.57L548.89 533.61L549.75 533.65L550.61 533.69L551.47 533.72L552.33 533.76L553.19 533.79L554.05 533.82L554.91 533.85L555.76 533.87L556.62 533.90L557.48 533.92L558.34 533.94L559.20 533.97L560.06 533.99L560.92 534.01L561.78 534.03L562.64 534.05L563.50 534.07L564.36 534.09" stroke="#0000ff" stroke-width="1.05" stroke-dasharray="7 3.6"/>
<path d="M323.70 534.60L324.56 534.60L325.42 534.60L326.28 534.60L327.14 534.60L328.00 534.60L328.86 534.60L329.72 534.60L330.58 534.60L331.44 534.60L332.30 534.60L333.15 534.60L334.01 534.60L334.87 534.60L335.73 534.60L336.59 534.60L337.45 534.60L338.31 534.60L339.17 534.60L340.03 534.60L340.89 534.60L341.75 534.60L342.61 534.60L343.47 534.60L344.33 534.60L345.19 534.60L346.05 534.60L346.91 534.60L347.77 534.60L348.63 534.60L349.49 534.60L350.34 534.60L351.20 534.60L352.06 534.60L352.92 534.60L353.78 534.60L354.64 534.60L355.50 534.60L356.36 534.60L357.22 534.60L358.08 534.60L358.94 534.60L359.80 534.60L360.66 534.60L361.52 534.60L362.38 534.60L363.24 534.60L364.10 534.60L364.96 534.60L365.82 534.60L366.68 534.60L367.53 534.60L368.39 534.60L369.25 534.60L370.11 534.60L370.97 534.60L371.83 534.60L372.69 534.60L373.55 534.60L374.41 534.60L375.27 534.60L376.13 534.60L376.99 534.60L377.85 534.60L378.71 534.60L379.57 534.60L380.43 534.60L381.29 534.60L382.15 534.58L383.01 534.54L383.87 534.43L384.72 534.28L385.58 534.08L386.44 533.87L387.30 533.66L388.16 533.46L389.02 533.26L389.88 533.06L390.74 532.83L391.60 532.57L392.46 532.25L393.32 531.85L394.18 531.38L395.04 530.84L395.90 530.24L396.76 529.62L397.62 528.98L398.48 528.36L399.34 527.74L400.20 527.12L401.06 526.49L401.91 525.83L402.77 525.13L403.63 524.41L404.49 523.66L405.35 522.90L406.21 522.11L407.07 521.32L407.93 520.51L408.79 519.71L409.65 518.90L410.51 518.11L411.37 517.33L412.23 516.57L413.09 515.82L413.95 515.09L414.81 514.39L415.67 513.71L416.53 513.06L417.39 512.43L418.25 511.84L419.10 511.28L419.96 510.75L420.82 510.26L421.68 509.78L422.54 509.34L423.40 508.92L424.26 508.51L425.12 508.13L425.98 507.75L426.84 507.39L427.70 507.04L428.56 506.70L429.42 506.37L430.28 506.05L431.14 505.75L432.00 505.46L432.86 505.19L433.72 504.94L434.58 504.72L435.44 504.52L436.29 504.34L437.15 504.19L438.01 504.06L438.87 503.95L439.73 503.86L440.59 503.80L441.45 503.76L442.31 503.73L443.17 503.72L444.03 503.73L444.89 503.76L445.75 503.80L446.61 503.85L447.47 503.92L448.33 504.01L449.19 504.11L450.05 504.23L450.91 504.36L451.77 504.51L452.62 504.67L453.48 504.85L454.34 505.04L455.20 505.25L456.06 505.48L456.92 505.72L457.78 505.97L458.64 506.24L459.50 506.52L460.36 506.82L461.22 507.13L462.08 507.46L462.94 507.80L463.80 508.15L464.66 508.51L465.52 508.88L466.38 509.26L467.24 509.65L468.10 510.04L468.96 510.45L469.81 510.86L470.67 511.27L471.53 511.69L472.39 512.11L473.25 512.54L474.11 512.96L474.97 513.39L475.83 513.82L476.69 514.24L477.55 514.67L478.41 515.09L479.27 515.52L480.13 515.94L480.99 516.35L481.85 516.77L482.71 517.18L483.57 517.58L484.43 517.99L485.29 518.38L486.15 518.78L487.00 519.17L487.86 519.55L488.72 519.93L489.58 520.31L490.44 520.68L491.30 521.04L492.16 521.40L493.02 521.75L493.88 522.10L494.74 522.44L495.60 522.77L496.46 523.10L497.32 523.42L498.18 523.73L499.04 524.04L499.90 524.35L500.76 524.64L501.62 524.93L502.48 525.22L503.34 525.50L504.19 525.77L505.05 526.04L505.91 526.30L506.77 526.56L507.63 526.81L508.49 527.06L509.35 527.30L510.21 527.53L511.07 527.76L511.93 527.99L512.79 528.20L513.65 528.42L514.51 528.63L515.37 528.83L516.23 529.03L517.09 529.22L517.95 529.41L518.81 529.60L519.67 529.78L520.53 529.95L521.38 530.12L522.24 530.28L523.10 530.44L523.96 530.60L524.82 530.75L525.68 530.90L526.54 531.04L527.40 531.17L528.26 531.31L529.12 531.43L529.98 531.56L530.84 531.68L531.70 531.79L532.56 531.90L533.42 532.01L534.28 532.12L535.14 532.22L536.00 532.31L536.86 532.41L537.72 532.50L538.58 532.58L539.43 532.67L540.29 532.75L541.15 532.82L542.01 532.90L542.87 532.97L543.73 533.04L544.59 533.10L545.45 533.16L546.31 533.22L547.17 533.28L548.03 533.34L548.89 533.39L549.75 533.44L550.61 533.49L551.47 533.54L552.33 533.59L553.19 533.63L554.05 533.67L554.91 533.71L555.76 533.75L556.62 533.79L557.48 533.83L558.34 533.86L559.20 533.90L560.06 533.93L560.92 533.96L561.78 533.99L562.64 534.02L563.50 534.05L564.36 534.08" stroke="#0000ff" stroke-width="1.05" stroke-dasharray="10.6 3.2 2 3.2"/>
<path d="M428.73 534.60V429.96" stroke="#000" stroke-width="2.2" stroke-dasharray="6.7 3.63"/>
</g></g>
<g fill="none" stroke-linejoin="round">
<clipPath id="c5"><rect x="564.55" y="270.00" width="240.35" height="264.60"/></clipPath>
<g clip-path="url(#c5)">
<path d="M564.55 534.60L565.41 533.95L566.27 533.21L567.13 532.30L567.99 531.13L568.85 529.61L569.71 527.69L570.57 525.42L571.43 522.89L572.29 520.18L573.14 517.38L574.00 514.56L574.86 511.73L575.72 508.88L576.58 506.02L577.44 503.13L578.30 500.22L579.16 497.35L580.02 494.58L580.88 491.97L581.74 489.59L582.60 487.47L583.46 485.61L584.32 483.96L585.18 482.49L586.04 481.16L586.90 479.93L587.76 478.82L588.62 477.83L589.48 476.97L590.33 476.26L591.19 475.72L592.05 475.35L592.91 475.17L593.77 475.22L594.63 475.48L595.49 475.95L596.35 476.56L597.21 477.28L598.07 478.07L598.93 478.88L599.79 479.68L600.65 480.46L601.51 481.20L602.37 481.91L603.23 482.56L604.09 483.16L604.95 483.70L605.81 484.16L606.67 484.55L607.52 484.85L608.38 485.06L609.24 485.16L610.10 485.16L610.96 485.04L611.82 484.81L612.68 484.50L613.54 484.10L614.40 483.63L615.26 483.11L616.12 482.54L616.98 481.94L617.84 481.32L618.70 480.69L619.56 480.04L620.42 479.41L621.28 478.78L622.14 478.18L623.00 477.60L623.86 477.06L624.71 476.57L625.57 476.13L626.43 475.76L627.29 475.46L628.15 475.24L629.01 475.12L629.87 475.09L630.73 475.16L631.59 475.33L632.45 475.57L633.31 475.87L634.17 476.22L635.03 476.60L635.89 477.01L636.75 477.43L637.61 477.85L638.47 478.27L639.33 478.67L640.19 479.04L641.05 479.38L641.90 479.66L642.76 479.89L643.62 480.05L644.48 480.14L645.34 480.14L646.20 480.06L647.06 479.87L647.92 479.58L648.78 479.19L649.64 478.70L650.50 478.09L651.36 477.38L652.22 476.56L653.08 475.62L653.94 474.58L654.80 473.43L655.66 472.17L656.52 470.80L657.38 469.32L658.24 467.73L659.09 466.04L659.95 464.23L660.81 462.32L661.67 460.31L662.53 458.20L663.39 456.02L664.25 453.77L665.11 451.46L665.97 449.12L666.83 446.76L667.69 444.38L668.55 442.00L669.41 439.62L670.27 437.23L671.13 434.83L671.99 432.41L672.85 429.96L673.71 427.48L674.57 424.98L675.43 422.46L676.28 419.94L677.14 417.41L678.00 414.89L678.86 412.39L679.72 409.90L680.58 407.43L681.44 404.96L682.30 402.51L683.16 400.07L684.02 397.64L684.88 395.22L685.74 392.81L686.60 390.41L687.46 388.02L688.32 385.63L689.18 383.24L690.04 380.86L690.90 378.49L691.76 376.12L692.62 373.75L693.47 371.39L694.33 369.05L695.19 366.71L696.05 364.39L696.91 362.09L697.77 359.81L698.63 357.55L699.49 355.32L700.35 353.11L701.21 350.94L702.07 348.80L702.93 346.69L703.79 344.62L704.65 342.58L705.51 340.59L706.37 338.63L707.23 336.72L708.09 334.84L708.95 333.00L709.81 331.20L710.66 329.45L711.52 327.73L712.38 326.05L713.24 324.40L714.10 322.80L714.96 321.23L715.82 319.70L716.68 318.21L717.54 316.75L718.40 315.33L719.26 313.94L720.12 312.59L720.98 311.27L721.84 309.98L722.70 308.73L723.56 307.51L724.42 306.33L725.28 305.18L726.14 304.06L727.00 302.98L727.86 301.93L728.71 300.91L729.57 299.93L730.43 298.98L731.29 298.06L732.15 297.18L733.01 296.32L733.87 295.50L734.73 294.70L735.59 293.93L736.45 293.19L737.31 292.48L738.17 291.79L739.03 291.13L739.89 290.49L740.75 289.88L741.61 289.29L742.47 288.72L743.33 288.17L744.19 287.64L745.04 287.14L745.90 286.65L746.76 286.18L747.62 285.73L748.48 285.29L749.34 284.88L750.20 284.48L751.06 284.09L751.92 283.73L752.78 283.38L753.64 283.05L754.50 282.73L755.36 282.43L756.22 282.14L757.08 281.87L757.94 281.61L758.80 281.37L759.66 281.13L760.52 280.91L761.38 280.70L762.23 280.50L763.09 280.30L763.95 280.12L764.81 279.94L765.67 279.78L766.53 279.62L767.39 279.47L768.25 279.32L769.11 279.18L769.97 279.05L770.83 278.93L771.69 278.81L772.55 278.70L773.41 278.59L774.27 278.49L775.13 278.40L775.99 278.31L776.85 278.23L777.71 278.15L778.57 278.08L779.42 278.02L780.28 277.97L781.14 277.92L782.00 277.87L782.86 277.84L783.72 277.80L784.58 277.78L785.44 277.76L786.30 277.74L787.16 277.73L788.02 277.73L788.88 277.73L789.74 277.73L790.60 277.74L791.46 277.75L792.32 277.77L793.18 277.79L794.04 277.81L794.90 277.84L795.76 277.86L796.62 277.90L797.47 277.93L798.33 277.97L799.19 278.00L800.05 278.04L800.91 278.09L801.77 278.13L802.63 278.17L803.49 278.22L804.35 278.26L805.21 278.31" stroke="#ff00ff" stroke-width="2.1"/>
<path d="M564.55 534.60L565.41 534.45L566.27 534.00L567.13 533.25L567.99 532.20L568.85 530.83L569.71 529.16L570.57 527.23L571.43 525.10L572.29 522.87L573.14 520.66L574.00 518.58L574.86 516.65L575.72 514.84L576.58 513.11L577.44 511.40L578.30 509.64L579.16 507.88L580.02 506.16L580.88 504.54L581.74 503.07L582.60 501.81L583.46 500.74L584.32 499.84L585.18 499.08L586.04 498.44L586.90 497.87L587.76 497.41L588.62 497.09L589.48 496.92L590.33 496.95L591.19 497.20L592.05 497.65L592.91 498.32L593.77 499.20L594.63 500.28L595.49 501.55L596.35 502.97L597.21 504.49L598.07 506.08L598.93 507.70L599.79 509.33L600.65 510.98L601.51 512.66L602.37 514.40L603.23 516.20L604.09 518.06L604.95 519.98L605.81 521.89L606.67 523.71L607.52 525.41L608.38 526.95L609.24 528.35L610.10 529.67L610.96 530.92L611.82 532.11L612.68 533.18L613.54 533.98L614.40 534.46L615.26 534.60L616.12 534.49L616.98 534.22L617.84 533.87L618.70 533.49L619.56 533.11L620.42 532.75L621.28 532.43L622.14 532.15L623.00 531.90L623.86 531.67L624.71 531.46L625.57 531.25L626.43 531.03L627.29 530.82L628.15 530.61L629.01 530.41L629.87 530.22L630.73 530.04L631.59 529.87L632.45 529.73L633.31 529.60L634.17 529.50L635.03 529.42L635.89 529.38L636.75 529.37L637.61 529.39L638.47 529.45L639.33 529.56L640.19 529.71L641.05 529.92L641.90 530.18L642.76 530.50L643.62 530.86L644.48 531.27L645.34 531.72L646.20 532.20L647.06 532.67L647.92 533.13L648.78 533.53L649.64 533.88L650.50 534.16L651.36 534.37L652.22 534.51L653.08 534.58L653.94 534.60L654.80 534.58L655.66 534.54L656.52 534.49L657.38 534.43L658.24 534.37L659.09 534.31L659.95 534.26L660.81 534.20L661.67 534.15L662.53 534.09L663.39 534.04L664.25 533.97L665.11 533.90L665.97 533.81L666.83 533.69L667.69 533.55L668.55 533.38L669.41 533.16L670.27 532.90L671.13 532.60L671.99 532.25L672.85 531.86L673.71 531.43L674.57 530.95L675.43 530.44L676.28 529.89L677.14 529.32L678.00 528.72L678.86 528.10L679.72 527.46L680.58 526.79L681.44 526.10L682.30 525.39L683.16 524.65L684.02 523.88L684.88 523.09L685.74 522.27L686.60 521.43L687.46 520.56L688.32 519.66L689.18 518.75L690.04 517.82L690.90 516.87L691.76 515.90L692.62 514.92L693.47 513.93L694.33 512.94L695.19 511.93L696.05 510.92L696.91 509.91L697.77 508.89L698.63 507.86L699.49 506.84L700.35 505.80L701.21 504.77L702.07 503.73L702.93 502.69L703.79 501.65L704.65 500.60L705.51 499.54L706.37 498.47L707.23 497.40L708.09 496.31L708.95 495.21L709.81 494.10L710.66 492.97L711.52 491.84L712.38 490.70L713.24 489.55L714.10 488.40L714.96 487.26L715.82 486.11L716.68 484.96L717.54 483.82L718.40 482.69L719.26 481.57L720.12 480.46L720.98 479.36L721.84 478.27L722.70 477.20L723.56 476.14L724.42 475.10L725.28 474.06L726.14 473.04L727.00 472.04L727.86 471.04L728.71 470.06L729.57 469.09L730.43 468.14L731.29 467.19L732.15 466.26L733.01 465.34L733.87 464.43L734.73 463.54L735.59 462.65L736.45 461.77L737.31 460.91L738.17 460.05L739.03 459.21L739.89 458.37L740.75 457.55L741.61 456.74L742.47 455.94L743.33 455.16L744.19 454.38L745.04 453.62L745.90 452.87L746.76 452.13L747.62 451.41L748.48 450.70L749.34 450.00L750.20 449.32L751.06 448.65L751.92 448.00L752.78 447.36L753.64 446.74L754.50 446.13L755.36 445.53L756.22 444.95L757.08 444.39L757.94 443.84L758.80 443.30L759.66 442.78L760.52 442.28L761.38 441.79L762.23 441.31L763.09 440.85L763.95 440.40L764.81 439.96L765.67 439.54L766.53 439.14L767.39 438.74L768.25 438.37L769.11 438.00L769.97 437.65L770.83 437.31L771.69 436.98L772.55 436.67L773.41 436.37L774.27 436.08L775.13 435.80L775.99 435.53L776.85 435.28L777.71 435.03L778.57 434.80L779.42 434.58L780.28 434.36L781.14 434.16L782.00 433.96L782.86 433.78L783.72 433.60L784.58 433.43L785.44 433.27L786.30 433.12L787.16 432.97L788.02 432.83L788.88 432.70L789.74 432.57L790.60 432.45L791.46 432.33L792.32 432.22L793.18 432.11L794.04 432.01L794.90 431.91L795.76 431.82L796.62 431.73L797.47 431.64L798.33 431.56L799.19 431.48L800.05 431.40L800.91 431.32L801.77 431.25L802.63 431.17L803.49 431.10L804.35 431.03L805.21 430.95" stroke="#ff0000" stroke-width="1.05"/>
<path d="M564.55 534.60L565.41 534.53L566.27 534.33L567.13 533.99L567.99 533.51L568.85 532.90L569.71 532.15L570.57 531.27L571.43 530.31L572.29 529.31L573.14 528.31L574.00 527.37L574.86 526.50L575.72 525.68L576.58 524.90L577.44 524.13L578.30 523.34L579.16 522.54L580.02 521.76L580.88 521.03L581.74 520.37L582.60 519.80L583.46 519.32L584.32 518.91L585.18 518.57L586.04 518.28L586.90 518.02L587.76 517.81L588.62 517.67L589.48 517.59L590.33 517.61L591.19 517.72L592.05 517.92L592.91 518.23L593.77 518.62L594.63 519.11L595.49 519.68L596.35 520.32L597.21 521.01L598.07 521.73L598.93 522.46L599.79 523.19L600.65 523.94L601.51 524.70L602.37 525.48L603.23 526.29L604.09 527.14L604.95 528.00L605.81 528.86L606.67 529.69L607.52 530.45L608.38 531.15L609.24 531.78L610.10 532.37L610.96 532.94L611.82 533.48L612.68 533.96L613.54 534.32L614.40 534.53L615.26 534.60L616.12 534.55L616.98 534.43L617.84 534.26L618.70 534.09L619.56 533.91L620.42 533.74L621.28 533.58L622.14 533.45L623.00 533.32L623.86 533.21L624.71 533.11L625.57 533.00L626.43 532.90L627.29 532.80L628.15 532.70L629.01 532.60L629.87 532.51L630.73 532.43L631.59 532.35L632.45 532.28L633.31 532.22L634.17 532.18L635.03 532.14L635.89 532.12L636.75 532.11L637.61 532.12L638.47 532.15L639.33 532.20L640.19 532.27L641.05 532.37L641.90 532.49L642.76 532.64L643.62 532.82L644.48 533.01L645.34 533.23L646.20 533.46L647.06 533.70L647.92 533.91L648.78 534.11L649.64 534.27L650.50 534.40L651.36 534.50L652.22 534.56L653.08 534.59L653.94 534.60L654.80 534.59L655.66 534.58L656.52 534.56L657.38 534.55L658.24 534.53L659.09 534.52L659.95 534.51L660.81 534.50L661.67 534.49L662.53 534.48L663.39 534.48L664.25 534.46L665.11 534.45L665.97 534.42L666.83 534.39L667.69 534.34L668.55 534.27L669.41 534.18L670.27 534.07L671.13 533.93L671.99 533.75L672.85 533.55L673.71 533.32L674.57 533.06L675.43 532.77L676.28 532.45L677.14 532.11L678.00 531.74L678.86 531.36L679.72 530.96L680.58 530.55L681.44 530.13L682.30 529.70L683.16 529.25L684.02 528.80L684.88 528.32L685.74 527.83L686.60 527.33L687.46 526.81L688.32 526.27L689.18 525.73L690.04 525.18L690.90 524.62L691.76 524.05L692.62 523.49L693.47 522.92L694.33 522.35L695.19 521.78L696.05 521.22L696.91 520.66L697.77 520.11L698.63 519.57L699.49 519.04L700.35 518.53L701.21 518.03L702.07 517.55L702.93 517.08L703.79 516.62L704.65 516.17L705.51 515.72L706.37 515.28L707.23 514.84L708.09 514.39L708.95 513.94L709.81 513.48L710.66 513.00L711.52 512.51L712.38 512.00L713.24 511.48L714.10 510.94L714.96 510.38L715.82 509.81L716.68 509.21L717.54 508.60L718.40 507.97L719.26 507.32L720.12 506.65L720.98 505.96L721.84 505.25L722.70 504.53L723.56 503.78L724.42 503.02L725.28 502.24L726.14 501.44L727.00 500.63L727.86 499.80L728.71 498.96L729.57 498.11L730.43 497.24L731.29 496.36L732.15 495.48L733.01 494.58L733.87 493.67L734.73 492.76L735.59 491.85L736.45 490.93L737.31 490.00L738.17 489.08L739.03 488.15L739.89 487.22L740.75 486.29L741.61 485.36L742.47 484.43L743.33 483.51L744.19 482.58L745.04 481.66L745.90 480.74L746.76 479.83L747.62 478.92L748.48 478.02L749.34 477.12L750.20 476.23L751.06 475.35L751.92 474.48L752.78 473.62L753.64 472.77L754.50 471.93L755.36 471.10L756.22 470.28L757.08 469.47L757.94 468.67L758.80 467.88L759.66 467.10L760.52 466.33L761.38 465.57L762.23 464.81L763.09 464.06L763.95 463.32L764.81 462.59L765.67 461.86L766.53 461.13L767.39 460.41L768.25 459.70L769.11 458.99L769.97 458.28L770.83 457.57L771.69 456.86L772.55 456.16L773.41 455.46L774.27 454.76L775.13 454.06L775.99 453.36L776.85 452.66L777.71 451.97L778.57 451.28L779.42 450.59L780.28 449.91L781.14 449.23L782.00 448.55L782.86 447.87L783.72 447.20L784.58 446.53L785.44 445.86L786.30 445.20L787.16 444.54L788.02 443.88L788.88 443.23L789.74 442.58L790.60 441.94L791.46 441.29L792.32 440.66L793.18 440.02L794.04 439.38L794.90 438.75L795.76 438.12L796.62 437.49L797.47 436.86L798.33 436.24L799.19 435.61L800.05 434.98L800.91 434.36L801.77 433.73L802.63 433.10L803.49 432.48L804.35 431.85L805.21 431.22" stroke="#ff0000" stroke-width="1.05" stroke-dasharray="7 3.6"/>
<path d="M564.55 534.60L565.41 534.60L566.27 534.60L567.13 534.60L567.99 534.60L568.85 534.60L569.71 534.60L570.57 534.60L571.43 534.60L572.29 534.60L573.14 534.60L574.00 534.60L574.86 534.60L575.72 534.60L576.58 534.60L577.44 534.60L578.30 534.60L579.16 534.60L580.02 534.60L580.88 534.60L581.74 534.59L582.60 534.56L583.46 534.50L584.32 534.39L585.18 534.24L586.04 534.05L586.90 533.83L587.76 533.60L588.62 533.36L589.48 533.10L590.33 532.83L591.19 532.55L592.05 532.24L592.91 531.89L593.77 531.51L594.63 531.09L595.49 530.59L596.35 530.02L597.21 529.38L598.07 528.65L598.93 527.84L599.79 526.96L600.65 526.01L601.51 524.99L602.37 523.92L603.23 522.81L604.09 521.66L604.95 520.49L605.81 519.31L606.67 518.13L607.52 516.95L608.38 515.79L609.24 514.66L610.10 513.58L610.96 512.54L611.82 511.56L612.68 510.64L613.54 509.79L614.40 509.00L615.26 508.27L616.12 507.62L616.98 507.04L617.84 506.55L618.70 506.15L619.56 505.85L620.42 505.65L621.28 505.56L622.14 505.59L623.00 505.73L623.86 505.98L624.71 506.33L625.57 506.78L626.43 507.33L627.29 507.96L628.15 508.68L629.01 509.47L629.87 510.34L630.73 511.30L631.59 512.33L632.45 513.45L633.31 514.65L634.17 515.92L635.03 517.25L635.89 518.62L636.75 520.01L637.61 521.40L638.47 522.79L639.33 524.14L640.19 525.46L641.05 526.75L641.90 528.01L642.76 529.25L643.62 530.45L644.48 531.59L645.34 532.57L646.20 533.31L647.06 533.80L647.92 534.10L648.78 534.27L649.64 534.38L650.50 534.46L651.36 534.52L652.22 534.58L653.08 534.60L653.94 534.56L654.80 534.39L655.66 534.07L656.52 533.55L657.38 532.85L658.24 532.00L659.09 531.07L659.95 530.12L660.81 529.20L661.67 528.32L662.53 527.49L663.39 526.70L664.25 525.94L665.11 525.20L665.97 524.45L666.83 523.67L667.69 522.83L668.55 521.90L669.41 520.89L670.27 519.80L671.13 518.65L671.99 517.45L672.85 516.22L673.71 514.98L674.57 513.75L675.43 512.56L676.28 511.42L677.14 510.37L678.00 509.41L678.86 508.52L679.72 507.70L680.58 506.95L681.44 506.24L682.30 505.58L683.16 504.95L684.02 504.34L684.88 503.73L685.74 503.12L686.60 502.50L687.46 501.88L688.32 501.25L689.18 500.62L690.04 500.00L690.90 499.38L691.76 498.76L692.62 498.15L693.47 497.54L694.33 496.95L695.19 496.37L696.05 495.81L696.91 495.27L697.77 494.74L698.63 494.23L699.49 493.75L700.35 493.30L701.21 492.88L702.07 492.48L702.93 492.12L703.79 491.79L704.65 491.50L705.51 491.23L706.37 491.00L707.23 490.79L708.09 490.61L708.95 490.46L709.81 490.34L710.66 490.23L711.52 490.16L712.38 490.10L713.24 490.07L714.10 490.05L714.96 490.05L715.82 490.07L716.68 490.12L717.54 490.18L718.40 490.27L719.26 490.37L720.12 490.51L720.98 490.66L721.84 490.84L722.70 491.04L723.56 491.26L724.42 491.50L725.28 491.75L726.14 492.03L727.00 492.32L727.86 492.63L728.71 492.95L729.57 493.28L730.43 493.63L731.29 493.99L732.15 494.36L733.01 494.75L733.87 495.14L734.73 495.54L735.59 495.94L736.45 496.36L737.31 496.78L738.17 497.20L739.03 497.63L739.89 498.06L740.75 498.50L741.61 498.94L742.47 499.39L743.33 499.83L744.19 500.28L745.04 500.73L745.90 501.19L746.76 501.64L747.62 502.10L748.48 502.55L749.34 503.01L750.20 503.46L751.06 503.92L751.92 504.37L752.78 504.82L753.64 505.27L754.50 505.72L755.36 506.16L756.22 506.61L757.08 507.05L757.94 507.49L758.80 507.92L759.66 508.35L760.52 508.78L761.38 509.21L762.23 509.63L763.09 510.06L763.95 510.47L764.81 510.89L765.67 511.30L766.53 511.70L767.39 512.11L768.25 512.51L769.11 512.90L769.97 513.29L770.83 513.68L771.69 514.06L772.55 514.44L773.41 514.82L774.27 515.19L775.13 515.55L775.99 515.91L776.85 516.27L777.71 516.62L778.57 516.97L779.42 517.31L780.28 517.64L781.14 517.97L782.00 518.30L782.86 518.62L783.72 518.94L784.58 519.25L785.44 519.55L786.30 519.85L787.16 520.15L788.02 520.44L788.88 520.72L789.74 521.00L790.60 521.27L791.46 521.54L792.32 521.80L793.18 522.06L794.04 522.32L794.90 522.57L795.76 522.81L796.62 523.06L797.47 523.29L798.33 523.53L799.19 523.76L800.05 523.99L800.91 524.22L801.77 524.44L802.63 524.66L803.49 524.88L804.35 525.09L805.21 525.30" stroke="#00c000" stroke-width="1.05"/>
<path d="M564.55 534.60L565.41 534.60L566.27 534.60L567.13 534.60L567.99 534.60L568.85 534.60L569.71 534.60L570.57 534.60L571.43 534.60L572.29 534.60L573.14 534.60L574.00 534.60L574.86 534.60L575.72 534.60L576.58 534.60L577.44 534.60L578.30 534.60L579.16 534.60L580.02 534.59L580.88 534.58L581.74 534.53L582.60 534.46L583.46 534.36L584.32 534.24L585.18 534.10L586.04 533.94L586.90 533.78L587.76 533.62L588.62 533.44L589.48 533.25L590.33 533.05L591.19 532.82L592.05 532.57L592.91 532.29L593.77 531.96L594.63 531.59L595.49 531.17L596.35 530.69L597.21 530.16L598.07 529.58L598.93 528.95L599.79 528.28L600.65 527.58L601.51 526.84L602.37 526.09L603.23 525.32L604.09 524.54L604.95 523.77L605.81 522.99L606.67 522.23L607.52 521.49L608.38 520.77L609.24 520.09L610.10 519.45L610.96 518.84L611.82 518.28L612.68 517.76L613.54 517.29L614.40 516.86L615.26 516.48L616.12 516.16L616.98 515.90L617.84 515.70L618.70 515.57L619.56 515.50L620.42 515.51L621.28 515.59L622.14 515.73L623.00 515.94L623.86 516.21L624.71 516.54L625.57 516.92L626.43 517.35L627.29 517.83L628.15 518.35L629.01 518.92L629.87 519.54L630.73 520.20L631.59 520.91L632.45 521.67L633.31 522.47L634.17 523.29L635.03 524.15L635.89 525.01L636.75 525.88L637.61 526.75L638.47 527.61L639.33 528.44L640.19 529.25L641.05 530.05L641.90 530.83L642.76 531.58L643.62 532.30L644.48 532.95L645.34 533.48L646.20 533.89L647.06 534.17L647.92 534.35L648.78 534.47L649.64 534.53L650.50 534.57L651.36 534.59L652.22 534.60L653.08 534.60L653.94 534.60L654.80 534.59L655.66 534.58L656.52 534.57L657.38 534.54L658.24 534.49L659.09 534.41L659.95 534.28L660.81 534.08L661.67 533.77L662.53 533.33L663.39 532.73L664.25 531.98L665.11 531.08L665.97 530.04L666.83 528.93L667.69 527.80L668.55 526.72L669.41 525.72L670.27 524.79L671.13 523.94L671.99 523.14L672.85 522.39L673.71 521.67L674.57 520.94L675.43 520.20L676.28 519.47L677.14 518.73L678.00 517.99L678.86 517.27L679.72 516.55L680.58 515.84L681.44 515.15L682.30 514.46L683.16 513.78L684.02 513.10L684.88 512.42L685.74 511.73L686.60 511.03L687.46 510.31L688.32 509.60L689.18 508.87L690.04 508.14L690.90 507.42L691.76 506.70L692.62 506.00L693.47 505.30L694.33 504.62L695.19 503.96L696.05 503.32L696.91 502.69L697.77 502.07L698.63 501.46L699.49 500.87L700.35 500.28L701.21 499.70L702.07 499.12L702.93 498.54L703.79 497.97L704.65 497.39L705.51 496.81L706.37 496.23L707.23 495.64L708.09 495.05L708.95 494.47L709.81 493.88L710.66 493.30L711.52 492.72L712.38 492.14L713.24 491.58L714.10 491.02L714.96 490.47L715.82 489.93L716.68 489.41L717.54 488.90L718.40 488.41L719.26 487.93L720.12 487.47L720.98 487.04L721.84 486.62L722.70 486.22L723.56 485.84L724.42 485.48L725.28 485.14L726.14 484.81L727.00 484.50L727.86 484.21L728.71 483.94L729.57 483.68L730.43 483.44L731.29 483.21L732.15 483.00L733.01 482.80L733.87 482.62L734.73 482.45L735.59 482.30L736.45 482.16L737.31 482.03L738.17 481.91L739.03 481.81L739.89 481.72L740.75 481.65L741.61 481.59L742.47 481.54L743.33 481.51L744.19 481.49L745.04 481.49L745.90 481.51L746.76 481.54L747.62 481.58L748.48 481.63L749.34 481.70L750.20 481.79L751.06 481.88L751.92 481.99L752.78 482.10L753.64 482.23L754.50 482.37L755.36 482.52L756.22 482.67L757.08 482.84L757.94 483.01L758.80 483.19L759.66 483.38L760.52 483.58L761.38 483.78L762.23 483.99L763.09 484.21L763.95 484.44L764.81 484.67L765.67 484.90L766.53 485.15L767.39 485.40L768.25 485.65L769.11 485.91L769.97 486.17L770.83 486.44L771.69 486.71L772.55 486.98L773.41 487.26L774.27 487.55L775.13 487.83L775.99 488.12L776.85 488.42L777.71 488.71L778.57 489.01L779.42 489.32L780.28 489.62L781.14 489.93L782.00 490.24L782.86 490.56L783.72 490.88L784.58 491.20L785.44 491.52L786.30 491.84L787.16 492.17L788.02 492.50L788.88 492.83L789.74 493.16L790.60 493.50L791.46 493.84L792.32 494.17L793.18 494.51L794.04 494.85L794.90 495.19L795.76 495.53L796.62 495.87L797.47 496.21L798.33 496.56L799.19 496.90L800.05 497.24L800.91 497.58L801.77 497.91L802.63 498.25L803.49 498.59L804.35 498.93L805.21 499.26" stroke="#00c000" stroke-width="1.05" stroke-dasharray="1.8 1.8"/>
<path d="M564.55 534.60L565.41 534.60L566.27 534.60L567.13 534.60L567.99 534.60L568.85 534.60L569.71 534.60L570.57 534.60L571.43 534.60L572.29 534.60L573.14 534.60L574.00 534.60L574.86 534.60L575.72 534.60L576.58 534.60L577.44 534.60L578.30 534.60L579.16 534.60L580.02 534.60L580.88 534.60L581.74 534.60L582.60 534.60L583.46 534.60L584.32 534.60L585.18 534.60L586.04 534.60L586.90 534.60L587.76 534.60L588.62 534.60L589.48 534.60L590.33 534.60L591.19 534.60L592.05 534.60L592.91 534.60L593.77 534.60L594.63 534.60L595.49 534.60L596.35 534.60L597.21 534.60L598.07 534.60L598.93 534.60L599.79 534.60L600.65 534.60L601.51 534.60L602.37 534.60L603.23 534.60L604.09 534.60L604.95 534.60L605.81 534.60L606.67 534.60L607.52 534.60L608.38 534.60L609.24 534.59L610.10 534.58L610.96 534.53L611.82 534.45L612.68 534.31L613.54 534.12L614.40 533.86L615.26 533.54L616.12 533.16L616.98 532.74L617.84 532.27L618.70 531.76L619.56 531.22L620.42 530.65L621.28 530.04L622.14 529.41L623.00 528.75L623.86 528.06L624.71 527.35L625.57 526.62L626.43 525.86L627.29 525.08L628.15 524.29L629.01 523.48L629.87 522.66L630.73 521.83L631.59 520.99L632.45 520.14L633.31 519.30L634.17 518.45L635.03 517.61L635.89 516.78L636.75 515.95L637.61 515.14L638.47 514.35L639.33 513.58L640.19 512.83L641.05 512.11L641.90 511.42L642.76 510.77L643.62 510.14L644.48 509.55L645.34 509.00L646.20 508.48L647.06 507.99L647.92 507.53L648.78 507.11L649.64 506.71L650.50 506.35L651.36 506.01L652.22 505.70L653.08 505.43L653.94 505.19L654.80 504.98L655.66 504.82L656.52 504.70L657.38 504.62L658.24 504.58L659.09 504.59L659.95 504.66L660.81 504.76L661.67 504.91L662.53 505.08L663.39 505.29L664.25 505.53L665.11 505.78L665.97 506.05L666.83 506.33L667.69 506.61L668.55 506.89L669.41 507.18L670.27 507.46L671.13 507.75L671.99 508.03L672.85 508.30L673.71 508.57L674.57 508.84L675.43 509.10L676.28 509.36L677.14 509.60L678.00 509.84L678.86 510.08L679.72 510.30L680.58 510.53L681.44 510.74L682.30 510.96L683.16 511.17L684.02 511.37L684.88 511.58L685.74 511.78L686.60 511.98L687.46 512.18L688.32 512.38L689.18 512.58L690.04 512.77L690.90 512.97L691.76 513.16L692.62 513.35L693.47 513.55L694.33 513.74L695.19 513.93L696.05 514.13L696.91 514.32L697.77 514.52L698.63 514.71L699.49 514.91L700.35 515.11L701.21 515.30L702.07 515.50L702.93 515.70L703.79 515.91L704.65 516.12L705.51 516.33L706.37 516.56L707.23 516.79L708.09 517.03L708.95 517.28L709.81 517.55L710.66 517.81L711.52 518.09L712.38 518.37L713.24 518.66L714.10 518.95L714.96 519.25L715.82 519.54L716.68 519.84L717.54 520.14L718.40 520.44L719.26 520.74L720.12 521.04L720.98 521.34L721.84 521.64L722.70 521.93L723.56 522.22L724.42 522.51L725.28 522.80L726.14 523.08L727.00 523.37L727.86 523.64L728.71 523.92L729.57 524.19L730.43 524.45L731.29 524.71L732.15 524.97L733.01 525.22L733.87 525.47L734.73 525.71L735.59 525.95L736.45 526.18L737.31 526.41L738.17 526.63L739.03 526.85L739.89 527.06L740.75 527.27L741.61 527.48L742.47 527.68L743.33 527.87L744.19 528.06L745.04 528.25L745.90 528.43L746.76 528.61L747.62 528.78L748.48 528.95L749.34 529.12L750.20 529.28L751.06 529.44L751.92 529.60L752.78 529.75L753.64 529.90L754.50 530.05L755.36 530.19L756.22 530.33L757.08 530.47L757.94 530.60L758.80 530.73L759.66 530.86L760.52 530.98L761.38 531.10L762.23 531.22L763.09 531.34L763.95 531.45L764.81 531.56L765.67 531.67L766.53 531.77L767.39 531.87L768.25 531.97L769.11 532.07L769.97 532.16L770.83 532.25L771.69 532.34L772.55 532.43L773.41 532.51L774.27 532.59L775.13 532.67L775.99 532.74L776.85 532.81L777.71 532.88L778.57 532.95L779.42 533.02L780.28 533.08L781.14 533.14L782.00 533.20L782.86 533.25L783.72 533.31L784.58 533.36L785.44 533.40L786.30 533.45L787.16 533.50L788.02 533.54L788.88 533.58L789.74 533.62L790.60 533.65L791.46 533.69L792.32 533.72L793.18 533.75L794.04 533.78L794.90 533.81L795.76 533.84L796.62 533.86L797.47 533.89L798.33 533.91L799.19 533.94L800.05 533.96L800.91 533.98L801.77 534.00L802.63 534.02L803.49 534.04L804.35 534.06L805.21 534.08" stroke="#0000ff" stroke-width="1.05" stroke-dasharray="7 3.6"/>
<path d="M564.55 534.60L565.41 534.60L566.27 534.60L567.13 534.60L567.99 534.60L568.85 534.60L569.71 534.60L570.57 534.60L571.43 534.60L572.29 534.60L573.14 534.60L574.00 534.60L574.86 534.60L575.72 534.60L576.58 534.60L577.44 534.60L578.30 534.60L579.16 534.60L580.02 534.60L580.88 534.60L581.74 534.60L582.60 534.60L583.46 534.60L584.32 534.60L585.18 534.60L586.04 534.60L586.90 534.60L587.76 534.60L588.62 534.60L589.48 534.60L590.33 534.60L591.19 534.60L592.05 534.60L592.91 534.60L593.77 534.60L594.63 534.60L595.49 534.60L596.35 534.60L597.21 534.60L598.07 534.60L598.93 534.60L599.79 534.60L600.65 534.60L601.51 534.60L602.37 534.60L603.23 534.60L604.09 534.60L604.95 534.60L605.81 534.60L606.67 534.60L607.52 534.60L608.38 534.60L609.24 534.60L610.10 534.60L610.96 534.60L611.82 534.60L612.68 534.60L613.54 534.60L614.40 534.60L615.26 534.60L616.12 534.60L616.98 534.60L617.84 534.60L618.70 534.60L619.56 534.60L620.42 534.60L621.28 534.55L622.14 534.40L623.00 534.10L623.86 533.62L624.71 533.03L625.57 532.42L626.43 531.83L627.29 531.28L628.15 530.78L629.01 530.32L629.87 529.86L630.73 529.40L631.59 528.90L632.45 528.33L633.31 527.70L634.17 527.02L635.03 526.29L635.89 525.51L636.75 524.70L637.61 523.87L638.47 523.03L639.33 522.18L640.19 521.33L641.05 520.47L641.90 519.60L642.76 518.73L643.62 517.86L644.48 516.98L645.34 516.10L646.20 515.22L647.06 514.34L647.92 513.45L648.78 512.57L649.64 511.68L650.50 510.79L651.36 509.91L652.22 509.02L653.08 508.14L653.94 507.28L654.80 506.44L655.66 505.63L656.52 504.85L657.38 504.11L658.24 503.40L659.09 502.68L659.95 501.92L660.81 501.11L661.67 500.27L662.53 499.40L663.39 498.53L664.25 497.65L665.11 496.79L665.97 495.96L666.83 495.17L667.69 494.44L668.55 493.78L669.41 493.19L670.27 492.66L671.13 492.19L671.99 491.76L672.85 491.38L673.71 491.03L674.57 490.71L675.43 490.41L676.28 490.13L677.14 489.85L678.00 489.59L678.86 489.34L679.72 489.11L680.58 488.92L681.44 488.75L682.30 488.63L683.16 488.55L684.02 488.53L684.88 488.56L685.74 488.65L686.60 488.80L687.46 489.00L688.32 489.25L689.18 489.54L690.04 489.86L690.90 490.22L691.76 490.61L692.62 491.01L693.47 491.44L694.33 491.87L695.19 492.32L696.05 492.77L696.91 493.23L697.77 493.70L698.63 494.18L699.49 494.67L700.35 495.16L701.21 495.65L702.07 496.14L702.93 496.64L703.79 497.15L704.65 497.65L705.51 498.16L706.37 498.67L707.23 499.18L708.09 499.69L708.95 500.21L709.81 500.73L710.66 501.26L711.52 501.78L712.38 502.31L713.24 502.85L714.10 503.38L714.96 503.92L715.82 504.46L716.68 505.00L717.54 505.55L718.40 506.09L719.26 506.65L720.12 507.20L720.98 507.75L721.84 508.31L722.70 508.86L723.56 509.42L724.42 509.97L725.28 510.52L726.14 511.07L727.00 511.62L727.86 512.16L728.71 512.70L729.57 513.23L730.43 513.76L731.29 514.28L732.15 514.80L733.01 515.31L733.87 515.81L734.73 516.30L735.59 516.79L736.45 517.26L737.31 517.73L738.17 518.19L739.03 518.64L739.89 519.09L740.75 519.52L741.61 519.95L742.47 520.37L743.33 520.77L744.19 521.17L745.04 521.57L745.90 521.95L746.76 522.33L747.62 522.70L748.48 523.06L749.34 523.41L750.20 523.75L751.06 524.09L751.92 524.42L752.78 524.74L753.64 525.05L754.50 525.36L755.36 525.66L756.22 525.95L757.08 526.24L757.94 526.51L758.80 526.79L759.66 527.05L760.52 527.31L761.38 527.56L762.23 527.80L763.09 528.04L763.95 528.27L764.81 528.49L765.67 528.71L766.53 528.92L767.39 529.12L768.25 529.32L769.11 529.51L769.97 529.70L770.83 529.88L771.69 530.06L772.55 530.23L773.41 530.39L774.27 530.55L775.13 530.71L775.99 530.86L776.85 531.00L777.71 531.14L778.57 531.28L779.42 531.41L780.28 531.54L781.14 531.66L782.00 531.78L782.86 531.89L783.72 532.00L784.58 532.11L785.44 532.21L786.30 532.31L787.16 532.41L788.02 532.50L788.88 532.59L789.74 532.67L790.60 532.76L791.46 532.84L792.32 532.92L793.18 532.99L794.04 533.06L794.90 533.13L795.76 533.20L796.62 533.27L797.47 533.33L798.33 533.39L799.19 533.45L800.05 533.51L800.91 533.57L801.77 533.62L802.63 533.67L803.49 533.72L804.35 533.77L805.21 533.82" stroke="#0000ff" stroke-width="1.05" stroke-dasharray="10.6 3.2 2 3.2"/>
<path d="M673.88 534.60V429.96" stroke="#000" stroke-width="2.2" stroke-dasharray="6.7 3.63"/>
</g></g>
<g fill="none"><rect x="83.00" y="11.80" width="240.70" height="261.20" stroke="#000" stroke-width="2.0"/><path d="M100.19 273.00v-3.80M100.19 11.80v3.80M117.38 273.00v-7.20M117.38 11.80v7.20M134.57 273.00v-3.80M134.57 11.80v3.80M151.76 273.00v-7.20M151.76 11.80v7.20M168.95 273.00v-3.80M168.95 11.80v3.80M186.14 273.00v-7.20M186.14 11.80v7.20M203.33 273.00v-3.80M203.33 11.80v3.80M220.52 273.00v-7.20M220.52 11.80v7.20M237.71 273.00v-3.80M237.71 11.80v3.80M254.90 273.00v-7.20M254.90 11.80v7.20M272.09 273.00v-3.80M272.09 11.80v3.80M289.28 273.00v-7.20M289.28 11.80v7.20M306.47 273.00v-3.80M306.47 11.80v3.80M83.00 246.88h3.80M323.70 246.88h-3.80M83.00 220.76h7.20M323.70 220.76h-7.20M83.00 194.64h3.80M323.70 194.64h-3.80M83.00 168.52h7.20M323.70 168.52h-7.20M83.00 142.40h3.80M323.70 142.40h-3.80M83.00 116.28h7.20M323.70 116.28h-7.20M83.00 90.16h3.80M323.70 90.16h-3.80M83.00 64.04h7.20M323.70 64.04h-7.20M83.00 37.92h3.80M323.70 37.92h-3.80" stroke="#000" stroke-width="1.9"/><rect x="323.70" y="11.80" width="240.85" height="261.20" stroke="#000" stroke-width="2.0"/><path d="M340.89 273.00v-3.80M340.89 11.80v3.80M358.08 273.00v-7.20M358.08 11.80v7.20M375.27 273.00v-3.80M375.27 11.80v3.80M392.46 273.00v-7.20M392.46 11.80v7.20M409.65 273.00v-3.80M409.65 11.80v3.80M426.84 273.00v-7.20M426.84 11.80v7.20M444.03 273.00v-3.80M444.03 11.80v3.80M461.22 273.00v-7.20M461.22 11.80v7.20M478.41 273.00v-3.80M478.41 11.80v3.80M495.60 273.00v-7.20M495.60 11.80v7.20M512.79 273.00v-3.80M512.79 11.80v3.80M529.98 273.00v-7.20M529.98 11.80v7.20M547.17 273.00v-3.80M547.17 11.80v3.80M323.70 246.88h3.80M564.55 246.88h-3.80M323.70 220.76h7.20M564.55 220.76h-7.20M323.70 194.64h3.80M564.55 194.64h-3.80M323.70 168.52h7.20M564.55 168.52h-7.20M323.70 142.40h3.80M564.55 142.40h-3.80M323.70 116.28h7.20M564.55 116.28h-7.20M323.70 90.16h3.80M564.55 90.16h-3.80M323.70 64.04h7.20M564.55 64.04h-7.20M323.70 37.92h3.80M564.55 37.92h-3.80" stroke="#000" stroke-width="1.9"/><rect x="564.55" y="11.80" width="240.35" height="261.20" stroke="#000" stroke-width="2.0"/><path d="M581.74 273.00v-3.80M581.74 11.80v3.80M598.93 273.00v-7.20M598.93 11.80v7.20M616.12 273.00v-3.80M616.12 11.80v3.80M633.31 273.00v-7.20M633.31 11.80v7.20M650.50 273.00v-3.80M650.50 11.80v3.80M667.69 273.00v-7.20M667.69 11.80v7.20M684.88 273.00v-3.80M684.88 11.80v3.80M702.07 273.00v-7.20M702.07 11.80v7.20M719.26 273.00v-3.80M719.26 11.80v3.80M736.45 273.00v-7.20M736.45 11.80v7.20M753.64 273.00v-3.80M753.64 11.80v3.80M770.83 273.00v-7.20M770.83 11.80v7.20M788.02 273.00v-3.80M788.02 11.80v3.80M564.55 246.88h3.80M804.90 246.88h-3.80M564.55 220.76h7.20M804.90 220.76h-7.20M564.55 194.64h3.80M804.90 194.64h-3.80M564.55 168.52h7.20M804.90 168.52h-7.20M564.55 142.40h3.80M804.90 142.40h-3.80M564.55 116.28h7.20M804.90 116.28h-7.20M564.55 90.16h3.80M804.90 90.16h-3.80M564.55 64.04h7.20M804.90 64.04h-7.20M564.55 37.92h3.80M804.90 37.92h-3.80" stroke="#000" stroke-width="1.9"/><rect x="83.00" y="273.00" width="240.70" height="261.60" stroke="#000" stroke-width="2.0"/><path d="M100.19 534.60v-3.80M100.19 273.00v3.80M117.38 534.60v-7.20M117.38 273.00v7.20M134.57 534.60v-3.80M134.57 273.00v3.80M151.76 534.60v-7.20M151.76 273.00v7.20M168.95 534.60v-3.80M168.95 273.00v3.80M186.14 534.60v-7.20M186.14 273.00v7.20M203.33 534.60v-3.80M203.33 273.00v3.80M220.52 534.60v-7.20M220.52 273.00v7.20M237.71 534.60v-3.80M237.71 273.00v3.80M254.90 534.60v-7.20M254.90 273.00v7.20M272.09 534.60v-3.80M272.09 273.00v3.80M289.28 534.60v-7.20M289.28 273.00v7.20M306.47 534.60v-3.80M306.47 273.00v3.80M83.00 508.44h3.80M323.70 508.44h-3.80M83.00 482.28h7.20M323.70 482.28h-7.20M83.00 456.12h3.80M323.70 456.12h-3.80M83.00 429.96h7.20M323.70 429.96h-7.20M83.00 403.80h3.80M323.70 403.80h-3.80M83.00 377.64h7.20M323.70 377.64h-7.20M83.00 351.48h3.80M323.70 351.48h-3.80M83.00 325.32h7.20M323.70 325.32h-7.20M83.00 299.16h3.80M323.70 299.16h-3.80" stroke="#000" stroke-width="1.9"/><rect x="323.70" y="273.00" width="240.85" height="261.60" stroke="#000" stroke-width="2.0"/><path d="M340.89 534.60v-3.80M340.89 273.00v3.80M358.08 534.60v-7.20M358.08 273.00v7.20M375.27 534.60v-3.80M375.27 273.00v3.80M392.46 534.60v-7.20M392.46 273.00v7.20M409.65 534.60v-3.80M409.65 273.00v3.80M426.84 534.60v-7.20M426.84 273.00v7.20M444.03 534.60v-3.80M444.03 273.00v3.80M461.22 534.60v-7.20M461.22 273.00v7.20M478.41 534.60v-3.80M478.41 273.00v3.80M495.60 534.60v-7.20M495.60 273.00v7.20M512.79 534.60v-3.80M512.79 273.00v3.80M529.98 534.60v-7.20M529.98 273.00v7.20M547.17 534.60v-3.80M547.17 273.00v3.80M323.70 508.44h3.80M564.55 508.44h-3.80M323.70 482.28h7.20M564.55 482.28h-7.20M323.70 456.12h3.80M564.55 456.12h-3.80M323.70 429.96h7.20M564.55 429.96h-7.20M323.70 403.80h3.80M564.55 403.80h-3.80M323.70 377.64h7.20M564.55 377.64h-7.20M323.70 351.48h3.80M564.55 351.48h-3.80M323.70 325.32h7.20M564.55 325.32h-7.20M323.70 299.16h3.80M564.55 299.16h-3.80" stroke="#000" stroke-width="1.9"/><rect x="564.55" y="273.00" width="240.35" height="261.60" stroke="#000" stroke-width="2.0"/><path d="M581.74 534.60v-3.80M581.74 273.00v3.80M598.93 534.60v-7.20M598.93 273.00v7.20M616.12 534.60v-3.80M616.12 273.00v3.80M633.31 534.60v-7.20M633.31 273.00v7.20M650.50 534.60v-3.80M650.50 273.00v3.80M667.69 534.60v-7.20M667.69 273.00v7.20M684.88 534.60v-3.80M684.88 273.00v3.80M702.07 534.60v-7.20M702.07 273.00v7.20M719.26 534.60v-3.80M719.26 273.00v3.80M736.45 534.60v-7.20M736.45 273.00v7.20M753.64 534.60v-3.80M753.64 273.00v3.80M770.83 534.60v-7.20M770.83 273.00v7.20M788.02 534.60v-3.80M788.02 273.00v3.80M564.55 508.44h3.80M804.90 508.44h-3.80M564.55 482.28h7.20M804.90 482.28h-7.20M564.55 456.12h3.80M804.90 456.12h-3.80M564.55 429.96h7.20M804.90 429.96h-7.20M564.55 403.80h3.80M804.90 403.80h-3.80M564.55 377.64h7.20M804.90 377.64h-7.20M564.55 351.48h3.80M804.90 351.48h-3.80M564.55 325.32h7.20M804.90 325.32h-7.20M564.55 299.16h3.80M804.90 299.16h-3.80" stroke="#000" stroke-width="1.9"/></g>
<path d="M137.2 53.90H178" fill="none" stroke="#ff00ff" stroke-width="2.1"/>
<path d="M137.2 70.40H178" fill="none" stroke="#ff0000" stroke-width="1.05"/>
<path d="M137.2 87.00H178" fill="none" stroke="#ff0000" stroke-width="1.05" stroke-dasharray="7 3.6"/>
<path d="M137.2 103.30H178" fill="none" stroke="#00c000" stroke-width="1.05"/>
<path d="M137.2 119.70H178" fill="none" stroke="#00c000" stroke-width="1.05" stroke-dasharray="1.8 1.8"/>
<path d="M137.2 136.30H178" fill="none" stroke="#0000ff" stroke-width="1.05" stroke-dasharray="7 3.6"/>
<path d="M137.2 152.60H178" fill="none" stroke="#0000ff" stroke-width="1.05" stroke-dasharray="10.6 3.2 2 3.2"/>
<g style="will-change:transform;filter:grayscale(1)"><text x="95.20" y="35.00" font-size="14.0">(a)</text><text x="195.70" y="58.80" font-size="23"><tspan font-size="18" dy="-11.8">136</tspan><tspan dy="11.8">Sn</tspan><tspan font-size="18" dy="7">86</tspan></text><text x="75.3" y="278.00" font-size="14.0" text-anchor="end">0.00</text><text x="75.3" y="225.76" font-size="14.0" text-anchor="end">0.20</text><text x="75.3" y="173.52" font-size="14.0" text-anchor="end">0.40</text><text x="75.3" y="121.28" font-size="14.0" text-anchor="end">0.60</text><text x="75.3" y="69.04" font-size="14.0" text-anchor="end">0.80</text><text x="75.3" y="16.80" font-size="14.0" text-anchor="end">1.00</text><g transform="translate(29.4 142.40) rotate(-90)" font-size="14"><text x="-30.5" y="0" textLength="9.4" lengthAdjust="spacingAndGlyphs">ρ</text><text x="-19.7" y="4.0" font-size="12" textLength="9.6" lengthAdjust="spacingAndGlyphs">nlj</text><text x="-9.6" y="0.5" font-size="16">/</text><text x="-2.7" y="0" textLength="9.4" lengthAdjust="spacingAndGlyphs">ρ</text><text x="7.9" y="4.0" font-size="12" textLength="22.8" lengthAdjust="spacingAndGlyphs">neutr</text></g><text x="335.90" y="35.00" font-size="14.0">(b)</text><text x="359.00" y="97.90" font-size="23"><tspan font-size="18" dy="-11.8">144</tspan><tspan dy="11.8">Sn</tspan><tspan font-size="18" dy="7">94</tspan></text><text x="576.75" y="35.00" font-size="14.0">(c)</text><text x="599.85" y="97.90" font-size="23"><tspan font-size="18" dy="-11.8">152</tspan><tspan dy="11.8">Sn</tspan><tspan font-size="18" dy="7">102</tspan></text><text x="95.20" y="296.20" font-size="14.0">(d)</text><text x="118.30" y="359.10" font-size="23"><tspan font-size="18" dy="-11.8">160</tspan><tspan dy="11.8">Sn</tspan><tspan font-size="18" dy="7">110</tspan></text><text x="83.00" y="553.6" font-size="14.0" text-anchor="middle">0</text><text x="117.38" y="553.6" font-size="14.0" text-anchor="middle">2</text><text x="151.76" y="553.6" font-size="14.0" text-anchor="middle">4</text><text x="186.14" y="553.6" font-size="14.0" text-anchor="middle">6</text><text x="220.52" y="553.6" font-size="14.0" text-anchor="middle">8</text><text x="254.90" y="553.6" font-size="14.0" text-anchor="middle">10</text><text x="289.28" y="553.6" font-size="14.0" text-anchor="middle">12</text><text x="203.35" y="574" font-size="14.0" text-anchor="middle">r [fm]</text><text x="75.3" y="539.60" font-size="14.0" text-anchor="end">0.00</text><text x="75.3" y="487.28" font-size="14.0" text-anchor="end">0.20</text><text x="75.3" y="434.96" font-size="14.0" text-anchor="end">0.40</text><text x="75.3" y="382.64" font-size="14.0" text-anchor="end">0.60</text><text x="75.3" y="330.32" font-size="14.0" text-anchor="end">0.80</text><g transform="translate(29.4 403.80) rotate(-90)" font-size="14"><text x="-30.5" y="0" textLength="9.4" lengthAdjust="spacingAndGlyphs">ρ</text><text x="-19.7" y="4.0" font-size="12" textLength="9.6" lengthAdjust="spacingAndGlyphs">nlj</text><text x="-9.6" y="0.5" font-size="16">/</text><text x="-2.7" y="0" textLength="9.4" lengthAdjust="spacingAndGlyphs">ρ</text><text x="7.9" y="4.0" font-size="12" textLength="22.8" lengthAdjust="spacingAndGlyphs">neutr</text></g><text x="335.90" y="296.20" font-size="14.0">(e)</text><text x="359.00" y="359.10" font-size="23"><tspan font-size="18" dy="-11.8">168</tspan><tspan dy="11.8">Sn</tspan><tspan font-size="18" dy="7">118</tspan></text><text x="323.70" y="553.6" font-size="14.0" text-anchor="middle">0</text><text x="358.08" y="553.6" font-size="14.0" text-anchor="middle">2</text><text x="392.46" y="553.6" font-size="14.0" text-anchor="middle">4</text><text x="426.84" y="553.6" font-size="14.0" text-anchor="middle">6</text><text x="461.22" y="553.6" font-size="14.0" text-anchor="middle">8</text><text x="495.60" y="553.6" font-size="14.0" text-anchor="middle">10</text><text x="529.98" y="553.6" font-size="14.0" text-anchor="middle">12</text><text x="444.12" y="574" font-size="14.0" text-anchor="middle">r [fm]</text><text x="576.75" y="296.20" font-size="14.0">(f)</text><text x="599.85" y="359.10" font-size="23"><tspan font-size="18" dy="-11.8">176</tspan><tspan dy="11.8">Sn</tspan><tspan font-size="18" dy="7">126</tspan></text><text x="564.55" y="553.6" font-size="14.0" text-anchor="middle">0</text><text x="598.93" y="553.6" font-size="14.0" text-anchor="middle">2</text><text x="633.31" y="553.6" font-size="14.0" text-anchor="middle">4</text><text x="667.69" y="553.6" font-size="14.0" text-anchor="middle">6</text><text x="702.07" y="553.6" font-size="14.0" text-anchor="middle">8</text><text x="736.45" y="553.6" font-size="14.0" text-anchor="middle">10</text><text x="770.83" y="553.6" font-size="14.0" text-anchor="middle">12</text><text x="805.21" y="553.6" font-size="14.0" text-anchor="middle">14</text><text x="684.72" y="574" font-size="14.0" text-anchor="middle">r [fm]</text><text x="128.3" y="58.70" font-size="13.5" text-anchor="end">shell</text><text x="128.3" y="73.30" font-size="13.5" text-anchor="end">3p<tspan font-size="10.8" dy="4.6">3/2</tspan></text><text x="128.3" y="89.90" font-size="13.5" text-anchor="end">3p<tspan font-size="10.8" dy="4.6">1/2</tspan></text><text x="128.3" y="106.20" font-size="13.5" text-anchor="end">2f<tspan font-size="10.8" dy="4.6">7/2</tspan></text><text x="128.3" y="122.60" font-size="13.5" text-anchor="end">2f<tspan font-size="10.8" dy="4.6">5/2</tspan></text><text x="128.3" y="139.20" font-size="13.5" text-anchor="end">1h<tspan font-size="10.8" dy="4.6">9/2</tspan></text><text x="128.3" y="155.50" font-size="13.5" text-anchor="end">1i<tspan font-size="10.8" dy="4.6">13/2</tspan></text></g>
</svg></body></html>
